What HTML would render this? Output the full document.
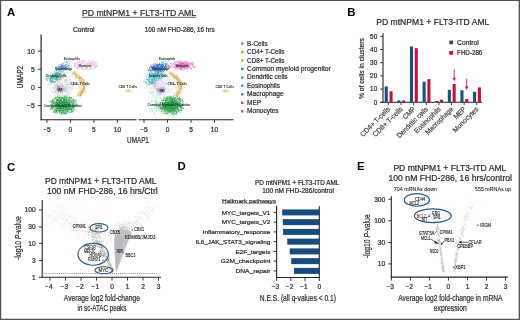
<!DOCTYPE html>
<html><head><meta charset="utf-8"><style>
html,body{margin:0;padding:0;background:#fff;}
svg{display:block;font-family:"Liberation Sans", sans-serif;will-change:transform;}
</style></head><body>
<svg width="520" height="320" viewBox="0 0 520 320" fill="#2b2b2b">
<rect width="520" height="320" fill="#fff"/>
<path d="M59.4 90.6h0M59.7 83.2h0M52.7 84.1h0M73.1 89.8h0M72.4 88.2h0M65.9 87.7h0M45.3 93.7h0M67.1 90.5h0M53.1 81.8h0M65.1 85.6h0M67.2 80.2h0M65.1 89.5h0M55.4 101.5h0M67.6 96.8h0M55.8 79.3h0M58.6 85.0h0M68.3 88.2h0M57.5 77.4h0M56.8 97.0h0M53.9 88.2h0M66.3 72.6h0M62.5 97.8h0M41.9 83.1h0M60.9 78.6h0M67.0 85.4h0M47.4 93.5h0M68.7 94.5h0M76.4 89.3h0M63.2 74.3h0M68.2 80.5h0M57.5 74.6h0M52.3 81.2h0M47.4 88.2h0M76.4 91.2h0M65.6 79.4h0M50.8 94.8h0M73.0 87.4h0M64.5 89.9h0M77.9 91.6h0M67.2 90.9h0M46.3 97.5h0M71.6 90.8h0M42.3 80.3h0M70.4 69.7h0M60.2 95.2h0M48.9 100.5h0M67.5 84.6h0M65.2 91.8h0M63.2 96.3h0M55.4 82.3h0M72.4 86.2h0M53.2 94.5h0M76.7 82.0h0M48.2 84.8h0M60.5 83.3h0M76.0 76.8h0M74.6 74.6h0M54.1 91.7h0M73.3 93.7h0M65.5 87.3h0M63.5 91.2h0M60.2 88.5h0M67.7 86.0h0M69.6 91.1h0M82.1 88.9h0M57.7 82.6h0M61.9 94.3h0M58.6 89.5h0M50.8 88.2h0M66.0 88.1h0M57.7 91.9h0M64.8 81.3h0M56.5 85.1h0M59.7 85.4h0M72.1 75.5h0M61.3 94.6h0M70.6 99.4h0M45.0 82.8h0M58.6 91.6h0M72.9 73.0h0M68.8 72.6h0M63.8 96.8h0M60.5 87.7h0M70.0 87.3h0M61.1 99.8h0M72.5 83.4h0M71.1 83.6h0M63.3 92.3h0M64.2 91.7h0M46.7 72.4h0M68.1 77.3h0M51.7 72.8h0M74.7 92.7h0M76.7 77.6h0M62.0 75.7h0M69.7 100.3h0M53.1 100.0h0M71.9 84.4h0M61.0 80.6h0M66.0 89.7h0M77.0 76.8h0M73.4 99.4h0M76.5 84.4h0M54.6 95.2h0M63.2 87.1h0M76.2 83.6h0M43.5 93.4h0M65.2 80.5h0M61.9 93.5h0M62.8 97.9h0M61.4 95.4h0M55.3 93.9h0M43.2 76.2h0M49.7 85.9h0M60.1 85.7h0M56.1 88.1h0M79.9 86.4h0M67.3 95.0h0M60.0 74.7h0M56.4 95.7h0M45.5 80.6h0M72.1 93.1h0M62.1 93.2h0M63.7 75.4h0M46.4 80.2h0M71.2 80.9h0M53.0 79.1h0M46.7 84.9h0M50.2 89.3h0M55.6 68.5h0M69.2 83.5h0M64.9 81.9h0M69.8 92.7h0M68.7 88.9h0M75.3 91.9h0M66.5 67.2h0M71.0 97.8h0M59.0 81.8h0M52.7 92.2h0M80.9 84.9h0M67.6 94.1h0M52.9 85.2h0M64.9 93.4h0M61.7 84.2h0M51.8 82.8h0M70.9 86.9h0M53.5 78.4h0M68.2 90.3h0M78.8 89.8h0M61.3 90.7h0M65.2 79.7h0M48.0 80.0h0M64.9 87.7h0M58.0 77.2h0M50.1 73.9h0M79.0 94.9h0M80.2 93.3h0M53.3 88.3h0M61.4 90.7h0M54.7 84.9h0M66.6 89.4h0M68.4 87.9h0M58.8 93.1h0M62.5 78.6h0M55.7 86.0h0M60.9 87.4h0M62.0 87.6h0M60.7 74.7h0M66.2 95.5h0M66.3 84.3h0M66.5 77.3h0M43.0 86.5h0M52.7 92.7h0M51.6 100.2h0M58.2 73.7h0M54.4 90.7h0M67.0 87.6h0M76.8 92.4h0M61.8 91.4h0M78.5 94.7h0M72.2 76.3h0M60.5 92.6h0M59.0 95.6h0M68.0 94.2h0M74.4 84.1h0M58.6 93.9h0M71.8 86.1h0M50.3 87.7h0M65.6 96.2h0M69.8 86.2h0M70.5 90.9h0M64.1 86.5h0M59.6 92.2h0M51.5 80.3h0M62.0 72.8h0M57.6 67.9h0M55.2 91.1h0M67.7 85.5h0M59.7 73.2h0M80.3 90.6h0M72.9 78.1h0M60.1 69.6h0M69.8 94.4h0M43.0 85.5h0M68.3 70.1h0M43.7 76.4h0M55.7 73.4h0M62.3 88.2h0M68.3 92.3h0M77.0 96.5h0M48.9 81.5h0M51.4 76.3h0M61.2 86.0h0M66.9 71.7h0M49.6 85.8h0M60.0 83.2h0M61.4 79.2h0M69.0 89.2h0M61.1 80.0h0M52.2 86.3h0M47.0 87.8h0M63.5 73.6h0M59.5 83.2h0M66.6 91.5h0M61.6 78.3h0M60.6 85.4h0M69.3 88.6h0M54.8 73.8h0M58.3 79.3h0M50.9 85.0h0M57.1 86.9h0M67.2 82.3h0M73.0 87.1h0M54.5 88.2h0M65.2 97.5h0M69.7 94.5h0M67.1 84.6h0M67.1 76.3h0M73.8 76.8h0M64.5 105.1h0M59.8 86.2h0M73.6 86.2h0M53.9 88.3h0M67.8 92.4h0M54.3 101.8h0M78.7 86.2h0M64.7 82.1h0M76.1 79.7h0M68.7 81.7h0M55.1 92.5h0M75.3 85.9h0M55.2 93.3h0M61.5 88.8h0M77.2 96.2h0M62.0 93.1h0M55.5 85.6h0M75.7 75.1h0M73.8 81.9h0M61.4 83.2h0M60.8 76.2h0M62.2 73.1h0M61.3 88.8h0M66.7 83.9h0M53.0 87.4h0M57.2 100.1h0M69.7 85.0h0M57.3 79.7h0M52.6 82.8h0M64.9 90.6h0M67.7 104.9h0M55.0 86.1h0M56.8 87.5h0M63.5 89.7h0M59.6 89.3h0M62.5 92.9h0M43.1 78.0h0M62.0 76.7h0M51.6 91.6h0M55.5 91.7h0M69.5 88.8h0M67.1 85.1h0M47.9 85.7h0M66.5 81.2h0M61.0 92.7h0M53.2 91.8h0M80.6 81.0h0M63.5 84.6h0M77.4 88.8h0M71.0 79.8h0M61.8 85.9h0M71.0 70.3h0M69.4 84.8h0M66.5 89.3h0M47.0 84.1h0M76.9 80.8h0M51.8 73.8h0M49.8 89.0h0M78.9 89.9h0M56.8 79.9h0M67.3 90.9h0M51.9 75.5h0M64.9 88.2h0M48.9 84.2h0M56.6 90.1h0M60.8 85.2h0M58.5 95.5h0M75.9 82.7h0M70.5 79.2h0M62.7 92.7h0M77.1 82.6h0M61.3 87.8h0M47.0 86.1h0M55.2 89.3h0M62.4 88.3h0M56.5 94.0h0M59.3 80.5h0M66.8 71.9h0M55.2 85.8h0M70.5 84.5h0M65.1 80.1h0M65.0 101.0h0M55.6 86.2h0M63.7 95.2h0M68.1 93.2h0M64.0 88.3h0M71.3 89.3h0M78.6 74.9h0M70.1 82.6h0M61.9 83.7h0M57.0 78.5h0M55.7 91.8h0M62.4 86.6h0M60.3 94.2h0M66.9 84.7h0M68.6 84.6h0M50.5 99.1h0M66.7 77.4h0M72.8 89.1h0M65.3 94.0h0M64.0 84.7h0M46.5 94.7h0M62.3 83.4h0M65.5 86.7h0M68.8 82.7h0M61.6 66.7h0M57.8 92.1h0M75.4 82.7h0M60.8 100.3h0M58.7 92.6h0M78.8 86.4h0M74.3 79.6h0M64.1 85.3h0M63.1 96.2h0M56.2 90.5h0M51.4 90.5h0M67.7 83.5h0M67.3 72.1h0M69.6 72.1h0M55.0 81.0h0M58.0 93.7h0M62.8 82.4h0M67.4 100.2h0M62.1 89.3h0M74.4 88.4h0M61.6 89.8h0M71.7 92.0h0M59.3 76.5h0M63.0 95.3h0M51.1 76.8h0M61.8 68.6h0M59.4 82.1h0M66.5 79.7h0M53.2 82.5h0M61.5 80.0h0M62.1 92.8h0M73.9 101.3h0M54.2 82.2h0M54.8 85.7h0M67.2 73.8h0M66.6 85.8h0M43.7 88.6h0M70.1 87.9h0M66.7 90.0h0M75.0 84.0h0M70.7 82.3h0M69.3 78.7h0M60.9 101.6h0M66.5 84.6h0M50.6 78.9h0M63.9 94.5h0M66.3 90.7h0M61.6 98.2h0M58.1 81.1h0M70.9 86.6h0M59.2 80.8h0M59.4 91.6h0M65.5 75.1h0M66.3 87.6h0M52.0 93.0h0M59.2 83.0h0M70.0 97.9h0M55.1 89.9h0" stroke="#a8d0d0" stroke-width="0.7" stroke-linecap="round" opacity="0.5" fill="none"/>
<path d="M60.5 91.2h0M59.5 88.9h0M61.0 87.0h0M63.3 80.0h0M79.1 84.5h0M52.5 89.1h0M51.9 90.9h0M60.0 84.9h0M72.8 84.7h0M72.3 88.4h0M58.3 89.2h0M67.5 87.9h0M70.3 88.4h0M65.2 87.0h0M61.7 84.2h0M70.2 81.3h0M72.0 79.3h0M65.9 80.8h0M65.1 79.9h0M52.8 90.6h0M66.1 80.6h0M65.4 89.9h0M57.2 83.3h0M67.8 87.2h0M61.7 71.4h0M72.7 86.0h0M64.1 82.3h0M65.8 81.4h0M56.8 79.6h0M59.8 80.3h0M55.9 87.8h0M54.8 88.0h0M56.9 86.1h0M73.6 85.2h0M58.9 84.3h0M65.0 73.6h0M59.7 85.0h0M60.7 84.5h0M69.1 88.6h0M70.3 87.5h0M62.0 83.9h0M62.1 82.1h0M62.7 73.7h0M61.7 83.9h0M57.2 83.9h0M67.6 83.0h0M62.6 73.0h0M67.6 82.2h0M70.0 86.2h0M64.2 80.5h0M68.5 81.1h0M65.6 80.9h0M65.4 88.5h0M57.9 83.8h0M68.3 84.9h0M57.6 72.5h0M70.0 93.2h0M70.5 88.9h0M59.7 79.7h0M70.2 78.5h0M51.3 78.0h0M59.2 79.6h0M65.6 79.5h0M73.2 83.5h0M56.4 91.9h0M59.9 85.3h0M63.9 82.1h0M66.3 79.8h0M55.1 79.4h0M63.8 84.3h0M67.9 84.7h0M58.4 79.7h0M49.2 83.0h0M67.4 87.2h0M63.2 83.0h0M70.6 84.1h0M69.2 87.5h0M65.5 91.8h0M60.0 81.8h0M58.3 79.2h0M64.2 87.4h0M72.2 88.8h0M72.4 76.4h0M59.5 86.7h0M74.0 84.6h0M58.0 81.9h0M59.4 78.9h0M74.5 80.2h0M64.1 97.0h0M72.3 86.0h0M59.7 86.5h0M75.4 87.7h0M72.8 84.6h0M67.6 82.8h0M67.0 91.8h0M54.0 83.6h0M65.7 80.6h0M61.8 88.7h0M78.0 87.8h0M66.3 74.7h0M77.5 84.5h0M63.8 77.3h0M63.6 77.4h0M64.5 86.8h0M64.2 85.7h0M58.0 92.6h0M59.4 73.1h0M62.7 79.4h0M56.9 81.9h0M66.0 76.9h0M63.0 92.6h0M68.8 83.1h0M64.9 83.3h0M63.7 88.4h0M63.8 78.7h0M68.6 80.3h0M65.0 97.1h0M56.7 77.3h0M50.9 86.2h0M59.5 72.8h0M53.6 87.7h0M58.6 81.8h0M66.3 92.1h0M65.0 85.1h0M61.8 86.7h0M66.0 84.3h0M60.5 76.0h0M60.3 74.7h0M72.6 87.2h0M55.6 92.4h0M70.2 72.5h0M76.9 88.9h0M67.7 86.5h0M65.4 85.0h0M71.4 75.0h0M55.3 75.6h0M60.1 80.4h0M66.6 85.6h0M64.2 79.9h0M60.9 89.7h0M69.3 84.6h0M61.7 93.3h0M59.8 87.9h0M72.1 82.4h0M69.8 77.3h0M71.1 85.2h0M52.9 88.0h0M57.8 91.7h0M59.2 83.0h0M66.0 82.0h0M65.8 80.7h0M68.7 84.0h0M72.1 84.2h0M51.5 84.6h0M67.3 90.4h0M56.4 93.3h0M63.0 88.1h0M61.4 77.3h0M71.7 89.4h0M74.8 89.1h0M60.0 74.0h0M59.4 79.9h0M58.3 87.5h0M66.3 82.4h0M65.2 83.1h0M65.5 88.5h0M70.7 79.9h0M53.5 92.6h0M64.8 90.6h0M52.5 82.0h0M64.2 75.4h0M60.4 88.3h0M71.5 93.6h0M58.0 75.6h0M67.6 89.6h0M65.4 76.2h0M69.5 88.8h0M67.9 81.1h0M66.1 88.7h0M60.1 72.9h0M66.3 86.9h0M64.1 89.3h0M59.9 83.5h0M61.9 87.4h0M75.2 82.5h0M69.5 87.5h0M76.4 82.9h0M63.2 77.6h0M67.3 92.1h0M67.7 86.5h0M62.6 85.0h0M54.0 90.3h0M61.1 77.4h0M58.7 79.1h0M70.0 90.3h0M54.5 89.6h0M70.2 80.5h0M53.6 79.5h0M59.6 86.1h0M61.5 71.8h0M65.6 74.8h0M70.3 76.8h0M59.1 78.9h0M60.2 91.8h0M70.0 87.6h0M66.2 74.7h0M60.4 80.7h0M57.2 87.1h0M58.8 79.7h0M68.2 92.0h0M65.2 78.1h0M72.5 85.8h0M70.5 92.9h0M71.9 81.4h0M71.4 88.7h0M53.2 81.6h0M54.0 83.3h0M68.0 77.6h0M66.6 92.8h0M54.7 90.4h0M62.5 85.6h0M62.9 90.0h0M71.3 84.5h0M54.5 88.4h0" stroke="#c8b8d8" stroke-width="0.7" stroke-linecap="round" opacity="0.5" fill="none"/>
<path d="M57.7 93.9h0M61.3 96.9h0M65.7 90.6h0M61.7 97.3h0M57.3 93.3h0M66.0 95.8h0M62.6 88.0h0M53.7 92.7h0M55.7 95.4h0M63.9 87.0h0M55.9 92.5h0M57.5 91.5h0M62.4 89.6h0M62.3 90.1h0M57.3 93.6h0M57.1 92.9h0M68.0 92.1h0M59.3 94.2h0M58.2 95.2h0M53.6 93.9h0M57.4 89.6h0M68.8 89.4h0M68.8 94.0h0M67.3 89.1h0M66.0 96.4h0M59.4 91.6h0M57.9 90.1h0M62.2 93.0h0M60.9 97.2h0M58.4 93.4h0M67.3 89.0h0M65.2 97.5h0M53.2 88.7h0M54.8 86.5h0M62.3 86.4h0M62.5 96.4h0M51.9 91.1h0M50.4 94.3h0M56.3 91.2h0M60.3 93.6h0M58.3 92.0h0M57.3 92.3h0M54.1 92.2h0M50.3 90.5h0M69.6 92.2h0M53.7 92.8h0M55.1 87.0h0M56.3 94.2h0M61.9 91.7h0M55.4 88.8h0M66.7 92.7h0M54.3 91.8h0M61.1 91.5h0M58.6 87.9h0M54.7 97.1h0M56.2 94.5h0M51.5 91.2h0M61.3 95.1h0M54.4 93.8h0M61.9 89.8h0M62.4 89.3h0M56.0 91.9h0M55.0 87.6h0M57.9 94.3h0M58.0 95.8h0M54.2 88.1h0M67.8 93.2h0M64.7 89.5h0M64.0 92.8h0M63.2 92.1h0M66.0 90.1h0M55.2 87.6h0M65.8 89.8h0M54.8 89.2h0M57.8 88.2h0M58.5 90.1h0M57.2 89.1h0M60.2 90.6h0M60.6 92.7h0M57.3 89.6h0M63.9 87.3h0M56.4 91.1h0M58.3 95.0h0M57.8 94.9h0M66.1 93.3h0M62.4 92.4h0M62.4 88.4h0M64.7 90.4h0M64.9 92.3h0M65.6 91.6h0M58.0 92.7h0M57.9 90.4h0M60.5 92.4h0M67.6 92.1h0M68.6 95.2h0M60.7 92.4h0M59.3 89.8h0M59.7 90.1h0M68.2 93.6h0M57.8 86.3h0M59.7 90.8h0M54.6 88.6h0M59.8 91.6h0M67.2 92.4h0M60.8 90.9h0M57.0 96.5h0M65.0 97.1h0M58.3 92.1h0M55.6 94.9h0" stroke="#b8d8c0" stroke-width="0.7" stroke-linecap="round" opacity="0.5" fill="none"/>
<path d="M50.2 81.8h0M62.2 77.6h0M52.9 81.9h0M51.4 77.0h0M51.4 83.1h0M61.8 71.5h0M51.7 78.1h0M50.7 74.1h0M54.2 81.5h0M63.2 71.7h0M51.8 77.5h0M48.6 83.9h0M52.3 82.2h0M46.4 78.2h0M55.7 74.5h0M58.9 75.1h0M51.3 81.4h0M56.5 70.3h0M64.1 73.6h0M56.2 70.7h0M51.9 78.0h0M58.2 70.8h0M54.9 78.4h0M47.4 79.8h0M59.9 79.5h0M58.0 74.6h0M49.1 77.7h0M52.8 79.0h0M57.6 81.1h0M55.3 73.7h0M63.5 75.4h0M54.9 75.0h0M46.0 79.2h0M58.3 72.8h0M50.1 80.8h0M57.4 77.8h0M60.3 78.7h0M53.2 81.4h0M52.2 81.1h0M56.6 77.1h0M59.7 74.5h0M61.5 76.3h0M55.3 75.3h0M51.5 77.6h0M54.6 77.4h0M57.6 73.0h0M52.0 78.0h0M54.9 74.1h0M61.7 71.6h0M55.9 77.7h0M57.2 78.0h0M56.9 76.7h0M46.3 80.0h0M56.6 75.8h0M51.1 77.7h0M57.0 80.2h0M52.2 76.1h0M53.3 78.8h0M56.1 77.5h0M56.6 79.3h0M61.5 69.6h0M55.8 76.0h0M54.9 72.5h0M58.0 76.1h0M52.8 76.1h0M48.1 78.4h0M59.3 76.6h0M56.1 78.3h0M53.0 78.7h0M56.4 78.2h0M55.0 76.8h0M54.0 75.8h0M59.4 69.8h0M59.7 77.3h0M57.2 72.3h0M52.1 79.8h0M56.3 73.3h0M53.3 77.0h0M56.2 77.6h0M52.6 74.8h0M63.1 77.7h0M56.5 79.7h0M58.3 77.5h0M56.5 74.0h0M59.4 78.0h0M54.3 83.9h0M65.1 73.8h0M53.2 76.4h0M52.1 79.3h0M56.3 78.7h0M59.1 76.4h0M56.4 75.8h0M53.8 75.3h0M56.2 76.5h0M55.7 74.2h0M55.7 77.0h0M56.7 73.0h0M58.7 78.3h0M57.6 74.6h0M53.0 77.7h0M60.8 78.9h0M53.9 75.9h0M57.4 76.5h0M50.6 77.5h0M56.0 78.9h0M48.9 77.6h0M56.0 72.8h0M56.5 77.6h0M53.6 74.9h0M54.8 76.4h0M55.8 74.2h0M57.9 70.3h0M54.7 77.5h0M58.8 73.1h0M57.1 74.3h0M61.1 79.3h0M54.4 79.1h0M52.8 81.6h0M60.8 74.1h0M51.1 80.8h0M62.0 76.7h0M56.5 70.6h0M54.5 82.1h0M51.7 82.8h0M64.7 74.1h0M59.9 73.4h0M50.1 79.8h0M54.6 77.4h0M58.3 74.9h0M56.9 77.5h0M58.0 81.4h0M57.5 76.1h0M53.7 76.0h0M61.5 74.0h0M50.1 78.4h0M54.3 76.3h0M58.6 71.5h0M57.8 76.1h0M50.5 80.1h0M55.8 78.4h0M54.0 78.8h0M46.8 78.6h0M60.3 77.5h0M54.6 75.6h0M53.0 80.6h0M56.9 72.9h0M54.9 74.5h0M57.0 79.0h0M56.4 70.8h0M61.0 75.1h0M57.0 79.5h0M51.8 76.9h0M53.8 77.8h0M51.5 80.9h0M58.0 75.8h0M62.4 72.0h0M60.4 72.4h0M56.1 70.5h0M56.1 76.1h0M52.5 76.8h0M53.0 76.2h0M52.4 77.1h0M50.7 79.3h0M58.6 74.4h0M55.2 81.5h0M61.0 76.8h0M60.1 73.3h0M56.5 80.0h0M52.9 78.1h0M57.6 76.9h0M55.7 80.0h0M55.7 79.2h0M61.0 75.9h0M57.1 72.4h0M49.0 78.8h0M59.6 79.4h0M50.6 80.8h0M50.8 77.4h0M55.3 79.3h0M58.0 79.3h0M52.5 81.6h0M59.6 74.8h0M56.8 74.5h0M50.2 78.8h0M55.7 82.1h0M56.8 77.2h0M57.6 73.3h0M60.0 75.6h0M49.8 82.2h0M58.5 76.7h0M61.8 72.1h0M58.7 77.5h0M53.3 82.1h0M47.4 77.5h0M56.3 73.1h0M52.7 73.4h0M54.2 74.1h0M54.9 72.5h0M57.1 75.2h0M55.7 76.7h0M54.2 73.5h0M50.8 78.3h0M54.6 71.2h0M51.4 77.5h0M51.4 80.4h0M53.8 75.4h0M52.3 81.4h0M53.4 80.0h0M54.8 71.4h0M50.8 79.7h0M58.1 78.0h0M60.4 77.5h0M53.6 77.4h0M58.3 74.0h0M57.9 70.6h0M58.1 75.0h0M56.9 76.3h0M50.2 78.6h0M60.9 71.3h0M50.1 79.7h0M52.5 75.8h0M53.3 81.6h0M51.6 75.8h0M59.7 76.4h0M52.0 81.4h0M46.3 79.4h0M60.0 73.6h0M50.6 81.5h0M59.4 74.7h0M47.2 80.7h0M58.4 77.8h0M63.2 71.8h0M53.4 78.1h0M59.4 71.7h0M58.0 73.4h0M58.4 77.5h0M50.3 79.8h0M57.3 77.8h0M50.1 77.0h0M54.4 77.0h0M50.3 83.0h0M55.2 81.8h0M59.2 74.9h0M57.1 72.5h0M53.3 76.4h0M50.0 80.2h0M56.8 80.8h0M50.9 78.2h0M57.9 76.9h0M55.0 75.8h0" stroke="#2aa08e" stroke-width="0.84" stroke-linecap="round" opacity="0.65" fill="none"/>
<path d="M64.9 67.8h0M56.1 66.7h0M57.8 65.1h0M63.5 67.3h0M63.4 65.6h0M62.2 65.6h0M64.4 68.4h0M69.6 69.5h0M60.0 66.4h0M59.5 67.8h0M70.4 68.5h0M58.2 68.1h0M63.0 67.7h0M69.7 65.7h0M59.8 70.7h0M64.3 65.8h0M63.2 69.0h0M62.5 66.0h0M60.2 70.6h0M56.4 67.5h0M63.1 68.3h0M61.5 68.1h0M66.1 66.9h0M61.3 66.9h0M59.4 66.8h0M61.9 67.6h0M68.0 69.6h0M61.3 68.3h0M64.1 68.6h0M63.1 67.7h0M61.2 65.8h0M66.3 69.5h0M65.5 68.0h0M64.0 66.4h0M56.3 68.4h0M63.7 66.2h0M59.4 69.5h0M60.3 67.2h0M61.1 67.5h0M62.2 65.9h0M67.0 65.8h0M61.1 68.2h0M61.0 66.4h0M64.3 66.5h0M58.3 67.0h0M62.2 70.3h0M58.9 68.9h0M60.1 66.6h0M61.8 67.7h0M66.2 70.3h0M60.6 69.6h0M66.7 68.7h0M60.2 68.8h0M62.6 67.8h0M62.0 68.4h0M67.2 69.2h0M62.2 69.0h0M68.4 65.5h0M68.5 64.8h0M65.0 68.3h0M68.6 67.7h0M61.2 65.8h0M58.3 68.6h0M62.1 65.9h0M65.0 65.8h0M61.4 66.4h0M62.4 64.4h0M64.0 67.3h0M64.3 68.2h0M61.8 68.9h0M66.1 67.6h0M61.5 66.3h0M65.6 65.2h0M62.4 65.9h0M57.8 68.3h0M62.9 67.3h0M66.3 64.5h0M62.7 67.7h0M66.1 65.2h0M65.7 67.6h0M68.1 69.2h0M63.0 66.4h0M61.7 65.5h0M62.9 63.8h0M62.7 68.0h0M66.7 66.6h0M68.2 66.0h0M62.5 63.8h0M60.1 65.8h0M68.5 68.1h0M59.0 68.1h0M64.8 66.8h0M63.1 66.7h0M61.0 64.1h0M62.7 69.5h0M68.2 66.7h0M60.3 66.8h0M66.3 67.8h0M60.9 67.8h0M62.2 68.1h0M61.5 64.6h0M63.2 68.5h0M58.9 67.0h0M66.2 66.5h0M60.6 70.8h0M66.0 69.0h0M59.5 70.1h0M56.9 66.3h0M65.7 69.5h0M59.6 66.0h0M63.7 63.8h0M65.3 68.2h0M61.4 68.1h0M65.8 67.7h0M64.9 69.8h0M61.3 67.5h0M61.1 69.0h0M61.5 68.0h0M63.5 67.3h0M69.2 67.1h0M68.1 68.6h0M67.8 66.9h0M66.4 68.5h0M60.8 67.7h0M62.5 67.1h0M67.7 65.9h0M61.4 66.1h0M63.1 68.2h0M69.4 67.7h0M64.7 65.9h0M65.1 69.6h0M66.2 69.9h0M66.0 64.6h0M61.9 68.2h0M64.5 65.8h0M59.8 68.9h0M58.2 69.7h0M63.1 67.7h0M58.2 66.2h0M65.5 64.7h0M58.6 67.3h0M64.7 68.5h0M61.7 66.8h0M62.1 66.2h0M63.9 67.5h0M60.7 67.6h0M63.0 67.1h0M67.0 64.2h0M63.9 65.4h0M61.9 69.8h0M59.1 67.0h0M60.9 68.8h0M59.5 64.3h0M64.9 66.6h0M61.8 69.1h0M59.8 66.6h0M63.5 67.9h0M61.1 69.0h0M71.1 66.5h0M68.1 66.6h0M63.5 66.6h0M60.7 65.0h0M61.6 69.4h0M67.1 66.6h0M61.1 66.0h0M58.7 70.3h0M65.4 67.4h0M61.2 65.4h0" stroke="#4a86c8" stroke-width="0.84" stroke-linecap="round" opacity="0.65" fill="none"/>
<path d="M69.2 62.8h0M65.4 63.0h0M65.1 62.7h0M65.4 61.6h0M67.8 62.5h0M68.7 61.1h0M69.7 63.4h0M67.0 62.5h0M65.7 61.8h0M64.8 62.1h0M67.3 63.4h0M68.6 62.9h0M66.4 61.8h0M66.4 62.2h0M63.8 62.8h0M64.4 61.5h0M67.0 61.5h0M69.8 61.9h0M69.6 63.2h0M66.2 62.4h0M69.2 61.6h0M67.1 61.4h0M67.1 61.6h0M67.1 63.1h0M69.3 62.1h0M67.3 62.9h0M66.5 60.9h0M68.9 61.0h0M68.6 61.0h0M70.1 60.9h0" stroke="#7cc4e0" stroke-width="0.7" stroke-linecap="round" opacity="0.5" fill="none"/>
<path d="M77.7 67.7h0M82.0 67.8h0M90.5 68.5h0M76.6 63.9h0M88.6 61.2h0M87.2 68.2h0M90.4 62.7h0M78.3 64.7h0M94.5 66.0h0M76.3 68.2h0M78.1 65.7h0M80.8 67.1h0M83.0 61.6h0M95.4 65.6h0M90.7 68.3h0M82.1 61.7h0M86.0 68.9h0M78.1 68.4h0M90.5 64.1h0M85.4 61.8h0M94.6 64.1h0M95.3 66.3h0M75.4 63.5h0M78.9 69.1h0M88.2 60.6h0M77.7 63.8h0M85.2 66.0h0M83.2 63.7h0M85.0 70.1h0M90.3 62.9h0M80.3 65.2h0M80.1 65.9h0M86.7 69.8h0M87.5 67.9h0M95.3 67.9h0M89.3 66.5h0M82.6 63.0h0M93.4 68.9h0M97.0 67.0h0M81.1 67.8h0M92.0 65.3h0M89.4 63.7h0M87.3 64.3h0M75.0 63.6h0M85.5 63.9h0M79.6 62.5h0M82.2 61.6h0M84.8 64.7h0M87.7 63.2h0M81.0 63.3h0M91.7 65.7h0M96.9 63.6h0M96.5 66.0h0M88.0 70.1h0M82.4 67.9h0M84.2 68.9h0M75.2 65.0h0M96.0 63.0h0M77.6 62.9h0M91.1 62.4h0M83.5 62.2h0M88.6 68.8h0M89.7 62.2h0M88.5 61.0h0M93.7 69.0h0M82.0 61.6h0M78.2 65.6h0M95.4 66.6h0M81.7 67.7h0M89.7 64.3h0M90.5 63.6h0M74.9 64.3h0M74.6 66.5h0M81.9 65.1h0M88.4 62.8h0M85.1 60.3h0M96.6 65.8h0M88.8 67.4h0M81.7 61.1h0M77.4 61.6h0M92.7 61.1h0M93.9 64.4h0M87.0 66.1h0M87.4 66.8h0M88.5 63.5h0M92.0 62.8h0M91.3 67.8h0M92.9 63.3h0M84.8 63.0h0M86.6 69.6h0M85.4 66.8h0M92.9 63.8h0M92.4 61.1h0M75.0 65.2h0M87.4 62.0h0M97.0 63.9h0M77.2 62.0h0M91.9 69.4h0M93.0 62.6h0M98.1 65.2h0M89.4 63.6h0M93.5 64.8h0M81.6 69.2h0M76.2 67.5h0M75.1 66.7h0M83.5 68.8h0M75.0 65.8h0M83.7 69.4h0M97.1 66.5h0M79.1 62.7h0M80.1 64.5h0M79.3 62.2h0M92.5 66.6h0M78.9 65.9h0M77.4 68.8h0M95.2 62.9h0M92.3 68.4h0M80.6 63.5h0M85.6 69.1h0M77.5 67.0h0M88.4 64.7h0M88.0 69.0h0M78.7 69.0h0M82.5 68.0h0M95.1 62.0h0M77.3 67.6h0M90.6 61.1h0M82.0 69.4h0M91.4 69.0h0M79.4 68.1h0M90.7 60.6h0M86.1 62.5h0M84.3 61.2h0M81.4 69.0h0M76.5 65.1h0M76.9 64.5h0M78.0 67.1h0M77.2 67.6h0M86.0 61.3h0M82.3 65.2h0M96.5 63.7h0M95.6 67.5h0M80.3 62.0h0M80.1 60.9h0M74.6 65.3h0M83.7 65.8h0M90.7 66.7h0M87.1 65.7h0M95.4 67.4h0M83.5 63.4h0M84.0 69.9h0M83.2 64.1h0M83.7 61.6h0M88.7 69.5h0M79.9 66.3h0M82.9 62.6h0M78.5 61.4h0M94.6 68.0h0M90.9 63.4h0M89.7 65.7h0M94.8 65.3h0M79.4 66.5h0M92.1 64.0h0M91.3 64.1h0M86.7 66.3h0M90.4 63.4h0M89.2 65.6h0M79.1 66.3h0M80.1 69.3h0M85.3 67.4h0M86.6 65.0h0M79.0 61.6h0M96.7 65.5h0M86.6 65.5h0M93.8 62.6h0M77.8 68.4h0M85.0 66.6h0M83.0 68.5h0M93.9 61.4h0M77.3 62.7h0M76.1 63.8h0M93.6 65.4h0M84.8 61.1h0M90.9 64.7h0M85.5 68.2h0M92.5 61.7h0M90.5 63.9h0M86.5 62.6h0M82.8 63.6h0M83.0 60.4h0M78.5 65.9h0M91.5 62.9h0M81.6 62.6h0M89.4 68.8h0M78.5 64.4h0M93.3 66.4h0M82.8 60.6h0M84.6 63.9h0M91.3 63.2h0M83.7 66.7h0M93.8 63.7h0M83.1 66.0h0M82.8 66.9h0M81.7 60.9h0M92.4 64.0h0M86.6 65.2h0M96.0 67.8h0M74.1 66.1h0M85.1 64.8h0M94.5 64.3h0M85.3 69.1h0M84.5 65.1h0M86.3 68.4h0M90.3 67.6h0M83.5 60.6h0M90.5 65.7h0M92.7 67.9h0M76.5 62.4h0M92.3 65.8h0M74.9 67.0h0M91.3 65.0h0M74.9 67.1h0M83.9 66.0h0M81.9 65.4h0M80.4 62.8h0M81.3 62.8h0M95.0 65.8h0M86.3 64.4h0M74.8 63.2h0M95.2 68.2h0M94.9 62.8h0M86.9 63.9h0M85.1 65.1h0M88.1 63.9h0M93.5 62.2h0M96.5 65.8h0M74.8 63.3h0M86.8 64.3h0M87.6 63.4h0M80.3 68.2h0" stroke="#d890c8" stroke-width="0.76" stroke-linecap="round" opacity="0.5" fill="none"/>
<path d="M80.7 78.4h0M86.0 85.9h0M81.0 83.2h0M81.6 93.6h0M75.2 72.0h0M73.2 74.3h0M79.6 91.9h0M77.1 77.1h0M82.3 96.0h0M83.9 83.4h0M83.7 88.1h0M79.3 76.2h0M79.7 91.2h0M76.4 79.1h0M74.1 76.5h0M78.4 94.2h0M82.7 81.4h0M81.3 94.6h0M82.7 88.3h0M82.5 88.5h0M73.1 74.0h0M79.8 76.7h0M84.1 85.7h0M75.8 77.3h0M81.5 94.9h0M75.2 77.9h0M80.6 90.5h0M73.3 73.0h0M82.3 80.5h0M84.0 84.7h0M76.6 72.4h0M81.7 82.3h0M80.8 87.7h0M74.9 76.7h0M77.1 92.2h0M83.1 84.4h0M81.4 77.9h0M80.8 84.3h0M78.8 93.7h0M80.3 92.4h0M83.9 86.1h0M76.7 75.4h0M78.0 80.0h0M80.2 76.0h0M78.4 93.2h0M78.9 95.3h0M79.3 81.3h0M74.2 72.9h0M81.9 79.2h0M82.3 89.6h0M77.4 76.6h0M75.1 72.9h0M81.5 85.4h0M81.2 90.5h0M83.6 86.1h0M82.9 84.1h0M75.6 74.1h0M83.9 85.6h0M82.6 79.4h0M76.2 77.3h0M76.5 77.2h0M82.0 92.6h0M81.8 93.6h0M75.1 74.6h0M79.8 92.5h0M81.8 84.8h0M76.5 74.3h0M82.9 84.6h0M83.6 83.7h0M81.3 81.8h0M77.7 77.5h0M80.4 92.6h0M82.7 83.8h0M79.9 95.1h0M82.3 83.6h0M85.0 88.8h0M78.9 77.5h0M80.3 77.6h0M73.9 71.9h0M79.3 79.7h0M79.2 92.6h0M78.2 78.3h0M82.7 86.1h0M75.5 71.7h0M81.9 75.2h0M74.9 71.1h0M84.3 86.7h0M83.3 78.5h0M85.1 93.0h0M72.0 73.5h0M80.9 95.7h0M74.5 75.1h0M79.4 77.6h0M78.4 73.9h0M80.6 80.5h0M78.1 77.9h0M76.5 83.0h0M82.9 91.3h0M85.4 82.4h0M80.4 94.0h0M83.2 90.2h0M84.0 86.8h0M81.3 92.3h0M83.5 89.3h0M79.4 81.4h0M79.6 87.4h0M80.7 89.2h0M78.1 93.5h0M80.6 94.0h0M84.8 92.5h0M86.0 85.8h0M81.2 90.4h0M82.1 93.7h0M79.2 85.2h0M77.2 93.1h0M79.7 89.8h0M78.9 78.4h0M78.8 76.0h0M82.4 82.8h0M78.9 93.0h0M83.4 88.4h0M83.7 91.4h0M83.6 91.7h0M84.8 93.5h0M80.2 82.4h0M80.5 91.6h0M83.1 78.5h0M83.7 91.7h0M72.3 72.3h0M75.7 74.9h0M83.6 92.4h0M81.5 83.1h0M80.7 80.1h0M80.2 91.7h0M83.4 86.7h0M79.3 78.9h0M85.1 89.2h0M81.2 91.0h0M76.1 74.9h0M82.2 92.0h0M78.1 76.1h0M78.0 82.7h0M77.6 78.6h0M81.9 94.4h0M85.3 79.3h0M82.9 83.9h0M77.9 95.5h0M75.4 78.2h0M82.1 84.6h0M79.7 95.0h0M82.1 82.8h0M82.2 79.6h0M77.2 72.2h0M84.0 83.8h0M79.0 82.4h0M84.6 88.0h0M75.3 73.1h0M80.4 96.1h0M82.4 79.8h0M83.2 79.8h0M84.5 84.0h0M85.9 82.9h0M81.0 80.8h0M81.7 92.2h0M84.6 88.6h0M83.2 90.2h0M81.0 93.8h0M74.6 71.0h0M78.7 81.2h0M78.2 92.0h0M77.8 74.2h0M74.2 72.6h0M81.9 81.2h0M81.7 77.1h0M83.0 90.4h0M80.4 82.7h0M80.3 97.0h0M85.4 88.5h0M79.6 82.2h0M83.6 88.6h0M79.1 79.3h0M80.2 91.1h0M82.6 91.3h0M82.3 84.3h0M79.8 92.5h0M76.0 77.9h0M79.6 80.1h0M81.3 81.2h0M78.5 95.0h0M80.7 79.1h0M79.4 94.7h0M81.1 82.8h0M75.7 74.7h0M80.3 81.8h0M79.4 95.6h0M79.6 93.4h0M81.4 83.0h0M84.1 91.4h0M79.4 80.4h0M80.6 83.8h0M84.4 85.0h0M81.6 76.9h0M80.0 81.4h0M80.9 78.2h0M83.4 86.9h0M72.0 75.7h0M83.0 92.5h0M80.3 95.3h0M79.7 78.3h0M82.5 85.0h0M83.2 90.3h0M83.3 92.1h0M76.2 74.2h0M77.6 94.3h0M84.2 87.1h0M84.1 80.0h0M79.9 94.9h0M83.1 80.5h0M82.6 91.6h0M80.4 92.6h0M85.4 84.1h0M80.8 94.0h0M76.6 75.1h0M81.6 81.9h0M81.5 84.2h0M85.1 85.5h0M83.0 80.9h0M82.0 92.7h0M81.8 90.7h0M83.9 88.1h0M85.8 91.2h0M80.6 93.8h0M81.7 89.4h0M82.7 94.4h0M76.8 74.7h0M85.6 86.5h0M78.4 79.8h0M81.0 91.4h0M79.6 78.6h0M74.6 75.4h0M80.3 87.6h0M81.7 80.2h0M80.3 88.1h0M79.7 80.4h0M72.4 72.0h0M80.3 78.1h0M75.1 72.1h0M81.4 91.1h0M73.2 73.6h0M79.2 76.9h0M84.0 87.0h0M82.0 85.5h0M78.4 77.4h0M82.5 92.7h0M82.3 91.6h0M82.4 90.7h0M73.9 71.7h0M74.2 73.8h0M83.5 86.9h0M83.8 80.4h0M83.9 83.8h0M81.7 93.3h0M77.6 95.5h0M84.0 77.5h0M77.6 95.1h0M75.9 76.0h0M83.5 82.3h0M84.7 81.8h0M80.6 80.4h0M78.9 79.7h0M78.1 76.6h0M84.1 81.5h0M78.3 76.5h0M80.4 77.6h0M84.4 85.1h0M86.5 91.2h0M77.9 93.7h0M84.0 89.5h0M74.2 73.9h0M81.0 92.7h0M83.6 89.5h0M82.1 79.8h0M79.3 73.4h0M83.3 76.9h0M73.2 74.0h0M79.5 93.1h0M82.7 91.6h0M75.5 74.9h0M76.8 76.0h0M80.1 97.4h0M80.0 93.8h0M83.4 92.6h0M75.3 76.5h0M81.7 84.3h0M78.4 77.0h0M80.2 93.9h0M78.8 87.9h0M83.7 81.6h0M84.8 90.1h0M79.8 91.4h0M75.7 76.2h0M83.1 85.8h0M79.1 82.4h0M82.1 90.8h0M79.6 84.0h0M82.2 84.7h0M75.0 73.2h0M79.2 92.4h0M83.4 83.2h0M79.8 77.2h0M80.9 94.3h0M82.7 86.0h0M75.9 75.6h0M81.5 85.9h0M83.7 87.1h0M75.3 72.5h0M81.2 88.8h0M81.4 81.7h0M83.4 88.0h0M84.3 87.5h0M83.9 88.6h0M80.3 94.0h0M82.1 86.2h0M78.5 95.8h0M80.4 75.9h0M80.2 91.0h0M83.2 87.0h0M75.5 74.1h0M78.9 95.8h0M74.0 73.2h0M78.4 78.4h0M83.6 88.0h0M81.9 96.0h0M81.6 76.4h0M75.3 77.9h0M75.3 75.0h0M79.3 95.9h0M82.9 91.8h0M77.7 75.4h0M82.3 90.9h0M80.7 93.5h0M81.4 92.6h0M82.3 85.2h0M84.9 86.7h0M83.0 86.1h0M74.2 73.1h0M83.5 84.8h0M71.5 74.0h0M79.8 88.9h0M81.5 91.3h0M81.0 83.3h0M77.3 78.2h0M79.2 83.5h0M80.3 85.3h0M79.5 81.5h0M80.2 91.8h0M80.4 91.9h0M79.7 79.7h0M81.3 89.8h0M77.7 94.8h0" stroke="#e6c47c" stroke-width="0.84" stroke-linecap="round" opacity="0.5" fill="none"/>
<path d="M83.2 90.0h0M76.8 75.3h0M84.7 88.4h0M84.0 82.6h0M83.7 81.3h0M81.8 94.2h0M83.3 89.1h0M83.9 92.6h0M82.9 88.6h0M82.2 92.1h0M83.0 82.3h0M81.0 94.7h0M83.5 82.4h0M81.8 78.9h0M82.3 80.3h0M83.1 82.6h0M80.6 96.1h0M84.7 90.5h0M81.6 91.3h0M80.9 78.7h0M80.4 78.1h0M79.9 77.8h0M81.4 92.8h0M83.7 90.3h0M82.5 89.9h0M84.8 84.3h0M76.4 75.4h0M84.7 86.7h0M83.9 79.8h0M78.4 76.0h0M84.5 84.4h0M81.4 94.8h0M82.2 82.1h0M80.7 95.5h0M76.0 74.9h0M81.0 93.3h0M73.5 73.2h0M78.9 95.0h0M79.2 75.8h0M83.6 88.2h0M83.6 89.6h0M80.9 78.0h0M74.1 73.4h0M80.9 78.1h0M80.8 95.5h0M84.9 87.5h0M84.4 86.0h0M75.5 73.8h0M75.0 74.9h0M77.6 76.0h0M77.8 73.8h0M83.9 88.2h0M80.8 78.7h0M76.6 74.7h0M82.1 78.8h0M82.9 82.7h0M82.5 88.8h0M81.4 80.7h0M81.5 91.1h0M79.6 77.9h0M82.0 92.1h0M81.6 78.1h0M73.1 73.7h0M77.2 77.4h0M85.0 87.6h0M79.0 76.3h0M76.7 77.2h0M81.7 81.7h0M84.6 87.4h0M75.4 74.1h0M73.4 73.5h0M80.6 95.2h0M82.5 80.6h0M83.6 90.8h0M80.8 77.8h0M76.4 75.8h0M80.2 78.3h0M83.1 80.8h0M83.4 90.0h0M79.3 77.9h0M83.3 80.8h0M83.0 83.4h0M81.3 92.1h0M82.3 91.7h0M79.5 78.4h0M76.8 75.5h0M83.6 82.8h0M77.1 75.1h0M83.5 83.4h0M83.0 82.6h0M76.6 75.9h0M83.4 83.1h0M81.1 94.5h0M79.8 77.5h0M84.9 90.0h0M80.8 95.4h0M81.2 91.7h0M83.0 84.5h0M79.7 78.5h0M78.7 78.3h0M75.9 74.6h0M82.1 83.4h0M83.1 89.0h0M81.4 79.9h0M79.5 77.0h0M77.3 75.0h0M80.2 95.9h0M73.4 73.3h0M84.3 87.4h0M83.7 83.1h0M84.1 89.6h0M84.0 83.7h0M84.4 86.2h0M83.3 91.1h0M80.8 94.6h0M83.6 80.0h0M81.4 93.4h0M83.8 86.0h0M81.2 93.2h0M74.2 73.9h0M83.1 82.5h0M83.3 89.5h0M83.5 85.7h0M84.3 88.0h0M73.2 73.7h0M83.9 83.2h0M83.2 84.2h0M79.9 96.0h0M83.9 86.6h0M78.4 78.1h0M79.9 96.3h0M80.3 94.9h0M82.2 79.4h0M83.8 87.7h0M74.0 73.2h0M82.5 91.5h0M73.2 72.6h0M83.8 82.6h0M84.3 85.2h0M80.4 77.7h0" stroke="#d4a040" stroke-width="0.8" stroke-linecap="round" opacity="0.5" fill="none"/>
<path d="M61.4 90.3h0M56.9 89.2h0M61.2 89.1h0M60.7 90.6h0M57.9 88.4h0M55.7 91.7h0M57.6 86.3h0M62.6 89.1h0M63.1 88.8h0M60.9 89.7h0M59.9 91.0h0M65.9 88.7h0M57.5 90.6h0M63.4 86.7h0M58.6 87.6h0M62.0 90.4h0M58.5 87.4h0M62.4 85.6h0M62.2 89.2h0M65.7 91.4h0M58.9 89.0h0M59.7 88.1h0M60.7 91.3h0M56.4 89.1h0M64.5 90.9h0M58.3 88.0h0M58.2 86.5h0M63.6 89.6h0M58.6 86.8h0M59.5 88.5h0M65.2 88.6h0M60.8 91.5h0M62.3 89.2h0M62.1 88.7h0M60.3 87.7h0M58.1 86.7h0M61.9 90.5h0M61.0 91.0h0M61.9 89.7h0M58.1 90.6h0M63.7 90.7h0M63.9 88.6h0M57.9 91.8h0M58.9 90.0h0M60.0 89.5h0M59.8 88.5h0M61.0 85.9h0M58.1 87.4h0M62.1 92.6h0M59.8 90.9h0M62.1 87.2h0M63.8 86.4h0M58.9 88.8h0M63.9 89.7h0M60.2 88.0h0M60.7 89.6h0M62.5 92.1h0M62.5 89.5h0M60.1 92.5h0M61.0 89.5h0M62.0 89.3h0M58.8 91.5h0M59.3 91.3h0M58.4 89.7h0M61.6 89.8h0M61.1 90.2h0M57.5 87.4h0M60.1 92.9h0M60.2 87.8h0M58.7 89.6h0M63.7 88.4h0M62.0 89.8h0M59.5 87.7h0M60.1 88.2h0M61.9 86.2h0M63.5 90.9h0M62.1 92.3h0M62.1 86.3h0M60.6 90.3h0M58.7 87.4h0M61.7 90.4h0M59.4 89.1h0M59.1 88.4h0M60.3 91.5h0M56.2 88.9h0M64.8 90.1h0M60.9 91.0h0M57.8 87.3h0M56.0 86.8h0M61.2 91.1h0M59.4 88.2h0M61.6 90.6h0M61.2 86.0h0M61.2 87.9h0M58.7 92.3h0M64.0 90.4h0M61.2 89.8h0M58.9 89.4h0M65.6 87.9h0M58.7 89.8h0M62.9 91.0h0M57.9 89.3h0M59.8 87.2h0M60.7 88.6h0M63.0 90.3h0M58.4 89.6h0M59.5 88.3h0M59.2 91.5h0M59.4 86.3h0M58.4 91.0h0M59.5 88.9h0M56.7 90.2h0" stroke="#a070b0" stroke-width="0.8" stroke-linecap="round" opacity="0.5" fill="none"/>
<path d="M56.9 85.4h0M58.2 86.2h0M56.1 84.1h0M59.3 86.0h0M57.2 83.4h0M58.3 85.8h0M58.2 85.4h0M57.1 84.2h0M57.5 85.4h0M58.0 86.6h0M57.5 84.2h0M58.2 87.3h0M55.8 85.6h0M57.8 85.8h0M57.7 84.9h0M56.9 87.5h0M59.5 83.0h0" stroke="#e07080" stroke-width="0.8" stroke-linecap="round" opacity="0.45" fill="none"/>
<path d="M61.4 102.5h0M55.2 106.7h0M65.6 102.4h0M76.0 110.7h0M63.2 108.2h0M65.7 110.6h0M70.0 104.8h0M69.8 101.5h0M71.4 112.3h0M63.5 107.7h0M54.7 109.6h0M72.0 100.0h0M77.9 105.6h0M54.2 98.4h0M71.9 103.7h0M73.5 97.5h0M65.3 109.7h0M61.4 108.3h0M63.6 106.7h0M57.6 108.8h0M74.9 99.5h0M64.4 96.7h0M68.1 101.5h0M62.2 100.9h0M68.0 102.7h0M59.9 103.9h0M68.8 100.8h0M73.6 96.9h0M68.8 103.1h0M76.7 101.9h0M61.5 98.5h0M79.5 108.0h0M58.6 103.4h0M59.5 112.4h0M68.8 95.1h0M67.4 109.4h0M66.0 107.3h0M65.3 106.0h0M67.4 101.6h0M68.4 105.8h0M65.7 101.7h0M59.1 106.2h0M62.4 111.6h0M72.2 101.5h0M75.2 100.2h0M60.6 114.4h0M63.0 103.9h0M54.8 100.1h0M58.0 104.3h0M53.5 110.2h0M63.6 102.1h0M61.7 108.6h0M76.4 103.0h0M75.1 106.5h0M55.9 108.3h0M63.2 105.9h0M53.2 103.6h0M67.6 100.4h0M68.0 113.1h0M67.6 101.7h0M59.7 107.0h0M67.8 109.0h0M60.6 112.1h0M69.4 110.8h0M55.6 105.0h0M75.0 105.0h0M67.2 101.9h0M73.5 101.6h0M66.8 94.9h0M66.4 106.0h0M51.0 104.8h0M62.4 104.0h0M57.4 98.4h0M57.6 108.1h0M65.7 109.0h0M58.6 107.9h0M63.0 105.4h0M72.4 105.2h0M63.6 96.9h0M66.4 108.8h0M61.7 104.7h0M53.9 98.5h0M68.8 111.3h0M63.9 96.8h0M63.4 97.3h0M64.1 114.4h0M68.1 104.3h0M73.1 103.1h0M68.3 106.0h0M69.1 97.8h0M70.9 109.3h0M59.9 112.3h0M66.1 108.3h0M69.8 109.4h0M61.6 102.1h0M68.6 108.0h0M69.9 106.7h0M62.7 110.4h0M69.2 110.2h0M61.4 105.6h0M62.7 103.5h0M67.3 106.7h0M60.6 107.7h0M60.2 107.1h0M63.5 100.4h0M74.1 113.2h0M65.3 104.8h0M72.6 98.5h0M60.0 110.6h0M72.2 102.6h0M60.6 106.7h0M56.3 102.5h0M70.1 108.8h0M73.4 97.9h0M57.1 101.0h0M59.2 103.5h0M67.4 107.3h0M76.1 99.6h0M72.1 105.7h0M57.9 105.7h0M56.3 113.0h0M60.9 110.0h0M75.0 101.9h0M59.8 105.6h0M58.7 109.5h0M67.2 101.2h0M61.2 108.6h0M60.5 104.0h0M59.6 113.1h0M71.7 111.5h0M70.5 105.4h0M77.8 108.3h0M69.0 107.9h0M71.1 106.4h0M64.8 97.1h0M61.8 106.3h0M65.8 95.1h0M63.7 106.5h0M74.2 99.0h0M68.3 105.4h0M67.0 105.7h0M63.4 98.2h0M69.2 106.9h0M70.0 111.2h0M59.6 107.0h0M65.9 108.6h0M64.8 102.0h0M67.7 107.6h0M59.2 111.6h0M74.0 107.2h0M65.2 103.8h0M54.5 108.3h0M59.2 102.5h0M73.0 100.4h0M62.3 109.3h0M79.0 101.5h0M73.7 101.7h0M68.7 107.4h0M58.0 110.1h0M78.6 105.3h0M67.9 99.1h0M78.5 105.3h0M57.1 108.8h0M55.8 101.6h0M61.4 102.1h0M62.0 107.8h0M76.2 100.0h0M69.1 96.0h0M76.7 104.6h0M61.1 112.7h0M65.3 111.8h0M73.5 113.3h0M60.4 105.3h0M68.6 104.0h0M76.7 101.4h0M73.0 111.8h0M52.3 100.2h0M59.7 102.3h0M68.7 104.1h0M66.6 102.7h0M65.4 107.4h0M71.2 101.1h0M65.2 101.2h0M64.8 97.8h0M72.7 108.4h0M65.1 101.6h0M62.8 101.7h0M57.8 107.9h0M70.2 97.1h0M52.6 107.7h0M62.5 105.4h0M66.0 102.2h0M65.0 103.5h0M74.7 104.5h0M65.8 102.4h0M61.6 101.3h0M66.1 114.2h0M73.8 106.2h0M77.7 110.1h0M67.5 104.2h0M58.3 106.2h0M63.8 97.1h0M67.5 107.5h0M67.4 102.7h0M69.2 110.4h0M63.8 107.6h0M73.2 102.6h0M67.2 101.3h0M70.2 103.2h0M74.0 101.2h0M77.8 103.4h0M60.1 100.5h0M70.6 100.7h0M69.6 97.9h0M65.8 101.4h0M53.3 107.1h0" stroke="#9ad4aa" stroke-width="0.8" stroke-linecap="round" opacity="0.5" fill="none"/>
<path d="M68.3 110.8h0M56.8 103.5h0M64.7 107.1h0M55.6 106.0h0M62.3 109.3h0M52.6 102.5h0M59.7 103.6h0M67.7 102.2h0M68.5 109.6h0M69.3 104.1h0M57.6 103.9h0M67.3 105.5h0M66.8 107.6h0M57.3 100.8h0M72.4 102.8h0M57.6 100.8h0M69.3 99.9h0M57.3 109.7h0M63.8 105.2h0M58.8 104.0h0M59.7 104.9h0M68.0 99.3h0M72.8 104.7h0M62.9 104.7h0M69.5 106.4h0M68.5 104.2h0M62.2 104.7h0M50.9 109.9h0M52.7 100.5h0M67.4 105.2h0M68.3 112.7h0M61.5 114.2h0M57.3 104.6h0M69.5 104.0h0M62.2 103.4h0M71.3 109.8h0M62.5 107.5h0M56.7 110.0h0M72.1 104.7h0M60.8 102.8h0M61.8 99.4h0M54.2 112.5h0M62.9 107.5h0M65.0 107.1h0M53.1 100.7h0M67.1 109.5h0M55.6 102.4h0M56.1 107.9h0M65.2 105.1h0M58.8 106.5h0M63.2 101.7h0M65.2 102.0h0M69.2 107.8h0M58.5 107.6h0M63.4 101.8h0M57.1 97.5h0M55.7 106.6h0M70.8 102.2h0M64.0 106.5h0M68.1 107.0h0M71.0 108.4h0M58.0 106.8h0M63.1 107.6h0M61.0 108.7h0M71.6 101.2h0M59.5 106.2h0M66.2 105.6h0M68.4 99.7h0M68.0 110.2h0M70.2 106.9h0M61.5 106.8h0M62.5 97.9h0M59.1 104.8h0M59.6 100.8h0M61.5 103.3h0M63.4 104.8h0M64.1 109.5h0M63.9 106.8h0M60.4 108.0h0M60.8 102.2h0M54.9 109.0h0M59.6 106.1h0M70.4 107.4h0M69.2 108.1h0M58.7 105.2h0M59.3 100.4h0M64.9 101.5h0M73.9 101.7h0M59.5 105.4h0M59.6 105.2h0M59.0 98.6h0M72.9 107.0h0M64.0 102.9h0M62.1 106.3h0M54.0 101.4h0M57.2 110.7h0M56.1 110.3h0M62.5 105.1h0M71.8 108.9h0M69.1 100.2h0M70.4 112.6h0M62.3 102.8h0M55.9 109.6h0M64.9 105.0h0M55.0 112.3h0M68.7 104.9h0M72.6 100.7h0M68.7 100.5h0M72.2 103.8h0M70.9 103.1h0M65.6 110.1h0M57.1 105.4h0M57.6 108.8h0M59.1 103.3h0M61.7 110.2h0M56.2 104.9h0M60.9 102.5h0M57.9 104.3h0M64.3 98.0h0M64.5 99.7h0M56.7 104.7h0M61.3 109.4h0M59.9 97.0h0M52.5 105.8h0M64.6 109.8h0M59.5 108.0h0M56.1 110.8h0M62.5 101.9h0M64.2 112.8h0M57.5 99.4h0M56.4 99.8h0M62.7 106.6h0M61.9 105.9h0M70.7 103.7h0M64.6 101.9h0M61.4 106.8h0M66.0 97.9h0M56.8 105.3h0M62.1 110.2h0M59.7 95.7h0M70.6 97.6h0M56.7 106.8h0M64.5 107.4h0M66.5 101.8h0M71.2 97.4h0M59.2 106.3h0M63.9 100.7h0M73.3 111.6h0M56.9 106.7h0M58.9 103.1h0M69.4 105.6h0M62.3 105.5h0M55.4 110.5h0M58.1 110.9h0M60.0 102.9h0M72.7 105.9h0M58.8 102.6h0M66.9 113.4h0M67.0 103.2h0M55.7 102.0h0M62.2 106.1h0M58.7 110.8h0M56.8 101.8h0M66.2 107.2h0M60.5 109.3h0M53.8 112.4h0M63.8 113.9h0M63.3 111.0h0M61.7 105.9h0M66.4 97.1h0M61.6 112.7h0M69.0 106.5h0M64.3 111.2h0M65.2 96.5h0M56.9 103.7h0M63.9 103.0h0M62.3 112.5h0M69.1 107.7h0M63.1 105.3h0M65.4 106.1h0M58.3 108.5h0M57.6 104.8h0M60.7 99.8h0M66.9 104.7h0M55.4 104.7h0M54.1 111.4h0M66.4 113.9h0M59.3 108.2h0M56.7 101.2h0M62.4 106.8h0M69.0 103.8h0M70.2 109.3h0M57.3 104.2h0M57.1 112.7h0M59.4 109.0h0M68.9 103.9h0M59.8 106.5h0M58.0 99.3h0M56.7 106.5h0M64.2 112.9h0M51.2 107.3h0M55.5 110.2h0M67.5 105.6h0M72.5 103.3h0M59.6 100.3h0M58.8 105.5h0M67.4 110.7h0M61.3 101.7h0M60.8 103.1h0M60.0 103.2h0M57.4 104.8h0M59.7 104.2h0M54.0 105.6h0M66.7 107.9h0M59.5 99.9h0M54.6 99.8h0M58.8 103.6h0M51.6 108.0h0M53.1 101.9h0M58.3 108.7h0M74.9 103.4h0M61.2 103.3h0M61.7 104.2h0M62.3 101.5h0M65.3 102.7h0M66.7 100.2h0M76.6 105.9h0M51.6 108.1h0M60.0 99.9h0M65.8 102.7h0M67.8 102.6h0M68.8 105.7h0M65.3 105.7h0M60.7 103.4h0M65.9 108.2h0M73.9 99.9h0M70.0 104.7h0M64.5 101.5h0M73.6 101.3h0M62.5 101.8h0M54.5 103.0h0M65.3 103.1h0M60.7 100.2h0M64.6 100.2h0M60.9 112.3h0M65.4 102.0h0M60.8 100.7h0M63.7 108.1h0M69.0 103.8h0M55.3 104.7h0M73.7 106.3h0M62.6 95.8h0M60.2 107.4h0M56.9 111.0h0M59.4 101.2h0M59.3 104.6h0M69.4 102.5h0M51.6 104.7h0M66.3 111.8h0M55.8 111.6h0M67.3 107.0h0M58.1 101.1h0M56.9 109.1h0M64.4 109.7h0M74.6 105.1h0M62.7 113.5h0M54.7 103.0h0M60.6 103.3h0M63.9 101.3h0M70.4 99.0h0M57.8 97.6h0M54.0 107.6h0M67.0 104.1h0M68.4 107.7h0M59.3 104.8h0M65.3 113.9h0M60.2 106.7h0M66.5 110.4h0M65.7 109.7h0M56.2 103.9h0M50.6 104.8h0M63.6 106.2h0M63.9 99.2h0M58.6 104.3h0M64.1 101.2h0M62.3 101.8h0M54.6 102.1h0M57.9 108.7h0M71.6 107.6h0M61.6 102.6h0M53.0 102.7h0M73.0 110.1h0M64.4 103.9h0M63.0 106.9h0M63.0 106.9h0M58.1 105.2h0M60.8 109.8h0M55.1 110.7h0M62.5 102.8h0M63.1 105.6h0M61.5 106.9h0M59.3 97.6h0M67.4 104.9h0M73.6 106.7h0M58.6 107.4h0M56.0 104.6h0M52.7 108.0h0M66.6 100.5h0M65.9 109.1h0M68.2 102.1h0M58.6 100.1h0M54.7 106.4h0M63.3 110.7h0M64.8 103.6h0M53.9 111.8h0M64.1 104.9h0M56.6 100.4h0M67.0 100.8h0M66.7 107.8h0M60.6 97.9h0M65.6 111.2h0M57.7 99.5h0M70.0 105.7h0M59.0 110.4h0M61.2 107.0h0M60.4 101.8h0M64.4 101.3h0M51.7 102.7h0M70.9 109.8h0M73.3 106.1h0M60.2 107.1h0M56.9 108.3h0M60.1 106.2h0M57.6 104.5h0M69.3 104.1h0M58.7 106.3h0M68.6 104.2h0M55.5 98.2h0M54.5 109.7h0M62.4 107.1h0M69.8 106.3h0M66.1 102.8h0M52.7 107.8h0M62.4 107.6h0M56.2 104.4h0M75.8 101.4h0M63.6 110.8h0M61.5 105.6h0M60.2 110.7h0M62.4 103.4h0M65.8 104.0h0M59.7 111.8h0M69.3 105.5h0M68.2 108.6h0M66.7 105.3h0M63.5 106.8h0M66.6 106.6h0M59.5 104.7h0M65.9 100.8h0M62.9 108.3h0M64.1 103.8h0M62.9 103.0h0M69.3 103.4h0M52.4 99.8h0M64.9 106.0h0M60.0 99.4h0M62.1 101.4h0M58.8 105.1h0M58.1 106.4h0M58.3 103.1h0M61.6 111.4h0M73.0 109.1h0M58.3 105.1h0M68.8 108.5h0M52.6 104.8h0M58.3 108.3h0M67.1 102.8h0M76.6 103.9h0M62.5 113.2h0M59.7 103.0h0M72.4 104.9h0M66.0 99.6h0M74.4 109.3h0M65.3 108.1h0M59.8 103.0h0M53.0 106.7h0M70.9 108.8h0M68.9 108.1h0M57.1 99.5h0M67.1 105.8h0M69.3 103.9h0M57.4 107.0h0M59.5 98.0h0M59.1 101.3h0M55.9 102.7h0M74.0 103.3h0M70.3 104.8h0M65.6 102.2h0M62.5 97.9h0M74.4 101.8h0M66.7 102.6h0M64.7 100.0h0M60.6 109.0h0M66.8 96.7h0M68.4 99.5h0M64.8 107.3h0M58.9 103.7h0M61.4 106.8h0M68.8 110.9h0M65.1 113.6h0M57.0 112.7h0M61.3 108.4h0M62.2 105.4h0M57.2 106.7h0M75.9 105.7h0M62.9 105.1h0M67.5 104.2h0M63.0 106.0h0M71.3 109.1h0M56.3 102.4h0M63.1 108.7h0M69.2 104.2h0M76.5 104.4h0M71.9 111.2h0M73.2 105.9h0M66.7 98.5h0M51.7 102.5h0M67.6 109.6h0M62.3 109.5h0M66.7 111.6h0M52.9 101.5h0M56.9 100.6h0M73.5 101.1h0M57.7 103.4h0M68.6 103.1h0M67.7 107.4h0M57.2 99.7h0M73.4 102.0h0M56.2 106.7h0M63.3 101.1h0M70.0 109.0h0M64.8 101.8h0M57.4 96.3h0M65.4 106.7h0M57.1 105.2h0M52.1 107.7h0M60.3 103.0h0M67.0 104.5h0M69.3 107.3h0M70.4 105.6h0M52.2 109.5h0M64.6 99.1h0M63.4 108.8h0M56.5 105.2h0M58.3 100.8h0M59.1 110.5h0M67.4 104.9h0M62.5 105.6h0M64.8 105.8h0M52.1 109.0h0M67.5 99.9h0M62.1 104.7h0M59.2 107.3h0M61.3 103.9h0M56.9 103.9h0M56.4 105.2h0M71.4 109.4h0M65.7 99.2h0M69.6 109.0h0M63.1 103.6h0M69.9 100.4h0M69.4 96.5h0M63.1 110.9h0M59.1 107.6h0M63.6 98.8h0M59.0 109.9h0M70.6 102.5h0M70.2 102.0h0M64.6 104.9h0M55.0 106.4h0M57.7 101.4h0M57.7 100.8h0M68.7 105.3h0M64.6 103.9h0M63.4 103.9h0M56.0 98.5h0M63.5 109.4h0M64.5 112.0h0M54.3 103.9h0M59.1 110.3h0M73.8 102.8h0M67.7 104.0h0M56.6 104.6h0M56.3 111.7h0M66.8 110.1h0M68.1 105.4h0M69.5 112.4h0M56.5 108.4h0M65.1 104.3h0M61.2 107.3h0M66.7 107.9h0M60.4 99.4h0M71.4 110.6h0M59.4 104.9h0M68.2 97.5h0M64.7 102.0h0M76.1 105.1h0M64.4 103.2h0M64.2 97.3h0M54.8 98.7h0M68.8 104.6h0M59.2 111.3h0M57.9 97.0h0M58.2 103.5h0M62.9 110.6h0M71.5 111.7h0M66.7 102.9h0M59.8 98.6h0M71.1 110.4h0M63.6 101.2h0M67.3 107.1h0M64.0 100.0h0M64.5 102.6h0M67.7 107.6h0M65.8 103.2h0M72.7 108.3h0M71.1 108.6h0M67.2 106.7h0M56.2 97.2h0M57.0 107.7h0M68.8 105.8h0M63.6 112.9h0M60.5 97.3h0M53.1 103.6h0M67.5 108.2h0M61.6 108.5h0M62.7 101.9h0M60.6 108.3h0M69.1 100.2h0M56.7 105.5h0M55.0 106.8h0M66.2 102.4h0M62.8 107.1h0M51.9 104.9h0M66.8 109.0h0M70.4 104.7h0M53.8 110.8h0M67.9 102.3h0M69.6 109.5h0M60.0 101.7h0M57.7 104.7h0M56.1 106.7h0M75.0 99.9h0M69.6 102.7h0M66.5 104.5h0M71.2 101.9h0M67.7 101.7h0M64.5 104.9h0M69.9 98.2h0M54.4 111.0h0M65.5 112.3h0M56.4 105.9h0M66.8 112.6h0M62.7 103.1h0M67.6 104.6h0M58.2 108.3h0M50.9 100.6h0M71.7 102.8h0M60.9 106.6h0M70.1 107.3h0M56.9 102.6h0M69.7 104.5h0M59.0 108.8h0M56.2 102.0h0M58.6 106.5h0M60.0 109.8h0M58.9 103.8h0M66.6 105.9h0M56.6 111.5h0M66.7 102.9h0M64.3 100.2h0M55.2 103.7h0M65.3 105.4h0M58.1 99.0h0M65.3 101.5h0M70.5 107.3h0M60.4 102.4h0M70.2 106.4h0M73.4 106.6h0M59.3 102.4h0M58.5 106.1h0M64.6 107.6h0M65.9 100.5h0M61.7 100.9h0M66.1 99.3h0M59.3 101.3h0M59.1 103.9h0M72.6 103.9h0M53.9 103.7h0M67.7 107.4h0M64.5 113.6h0M70.0 105.4h0M70.7 99.2h0M61.9 101.3h0M64.1 112.0h0M59.9 111.9h0M56.5 111.2h0M52.3 101.3h0M69.3 104.6h0M63.9 104.9h0M64.1 104.2h0M56.8 103.7h0M63.7 101.1h0M66.0 112.6h0M52.6 102.7h0M61.2 105.1h0M63.6 101.9h0M62.8 105.0h0M62.5 111.7h0M63.8 98.6h0M53.1 107.6h0M60.8 102.3h0M54.4 103.7h0M62.4 102.0h0M60.8 108.8h0M68.0 107.4h0M61.9 99.1h0M67.9 111.5h0M71.1 110.0h0M64.8 106.6h0M62.9 110.4h0M61.3 114.3h0M67.9 103.6h0M63.0 98.1h0M58.4 103.7h0M68.8 105.3h0M61.1 107.7h0M50.4 109.1h0M75.2 106.3h0M62.6 105.7h0M67.2 102.9h0M63.8 107.2h0M60.8 106.7h0M65.1 108.1h0M56.8 102.7h0M60.3 110.2h0M64.6 97.9h0M65.1 99.4h0M57.3 105.6h0M72.0 112.0h0M60.7 103.7h0M75.1 100.8h0M72.9 106.5h0M63.6 110.6h0M66.0 101.4h0M53.4 105.1h0M66.2 110.9h0M66.9 111.6h0M68.0 105.9h0M65.7 106.7h0M59.0 104.5h0M63.8 103.1h0M53.8 98.8h0M66.2 107.3h0M63.7 99.9h0M68.4 103.3h0M66.4 103.1h0M72.4 110.9h0M64.6 97.6h0M60.6 103.8h0M65.9 104.5h0M65.2 97.9h0M58.9 111.2h0M53.8 109.0h0M54.2 110.4h0M51.3 106.5h0M60.4 110.4h0M70.4 105.8h0M74.3 109.3h0M60.0 100.8h0M65.6 104.5h0M60.0 98.0h0M62.1 104.5h0M69.2 102.8h0M53.1 100.4h0M62.8 106.1h0M67.6 103.3h0M66.4 105.6h0M73.7 104.8h0M63.9 107.5h0M70.7 101.0h0M60.0 103.8h0M69.8 105.1h0M68.7 98.9h0M72.7 106.8h0M55.5 105.2h0M67.8 109.3h0M64.1 102.7h0M67.8 101.7h0M62.5 108.3h0M53.9 106.6h0M50.6 101.0h0M55.2 104.6h0M67.5 104.8h0M68.8 105.4h0M61.7 107.1h0M61.5 105.6h0M69.6 102.5h0M70.3 100.2h0M61.6 97.5h0M59.7 111.9h0M65.3 110.5h0M53.7 100.6h0M65.9 108.6h0M68.3 97.7h0M66.2 104.7h0M63.8 107.1h0M61.2 97.7h0M56.2 98.7h0M54.7 104.4h0M71.3 101.9h0M58.2 100.0h0M52.1 105.3h0M59.9 104.0h0M56.9 107.1h0M55.4 107.4h0M58.8 108.4h0M57.4 106.9h0M65.8 104.7h0M73.3 105.8h0M57.4 108.0h0M57.8 102.7h0M63.1 105.8h0M61.4 109.9h0M62.0 106.4h0M72.7 99.7h0M63.3 108.4h0M59.3 97.4h0M56.7 105.8h0M64.2 113.0h0M71.4 98.3h0M69.6 109.0h0M73.3 104.3h0M59.5 105.6h0M72.8 107.7h0M73.7 108.4h0M59.3 100.6h0M60.8 103.6h0M57.2 102.5h0M62.6 102.7h0M63.8 109.1h0M57.8 103.2h0M51.9 108.1h0M67.3 111.5h0M68.5 103.8h0M60.5 103.7h0M55.3 108.4h0M59.2 101.9h0M66.3 105.5h0M59.3 104.0h0M59.9 110.9h0M69.3 101.8h0M62.7 111.0h0M61.2 112.8h0M65.8 107.9h0M49.8 108.7h0M65.2 107.5h0M66.1 107.3h0M59.8 108.9h0M63.4 100.4h0M56.5 105.7h0M65.1 95.4h0M53.3 103.9h0M59.2 107.4h0M71.9 112.0h0M56.6 110.4h0M55.3 106.3h0M64.1 107.7h0M57.9 110.8h0M62.6 104.9h0M61.3 100.4h0M67.6 106.5h0M65.9 113.1h0M57.5 103.8h0M63.0 108.7h0M61.9 109.1h0M65.9 97.3h0M58.7 96.1h0M61.2 103.2h0M66.7 105.7h0M62.6 110.5h0M66.8 99.6h0M58.6 106.4h0M73.8 104.1h0M61.9 106.2h0M68.0 104.6h0M64.9 103.2h0M59.5 101.5h0M67.2 102.6h0M66.5 106.8h0M56.9 99.7h0M62.0 108.5h0M71.6 106.7h0M60.5 107.3h0M63.1 107.7h0M56.5 100.2h0M58.9 104.8h0M65.2 103.4h0M65.2 108.0h0M55.6 104.6h0M53.1 102.6h0M68.7 101.9h0M74.8 107.2h0M68.6 105.5h0M68.5 109.8h0M63.7 102.7h0M59.5 113.4h0M61.8 103.0h0M58.5 97.6h0M59.8 106.4h0M59.9 101.7h0M65.6 107.0h0M60.2 106.3h0M56.8 108.8h0M56.7 103.5h0M63.9 103.2h0M63.8 99.5h0M65.0 99.3h0M66.7 107.3h0M73.9 110.3h0M60.1 109.1h0M60.1 104.5h0M59.8 97.3h0M66.8 96.1h0M61.5 107.3h0M63.7 98.1h0M58.9 108.0h0M70.0 112.0h0M51.5 107.0h0M59.9 108.3h0M52.3 104.4h0M67.5 102.2h0M60.7 100.7h0M70.1 99.2h0M57.2 103.5h0M61.0 114.3h0M64.7 101.4h0M66.7 106.5h0M64.8 104.7h0M65.9 99.9h0M55.4 103.1h0M56.0 108.1h0M65.8 106.5h0M58.6 99.3h0M66.5 98.5h0M64.9 104.4h0M67.8 105.2h0M63.7 102.5h0M52.1 103.5h0M67.4 109.6h0M71.8 100.6h0M57.1 108.1h0M65.0 98.3h0M59.5 111.9h0M51.4 105.7h0M54.2 112.0h0M60.2 100.5h0M52.2 101.9h0M76.9 105.4h0M61.3 99.9h0M65.2 102.9h0M57.6 111.1h0M65.8 101.1h0M72.4 104.8h0M66.2 105.6h0M70.5 107.7h0M60.8 108.1h0M60.5 105.6h0M73.4 100.3h0M56.4 103.2h0M59.8 110.7h0M73.1 103.0h0M64.2 103.4h0M67.3 107.9h0M67.8 108.4h0M75.3 104.3h0M67.4 104.2h0M63.2 106.0h0M62.7 106.5h0M57.6 104.3h0M59.2 99.9h0M58.5 102.8h0M62.1 98.2h0M61.4 100.0h0M57.8 105.8h0M70.1 106.3h0M59.9 103.1h0M71.5 97.9h0M70.2 98.4h0M59.0 105.2h0M61.6 112.3h0M66.1 104.8h0M69.1 105.2h0M57.9 109.9h0M72.5 110.6h0M55.5 113.4h0M60.3 108.4h0M52.7 100.5h0M70.5 107.2h0M65.8 104.2h0M63.0 106.0h0M67.8 103.8h0M57.3 103.4h0M75.6 102.0h0M62.5 113.3h0M69.7 105.5h0M67.7 103.8h0M57.2 109.4h0M63.9 112.0h0M61.3 103.4h0M65.2 104.2h0M61.0 101.1h0M64.6 106.4h0M74.7 104.9h0M51.8 107.0h0M57.9 104.3h0M61.8 98.4h0M66.7 101.1h0M51.2 101.8h0M67.0 113.5h0M71.0 105.9h0M59.7 103.9h0M69.2 102.7h0M65.7 109.3h0M57.2 102.4h0M65.9 105.0h0M62.2 102.7h0M62.6 113.2h0M71.7 97.9h0M63.3 105.4h0M63.2 98.9h0M62.2 105.7h0M58.7 106.4h0M63.6 106.7h0M61.9 103.0h0M64.2 109.8h0M68.7 104.7h0M60.0 109.7h0M66.5 108.9h0M61.2 101.2h0M64.2 102.2h0M70.3 108.8h0M71.5 109.6h0M60.0 101.2h0M69.2 109.5h0M63.4 99.9h0M53.3 106.2h0M57.7 102.0h0M65.8 109.6h0M49.8 102.0h0M71.3 104.8h0M60.8 107.8h0M55.7 99.6h0M63.1 111.9h0M69.5 105.0h0M69.5 103.2h0M55.5 97.6h0M64.7 109.0h0M65.4 104.8h0M60.4 109.8h0M62.7 98.7h0M71.7 102.1h0M65.5 105.0h0M69.7 106.1h0M70.8 105.9h0M60.1 102.8h0M67.2 101.3h0M68.9 103.9h0M57.1 101.2h0M62.1 112.8h0M67.9 105.1h0M57.2 113.4h0M61.2 105.0h0M60.3 110.9h0M64.1 103.0h0M64.2 100.6h0M56.3 104.3h0M62.1 98.0h0M64.1 105.9h0M67.7 99.1h0M59.2 102.1h0M61.7 104.8h0M59.8 108.5h0M72.8 100.3h0M69.8 105.1h0M71.0 109.7h0M67.2 97.6h0M63.9 102.8h0M65.9 105.2h0M69.7 97.9h0M58.3 104.7h0M65.0 103.2h0M62.8 105.2h0M69.7 104.5h0M64.5 97.0h0M65.6 104.6h0M63.0 101.8h0M60.3 108.7h0M65.3 104.9h0M59.9 105.9h0M70.6 104.9h0" stroke="#30a050" stroke-width="0.9" stroke-linecap="round" opacity="0.8" fill="none"/>
<path d="M127.8 90.0h0M128.7 90.2h0M125.7 91.4h0M127.3 89.4h0M127.1 92.1h0M128.3 89.9h0M126.3 91.3h0M129.3 90.9h0M128.1 91.1h0M131.5 91.1h0M128.2 89.8h0M129.4 91.9h0M129.8 89.9h0M128.9 91.7h0M127.3 91.1h0M130.9 91.9h0M129.2 91.3h0M127.8 90.8h0M127.7 91.6h0M126.0 90.3h0M125.5 90.2h0M128.5 90.8h0M132.0 90.6h0" stroke="#c8c040" stroke-width="0.8" stroke-linecap="round" opacity="0.7" fill="none"/>
<path d="M162.4 89.1h0M161.5 99.0h0M160.4 87.3h0M157.9 86.0h0M158.5 94.8h0M159.2 86.6h0M158.5 92.7h0M154.3 94.3h0M153.4 92.1h0M177.9 88.1h0M158.1 75.5h0M166.3 86.1h0M168.0 80.2h0M164.1 102.0h0M163.0 83.1h0M146.2 85.9h0M165.5 91.3h0M148.0 76.9h0M149.4 77.0h0M156.3 88.4h0M178.0 87.7h0M173.3 71.3h0M174.2 93.1h0M163.3 93.3h0M165.1 103.0h0M166.9 70.6h0M158.2 97.7h0M155.6 80.2h0M155.6 88.8h0M160.8 80.5h0M164.3 91.5h0M149.9 76.1h0M139.6 83.3h0M159.1 79.8h0M153.1 84.8h0M159.3 91.1h0M167.2 89.9h0M170.0 77.4h0M165.0 89.3h0M148.7 80.0h0M163.4 86.7h0M146.6 81.1h0M174.1 93.5h0M159.8 98.0h0M150.0 84.5h0M168.5 83.0h0M148.0 91.2h0M160.5 74.9h0M156.1 73.4h0M159.4 79.7h0M149.2 82.0h0M161.1 101.6h0M161.8 99.9h0M148.5 86.6h0M154.7 72.1h0M161.4 79.3h0M153.3 76.8h0M169.1 82.4h0M157.6 87.6h0M146.9 88.1h0M157.3 90.0h0M155.2 86.3h0M164.1 94.6h0M152.2 94.6h0M149.3 84.3h0M160.3 87.3h0M157.2 94.2h0M152.0 99.4h0M141.2 86.7h0M164.3 86.2h0M161.6 94.3h0M151.0 91.2h0M169.5 83.9h0M150.6 76.6h0M163.3 78.8h0M146.1 83.5h0M174.1 92.0h0M148.9 95.2h0M153.5 91.3h0M164.6 82.0h0M157.5 96.3h0M163.9 85.5h0M163.4 101.5h0M168.2 90.2h0M162.3 72.1h0M160.3 81.7h0M166.2 80.6h0M163.4 76.6h0M167.8 79.5h0M158.7 91.1h0M155.8 86.1h0M169.5 101.7h0M141.2 78.0h0M165.7 94.4h0M154.3 86.8h0M157.0 75.4h0M143.7 74.6h0M171.9 82.5h0M178.3 91.7h0M162.8 91.7h0M166.8 94.2h0M149.4 81.0h0M153.6 86.9h0M156.5 75.0h0M152.1 101.9h0M162.8 85.7h0M150.6 92.3h0M158.3 100.8h0M163.5 83.2h0M167.4 79.7h0M167.7 92.1h0M141.6 84.3h0M162.2 92.7h0M160.5 85.9h0M155.6 83.4h0M159.0 76.6h0M165.3 83.1h0M164.2 81.5h0M163.1 87.1h0M167.8 90.1h0M168.2 84.5h0M158.5 83.7h0M146.6 84.9h0M169.8 92.8h0M150.6 88.7h0M166.4 73.9h0M162.4 88.9h0M166.4 88.3h0M178.6 82.5h0M171.6 97.2h0M159.9 75.8h0M172.5 85.7h0M164.1 90.2h0M168.4 95.0h0M145.0 73.5h0M160.4 86.1h0M166.7 84.8h0M157.2 104.0h0M172.6 96.3h0M169.2 79.0h0M158.2 85.4h0M148.2 78.3h0M160.6 75.2h0M164.4 90.2h0M156.7 83.0h0M165.0 90.3h0M162.6 75.2h0M152.6 82.8h0M141.0 78.9h0M151.8 93.1h0M154.9 81.6h0M151.3 82.1h0M143.4 88.4h0M170.8 87.4h0M153.7 97.2h0M163.8 76.9h0M153.3 80.6h0M158.6 96.7h0M152.0 84.7h0M160.1 75.5h0M154.3 91.4h0M170.2 69.4h0M166.0 83.4h0M171.7 91.5h0M178.5 88.7h0M155.1 78.6h0M144.9 90.9h0M164.1 93.2h0M162.5 72.8h0M155.0 83.9h0M160.6 92.8h0M173.0 88.5h0M147.2 88.1h0M156.8 95.9h0M169.7 82.0h0M168.3 86.1h0M163.5 97.9h0M147.7 85.4h0M174.2 79.3h0M161.1 87.2h0M154.9 74.4h0M152.2 77.3h0M169.7 88.2h0M165.9 75.5h0M164.0 87.3h0M169.4 79.6h0M167.0 98.1h0M176.8 77.8h0M147.9 73.1h0M168.5 91.3h0M162.4 78.4h0M171.4 100.2h0M158.7 84.9h0M170.8 90.5h0M172.3 82.4h0M162.4 83.0h0M153.4 83.4h0M156.2 90.5h0M156.0 86.6h0M151.0 75.2h0M173.1 77.3h0M176.9 94.3h0M154.9 86.2h0M157.2 80.7h0M171.4 84.9h0M168.5 80.0h0M152.2 97.8h0M156.2 76.3h0M157.3 95.3h0M157.4 79.7h0M165.3 94.7h0M157.0 83.2h0M157.2 101.4h0M157.5 89.6h0M138.9 87.6h0M159.5 83.2h0M155.0 74.0h0M144.3 87.5h0M152.7 85.2h0M157.2 81.5h0M151.8 102.4h0M148.1 81.5h0M156.1 75.8h0M149.5 93.6h0M168.2 87.2h0M171.2 78.8h0M169.7 100.8h0M155.3 101.9h0M151.1 76.0h0M158.6 78.9h0M165.3 76.3h0M159.8 68.8h0M158.7 95.3h0M156.4 88.8h0M169.8 76.4h0M146.5 86.7h0M161.8 83.7h0M149.5 96.7h0M147.5 83.7h0M158.6 92.4h0M154.6 78.8h0M178.9 78.6h0M166.9 84.7h0M154.3 85.6h0M156.5 88.7h0M159.7 77.5h0M177.3 91.6h0M161.3 83.3h0M172.7 82.1h0M150.9 92.1h0M149.5 79.1h0M173.3 71.9h0M158.4 87.1h0M161.6 73.2h0M156.8 83.1h0M178.0 94.8h0M151.6 93.7h0M165.5 85.0h0M156.6 83.6h0M143.8 80.5h0M168.3 98.7h0M177.3 82.7h0M156.4 74.9h0M167.2 71.4h0M148.8 76.3h0M163.0 93.4h0M150.0 101.8h0M160.6 78.7h0M162.5 85.9h0M167.3 89.0h0M152.7 92.9h0M166.6 77.2h0M151.7 78.9h0M156.9 96.8h0M153.5 86.7h0M166.2 94.5h0M162.2 76.9h0M172.5 100.2h0M172.9 89.7h0M163.7 91.6h0M144.2 93.1h0M149.4 89.7h0M149.1 92.3h0M161.0 90.5h0M150.1 83.5h0M158.5 83.5h0M154.8 78.3h0M166.6 82.6h0M151.0 89.2h0M151.1 84.5h0M154.0 77.9h0M156.8 78.8h0M146.7 89.1h0M156.1 73.2h0M155.2 87.6h0M163.3 89.3h0M161.6 91.2h0M154.2 79.0h0M165.1 82.4h0M159.2 91.7h0M168.3 96.7h0M152.3 82.8h0M164.6 73.5h0M146.7 91.3h0M153.0 77.9h0M167.0 90.7h0M168.1 83.1h0M156.2 83.0h0M162.0 68.2h0M152.3 92.2h0M151.4 85.4h0M160.3 90.6h0M154.4 76.1h0M160.2 84.3h0M168.7 77.1h0M151.2 79.4h0M154.0 88.3h0M151.3 83.9h0M173.6 98.6h0M140.8 77.7h0M155.4 97.4h0M155.8 102.7h0M162.7 98.6h0M150.6 83.3h0M169.1 91.0h0M140.7 83.6h0M160.9 91.5h0M152.8 101.2h0M160.6 98.7h0M163.1 86.7h0M156.0 75.8h0M167.6 92.6h0M168.3 82.7h0M149.2 82.7h0M156.0 85.9h0M168.8 78.0h0M154.3 92.0h0M164.3 78.6h0M148.9 79.1h0M159.8 88.2h0M158.5 80.7h0M157.3 85.3h0M164.9 86.7h0M151.2 75.8h0M173.7 85.3h0M157.4 85.8h0M170.2 83.3h0M160.8 83.9h0M164.8 77.2h0M161.1 95.0h0M170.7 91.4h0M162.0 99.7h0M166.1 98.2h0M147.3 76.4h0M167.0 83.7h0M154.9 77.7h0M173.7 75.6h0M160.2 73.9h0M157.4 105.6h0M149.2 100.2h0M150.7 70.5h0M162.5 76.6h0M144.9 95.8h0M152.0 76.7h0M160.8 84.4h0M170.1 86.8h0M174.7 95.9h0M176.6 95.8h0M159.8 90.8h0M159.4 72.5h0M147.6 92.5h0M146.6 85.5h0M149.0 88.2h0M157.2 81.9h0M159.9 74.8h0M156.3 89.2h0M169.4 92.1h0M173.6 73.7h0M165.8 99.7h0M163.0 76.4h0M163.0 81.5h0M152.8 95.3h0M157.4 76.3h0M152.5 103.1h0M150.9 91.9h0M160.9 96.2h0M156.4 77.8h0M152.9 77.1h0M156.0 97.0h0M165.6 84.4h0M165.2 88.4h0M170.2 100.4h0M156.1 85.7h0M157.4 96.7h0M162.9 92.8h0M168.0 80.5h0M160.4 98.1h0M168.2 93.1h0M156.4 82.9h0M150.8 83.7h0M158.5 73.6h0M170.5 79.4h0M161.6 91.3h0M153.8 70.3h0M168.6 89.6h0M156.7 95.9h0M167.9 77.7h0M158.4 70.7h0M156.6 98.3h0M151.0 93.2h0M144.4 83.5h0M168.4 101.0h0M163.6 92.6h0" stroke="#a8d0d0" stroke-width="0.7" stroke-linecap="round" opacity="0.5" fill="none"/>
<path d="M161.6 85.5h0M161.3 80.5h0M161.0 83.3h0M165.7 88.0h0M167.8 87.4h0M154.5 92.1h0M163.4 80.9h0M173.9 77.7h0M153.1 81.1h0M164.0 88.6h0M161.9 87.9h0M156.3 80.5h0M162.0 76.2h0M162.4 81.7h0M165.8 78.1h0M157.5 80.7h0M158.6 78.2h0M159.3 76.2h0M164.8 87.9h0M161.0 82.9h0M155.1 78.4h0M159.6 78.8h0M153.1 85.0h0M161.0 81.7h0M155.6 83.7h0M156.4 81.5h0M162.4 88.2h0M166.3 80.5h0M169.3 77.3h0M159.9 91.6h0M158.7 81.9h0M152.9 83.2h0M158.2 79.6h0M169.2 79.5h0M172.6 88.9h0M165.5 80.6h0M157.7 72.4h0M163.0 82.5h0M163.7 80.1h0M164.4 75.3h0M146.3 86.8h0M169.8 82.0h0M160.0 75.1h0M154.3 88.1h0M156.1 83.8h0M160.1 95.5h0M167.1 76.4h0M157.9 77.4h0M151.7 80.1h0M168.6 84.3h0M165.7 83.2h0M158.2 84.5h0M160.6 95.2h0M173.3 86.2h0M165.2 72.5h0M155.7 88.7h0M169.4 81.7h0M159.6 81.4h0M166.5 84.1h0M171.3 90.9h0M159.0 80.5h0M159.5 78.9h0M158.3 83.6h0M167.1 74.8h0M151.6 79.5h0M159.0 86.6h0M155.8 92.8h0M157.5 82.8h0M161.5 90.8h0M163.1 84.2h0M157.4 85.0h0M163.8 82.0h0M160.9 73.3h0M157.5 90.9h0M170.7 83.6h0M158.3 89.8h0M156.9 92.0h0M168.9 77.8h0M159.6 77.0h0M163.0 81.7h0M151.0 77.9h0M162.7 75.2h0M168.4 86.6h0M159.9 92.2h0M154.8 88.0h0M151.9 82.1h0M165.4 80.9h0M160.3 87.8h0M171.4 91.6h0M164.2 82.5h0M151.3 94.0h0M166.9 83.8h0M165.8 85.8h0M159.8 84.0h0M160.8 90.8h0M159.3 80.8h0M165.5 87.8h0M164.0 85.7h0M171.0 90.5h0M162.5 82.8h0M165.5 73.1h0M157.6 79.9h0M162.2 81.8h0M161.1 82.1h0M169.4 88.8h0M167.3 91.1h0M158.6 80.2h0M156.2 84.6h0M167.8 77.9h0M157.5 76.2h0M174.5 88.7h0M162.5 76.9h0M154.1 80.2h0M161.3 76.6h0M159.5 91.1h0M161.2 84.6h0M147.0 82.4h0M160.1 80.0h0M151.7 83.6h0M154.2 80.8h0M150.3 83.5h0M167.2 79.1h0M163.2 75.1h0M165.0 87.2h0M158.5 89.2h0M155.2 84.3h0M172.4 83.9h0M153.5 90.7h0M164.7 82.4h0M150.8 92.7h0M163.0 79.0h0M168.8 92.6h0M155.4 86.8h0M150.0 86.2h0M161.4 80.3h0M160.4 84.5h0M162.9 89.2h0M164.5 90.1h0M167.9 90.4h0M156.5 86.4h0M158.6 79.1h0M174.2 85.7h0M161.4 71.7h0M159.5 88.5h0M159.7 80.8h0M171.0 82.2h0M158.8 83.4h0M159.5 90.2h0M164.9 83.6h0M158.6 82.7h0M172.4 82.2h0M165.5 74.8h0M163.2 88.0h0M169.6 85.9h0M164.9 85.9h0M162.4 79.2h0M165.1 83.4h0M165.4 88.5h0M162.1 81.4h0M163.1 76.7h0M162.9 78.8h0M164.1 84.7h0M159.6 77.0h0M161.4 80.0h0M160.1 88.1h0M167.5 76.5h0M167.3 92.0h0M168.6 85.6h0M160.5 94.2h0M158.9 75.1h0M161.7 85.7h0M154.1 76.9h0M174.3 84.7h0M166.3 80.6h0M150.9 83.0h0M170.1 80.1h0M149.1 83.0h0M159.2 84.1h0M154.1 82.2h0M157.4 89.2h0M162.1 89.1h0M160.7 71.5h0M148.0 87.1h0M166.9 89.1h0M160.6 73.5h0M157.8 86.4h0M170.3 82.0h0M157.3 79.5h0M167.9 89.1h0M148.9 91.1h0M154.9 75.4h0M150.4 79.7h0M152.7 80.1h0M162.1 86.4h0M157.9 74.7h0M158.3 80.0h0M149.1 84.8h0M171.2 89.5h0M170.8 84.7h0M158.3 83.5h0M151.9 88.3h0M162.9 82.2h0M148.6 83.4h0M172.0 92.5h0M166.9 81.9h0M162.0 87.3h0M162.4 90.1h0M151.8 87.9h0M168.3 84.0h0M164.7 84.5h0M162.2 81.2h0M158.4 91.0h0M159.3 83.8h0M169.1 89.8h0M158.5 85.5h0M154.3 84.8h0M163.2 84.0h0M162.2 86.1h0M161.6 81.1h0M154.6 82.6h0M171.9 82.7h0M156.7 81.2h0M153.1 86.8h0M154.5 89.3h0M167.2 87.4h0M168.0 83.5h0M149.3 83.6h0M165.4 74.9h0M152.9 90.4h0M164.0 91.9h0M165.6 84.4h0" stroke="#c8b8d8" stroke-width="0.7" stroke-linecap="round" opacity="0.5" fill="none"/>
<path d="M159.1 94.5h0M156.9 91.4h0M158.6 91.1h0M149.8 88.2h0M162.1 90.8h0M157.8 91.4h0M158.4 87.7h0M157.5 90.3h0M162.3 93.8h0M151.0 89.2h0M159.8 95.5h0M160.7 91.6h0M154.5 89.1h0M152.1 93.7h0M158.4 92.8h0M156.4 93.8h0M160.8 90.3h0M161.6 89.3h0M165.5 88.2h0M155.7 88.8h0M157.3 95.9h0M153.5 97.2h0M163.9 93.1h0M154.2 94.7h0M161.7 91.9h0M150.6 91.4h0M159.9 97.0h0M148.6 92.5h0M163.2 90.0h0M154.9 88.4h0M160.8 94.4h0M159.9 92.7h0M161.9 91.6h0M160.5 94.4h0M163.4 93.5h0M157.5 94.1h0M164.9 92.4h0M152.0 90.3h0M156.3 92.2h0M153.4 94.9h0M151.8 96.9h0M160.3 87.0h0M151.1 92.2h0M158.4 90.8h0M157.1 92.5h0M151.5 92.2h0M152.1 94.0h0M163.6 95.1h0M154.0 91.8h0M158.1 91.4h0M159.0 95.2h0M159.7 92.0h0M156.1 97.3h0M160.7 92.3h0M153.4 97.4h0M163.0 94.7h0M157.6 91.1h0M153.5 92.2h0M159.7 93.6h0M156.4 88.1h0M159.8 93.8h0M157.1 88.6h0M158.0 94.2h0M159.5 95.9h0M152.0 90.0h0M157.9 88.4h0M154.1 96.1h0M158.5 91.7h0M154.3 92.1h0M156.9 88.8h0M160.9 88.2h0M163.4 91.0h0M158.5 89.4h0M163.7 90.2h0M163.5 90.7h0M156.8 88.0h0M157.3 93.2h0M156.8 88.7h0M161.5 94.7h0M156.6 94.3h0M161.9 89.1h0M156.9 86.5h0M151.9 93.3h0M152.7 93.2h0M158.9 85.9h0M154.7 96.5h0M157.1 92.4h0M153.6 87.2h0M156.1 89.4h0M157.6 86.2h0M153.3 93.0h0M152.6 94.6h0M152.9 91.6h0M163.6 93.6h0M155.4 87.5h0M149.1 95.6h0M159.6 92.2h0M163.3 92.4h0M153.4 91.7h0M156.6 92.0h0M158.4 91.3h0M153.7 89.0h0M147.7 90.6h0" stroke="#b8d8c0" stroke-width="0.7" stroke-linecap="round" opacity="0.5" fill="none"/>
<path d="M164.1 76.1h0M153.7 74.3h0M145.6 81.5h0M161.7 74.7h0M146.5 79.6h0M152.8 82.2h0M153.1 74.7h0M147.4 74.6h0M152.0 81.8h0M145.4 83.2h0M155.7 79.4h0M150.5 82.8h0M146.5 81.8h0M154.1 77.9h0M151.2 82.2h0M149.2 78.3h0M159.0 75.1h0M152.9 82.5h0M159.3 78.1h0M156.0 80.8h0M150.9 75.5h0M152.9 73.4h0M162.7 75.1h0M146.5 82.5h0M158.9 73.5h0M156.3 74.2h0M154.6 77.0h0M156.1 73.0h0M149.6 81.2h0M153.2 79.9h0M150.4 75.1h0M159.3 75.4h0M158.3 73.9h0M155.1 81.3h0M157.6 75.3h0M156.4 78.3h0M151.4 80.0h0M147.3 75.0h0M156.2 76.6h0M159.2 76.5h0M159.9 76.9h0M151.3 83.3h0M149.5 82.6h0M161.3 76.9h0M161.0 68.7h0M157.7 77.1h0M160.2 70.9h0M154.6 75.9h0M154.0 77.1h0M151.6 72.8h0M154.9 77.3h0M150.4 77.4h0M152.9 83.8h0M159.6 73.7h0M150.7 81.1h0M154.1 82.7h0M160.6 73.3h0M157.0 73.1h0M148.0 84.0h0M163.1 71.3h0M149.6 73.9h0M149.7 79.4h0M161.4 73.5h0M154.9 77.1h0M159.4 74.3h0M155.7 76.3h0M151.2 83.8h0M149.4 75.6h0M152.8 78.4h0M157.1 70.7h0M148.7 81.3h0M155.4 73.0h0M149.4 80.9h0M151.8 73.2h0M152.7 83.5h0M151.1 82.9h0M149.2 85.5h0M162.4 70.5h0M152.4 80.7h0M149.4 82.2h0M161.8 74.0h0M156.5 75.6h0M159.0 71.8h0M163.3 72.1h0M150.8 73.7h0M153.1 78.9h0M159.1 69.0h0M153.3 75.6h0M148.8 80.6h0M152.4 81.6h0M157.2 74.5h0M154.2 74.1h0M148.4 78.2h0M153.5 75.0h0M151.5 76.0h0M154.5 73.3h0M155.0 77.3h0M158.9 72.2h0M146.8 76.5h0M158.0 73.1h0M160.0 73.8h0M150.8 73.0h0M152.7 81.1h0M152.8 80.6h0M147.9 84.6h0M154.8 72.8h0M151.3 76.9h0M152.9 71.2h0M151.7 81.7h0M156.9 78.5h0M157.7 71.4h0M148.7 82.3h0M155.3 77.1h0M152.3 82.1h0M159.3 78.5h0M154.2 79.9h0M153.3 74.7h0M152.1 72.9h0M154.3 78.0h0M157.0 72.2h0M147.0 79.1h0M143.2 81.5h0M150.0 77.5h0M162.5 68.6h0M154.3 77.1h0M150.1 77.3h0M145.0 79.9h0M163.9 76.8h0M154.6 79.7h0M157.6 75.9h0M156.1 80.6h0M157.6 74.7h0M155.2 80.1h0M150.8 76.9h0M152.8 76.5h0M162.1 74.1h0M153.7 75.9h0M163.0 73.9h0M153.1 76.2h0M153.8 78.3h0M159.9 75.9h0M153.0 73.2h0M148.7 78.5h0M150.1 76.4h0M148.8 84.5h0M154.8 80.5h0M153.2 81.1h0M152.7 79.7h0M151.5 83.9h0M158.8 78.4h0M155.5 81.2h0M154.6 75.5h0M151.7 79.1h0M148.5 76.6h0M156.7 78.5h0M154.7 80.1h0M161.4 68.9h0M154.9 73.7h0M151.9 79.4h0M160.2 75.9h0M161.1 79.8h0M154.7 80.9h0M163.3 73.9h0M145.5 82.0h0M151.0 73.7h0M155.8 79.2h0M153.4 77.3h0M161.7 71.0h0M150.1 79.9h0M161.7 75.2h0M154.6 75.5h0M162.8 75.6h0M146.5 83.1h0M157.2 73.5h0M147.8 80.1h0M146.7 83.7h0M149.7 73.9h0M156.7 80.1h0M147.8 79.9h0M164.7 72.0h0M152.4 79.2h0M157.5 72.0h0M152.0 73.0h0M159.9 75.3h0M160.6 78.0h0M155.6 77.5h0M157.8 77.0h0M149.0 79.5h0M154.3 77.5h0M150.9 78.9h0M156.8 76.6h0M159.3 77.4h0M159.3 77.8h0M161.5 78.1h0M157.3 73.5h0M162.6 75.1h0M153.5 73.9h0M156.7 74.8h0M149.7 72.6h0M161.3 69.3h0M150.0 81.5h0M156.8 73.2h0M155.3 77.7h0M156.6 77.9h0M158.5 73.7h0M151.5 75.6h0M159.8 76.3h0M155.3 77.9h0M156.3 75.4h0M154.7 72.6h0M155.7 83.0h0M159.0 73.3h0M149.7 74.8h0M154.1 76.9h0M149.3 74.9h0M156.4 77.6h0M161.7 74.9h0M164.7 75.5h0M152.9 74.6h0M158.7 78.2h0M145.1 78.4h0M157.7 73.5h0M162.9 73.2h0M150.1 75.2h0M155.5 70.7h0M146.2 77.5h0M153.3 76.7h0M160.5 78.1h0M155.6 80.6h0M154.3 84.3h0M152.0 74.3h0M164.1 69.3h0M153.1 73.8h0M158.8 75.5h0M152.9 76.8h0M150.9 76.8h0M149.5 84.4h0M157.6 70.7h0M149.5 81.6h0M153.0 77.3h0M156.0 75.8h0M162.1 76.3h0M160.2 79.4h0M153.0 76.3h0M155.2 73.1h0M153.7 76.4h0M151.0 83.2h0M153.6 79.4h0M152.5 79.0h0M152.8 78.5h0M153.4 75.5h0M157.0 75.2h0M148.4 77.2h0M159.3 79.1h0M147.5 79.9h0M158.9 78.4h0M156.9 71.8h0M156.5 79.2h0M155.9 75.7h0M149.1 81.0h0M154.7 77.3h0M164.6 75.6h0M151.2 80.0h0M153.5 78.2h0M164.9 74.5h0M154.2 75.2h0M154.7 78.4h0M154.0 81.4h0M153.3 73.9h0M153.4 77.5h0M161.8 76.9h0M165.0 76.7h0M156.8 76.3h0M160.3 73.9h0M147.7 79.6h0M159.4 76.6h0M151.0 83.5h0M154.3 72.1h0M158.9 78.2h0M157.3 74.6h0M152.5 82.3h0M156.2 76.3h0M151.4 75.5h0M144.7 81.8h0M161.9 75.6h0M153.7 83.0h0M152.3 75.1h0M162.2 77.7h0M151.1 75.0h0M157.6 80.8h0M155.3 74.3h0M158.0 73.6h0M161.1 72.2h0M165.1 69.9h0M154.6 74.0h0M148.8 81.8h0M155.4 73.4h0M157.3 74.2h0M152.0 78.5h0M158.1 77.7h0M162.0 74.3h0M150.2 77.4h0M155.1 72.8h0M153.5 76.5h0M154.8 77.8h0M162.9 78.1h0M161.1 77.0h0M151.0 82.9h0M159.7 69.6h0M154.1 74.7h0M153.6 81.5h0M155.8 75.2h0M159.6 71.1h0M149.7 78.1h0M152.1 81.0h0M152.2 74.9h0M149.6 73.2h0M156.0 76.8h0M157.8 74.6h0M155.7 73.4h0M155.4 77.3h0M149.5 82.2h0M155.8 76.7h0M155.5 83.7h0M153.8 75.0h0M151.5 81.1h0M152.7 75.6h0M152.6 81.6h0M157.0 79.5h0M153.1 74.0h0M160.0 75.2h0M151.1 78.2h0M151.2 82.1h0M153.5 79.5h0M156.0 75.5h0M156.6 75.2h0M148.2 79.5h0M150.0 82.5h0M157.5 73.5h0M158.6 75.8h0" stroke="#2fb0c0" stroke-width="0.84" stroke-linecap="round" opacity="0.7" fill="none"/>
<path d="M164.0 64.5h0M158.8 65.1h0M155.7 71.3h0M161.9 69.0h0M154.0 63.3h0M149.7 69.7h0M165.3 68.8h0M155.5 71.3h0M158.2 69.1h0M158.5 71.4h0M157.3 68.2h0M160.3 65.6h0M157.4 65.0h0M157.8 67.9h0M160.9 71.2h0M148.3 70.3h0M161.0 64.4h0M159.4 67.4h0M153.8 70.0h0M169.6 67.6h0M163.6 69.4h0M158.6 69.9h0M154.7 68.5h0M163.3 70.1h0M157.3 67.0h0M161.5 67.0h0M160.0 69.3h0M155.1 70.2h0M161.0 66.6h0M152.0 67.0h0M159.1 69.8h0M148.5 70.7h0M159.7 64.7h0M163.8 67.8h0M161.0 64.9h0M153.3 70.5h0M166.7 67.3h0M157.8 66.6h0M150.0 71.1h0M158.9 70.5h0M155.4 70.5h0M155.3 69.4h0M166.2 64.8h0M163.9 66.8h0M154.0 68.7h0M162.3 65.3h0M157.4 66.4h0M154.8 67.6h0M163.3 65.7h0M165.6 65.7h0M155.6 70.6h0M166.4 64.9h0M161.8 64.3h0M156.7 66.9h0M162.4 64.0h0M156.0 66.3h0M159.1 64.5h0M159.7 63.8h0M163.1 63.8h0M165.5 64.6h0M153.3 69.4h0M170.2 67.4h0M162.2 64.2h0M149.5 69.8h0M164.5 67.1h0M159.4 70.8h0M154.8 70.7h0M163.3 65.4h0M159.7 67.7h0M161.8 64.8h0M157.8 67.9h0M159.2 67.5h0M160.3 66.9h0M156.7 70.3h0M155.4 67.2h0M153.9 65.5h0M161.4 67.1h0M158.4 68.7h0M158.3 69.2h0M168.8 67.0h0M158.1 71.6h0M162.2 63.1h0M166.2 67.0h0M163.2 64.2h0M154.2 66.6h0M161.6 64.4h0M155.5 70.3h0M155.6 68.3h0M153.6 64.2h0M158.5 67.3h0M151.6 70.9h0M163.7 69.0h0M155.9 65.2h0M158.6 68.0h0M157.9 66.3h0M153.4 66.5h0M158.4 66.4h0M167.8 65.6h0M161.3 66.1h0M157.7 65.4h0M155.9 64.4h0M153.5 69.3h0M158.1 66.3h0M162.7 65.7h0M161.2 66.3h0M164.5 69.0h0M159.7 70.0h0M162.2 70.8h0M157.8 64.0h0M160.2 67.9h0M157.0 67.3h0M157.1 64.8h0M167.9 64.4h0M152.8 64.6h0M154.5 68.0h0M167.1 67.8h0M154.7 65.1h0M153.0 68.1h0M163.5 65.7h0M159.1 62.3h0M164.8 66.5h0M162.9 69.3h0M153.6 68.4h0M159.7 65.6h0M162.7 66.7h0M157.4 72.2h0M160.4 71.2h0M158.5 70.0h0M155.0 68.4h0M161.8 66.5h0M164.8 67.1h0M158.2 64.6h0M157.0 66.1h0M157.4 68.2h0M152.2 71.0h0M157.8 69.1h0M147.6 67.9h0M157.3 66.8h0M155.5 68.7h0M160.8 64.9h0M148.8 70.7h0M157.6 70.2h0M163.6 66.6h0M151.2 67.7h0M155.5 70.9h0M150.3 70.9h0M150.6 67.3h0M151.2 66.9h0M156.7 68.7h0M156.1 69.5h0M168.3 66.6h0M152.8 67.9h0M158.3 66.7h0M165.5 69.3h0M169.8 67.2h0M162.3 65.1h0M156.1 70.1h0M159.4 64.8h0M158.6 64.7h0M158.3 64.8h0M153.9 67.0h0M152.5 67.1h0M164.9 68.6h0M162.6 66.2h0M159.4 65.6h0M157.7 65.8h0M150.9 66.3h0M169.3 67.0h0M154.9 67.8h0M157.0 70.7h0M158.6 66.0h0M162.7 67.7h0M155.1 66.2h0M159.2 63.6h0M154.4 70.5h0M163.9 69.4h0M156.4 66.4h0M157.4 66.6h0M165.7 66.0h0M165.9 64.8h0M161.5 71.0h0M154.8 66.5h0M155.2 64.2h0M157.2 66.2h0M164.0 66.7h0M160.7 69.0h0M156.0 68.0h0M160.2 71.2h0M166.5 66.8h0M152.1 70.6h0M159.0 70.3h0M159.3 67.9h0M162.2 65.3h0M154.6 70.3h0M162.8 68.9h0M165.8 63.4h0M159.3 68.2h0M164.8 69.3h0M153.9 67.6h0M157.9 66.0h0M154.4 66.6h0M165.5 69.8h0M163.5 70.9h0M159.1 64.9h0M155.5 68.5h0M164.8 69.6h0M154.5 70.4h0M156.3 69.3h0M164.3 70.3h0M156.2 68.5h0M161.1 66.2h0M159.6 68.8h0M150.0 67.2h0M155.4 63.6h0M154.0 69.4h0M162.7 68.0h0M161.9 65.7h0M167.0 63.7h0M161.5 66.5h0M150.2 70.9h0M157.7 69.4h0M165.7 66.9h0M155.4 67.5h0M159.0 70.9h0M164.0 70.6h0M162.7 65.2h0M164.2 69.1h0M158.4 68.7h0M156.8 64.8h0M158.7 69.4h0M155.0 70.6h0M160.5 70.0h0M154.8 67.1h0M153.4 66.4h0M161.7 67.5h0M156.5 68.6h0M151.9 67.6h0M150.5 65.1h0M151.4 66.0h0M167.7 69.5h0M165.4 65.2h0M161.9 64.4h0M156.1 68.5h0M150.5 69.2h0M161.5 62.2h0M158.3 67.9h0M153.1 69.7h0M159.3 65.7h0M167.7 66.9h0M163.5 71.3h0M156.2 67.4h0M149.6 68.3h0M162.0 67.6h0M151.9 66.5h0M159.6 68.1h0M154.0 67.7h0M154.9 69.6h0M162.1 65.7h0M156.1 65.0h0M159.1 69.5h0M162.5 70.5h0M156.9 65.6h0M164.7 68.9h0M155.8 70.6h0M158.8 67.4h0M168.8 67.4h0M160.5 66.5h0M160.3 69.8h0M161.1 65.4h0M161.2 66.9h0M160.5 66.8h0M162.4 65.9h0M160.6 69.6h0M159.5 64.3h0M163.9 65.5h0M155.9 68.4h0M158.0 72.5h0M158.9 72.7h0M160.9 64.3h0M158.9 67.6h0M167.0 69.5h0M154.3 69.0h0M167.1 63.9h0M156.8 66.0h0M161.8 68.1h0M158.9 69.1h0M154.6 67.2h0M162.1 71.9h0M158.7 67.7h0M165.9 66.7h0M165.9 67.1h0M165.1 67.1h0M153.7 66.2h0M161.8 71.6h0M168.7 65.4h0M154.7 70.3h0M151.1 70.8h0M161.1 68.7h0M152.6 69.3h0M163.9 66.7h0M164.4 66.8h0M160.6 66.5h0M151.6 68.2h0M161.3 65.3h0M165.8 66.0h0M155.2 71.0h0M157.5 64.1h0M156.3 65.8h0M157.6 65.5h0M159.4 68.5h0M155.8 67.5h0M158.4 69.6h0M155.3 69.8h0M165.5 66.1h0M153.6 67.5h0M149.3 67.6h0M152.5 68.0h0M157.1 69.0h0M159.7 68.4h0M158.8 68.2h0M153.1 69.9h0M166.2 69.2h0M151.9 69.5h0M150.5 70.5h0M157.7 66.6h0M154.8 67.5h0M158.6 65.2h0M159.3 68.1h0M161.7 67.0h0M164.4 67.5h0M151.7 70.0h0M158.2 68.5h0M159.1 67.7h0M158.6 70.9h0M160.9 66.6h0M158.4 72.6h0M154.1 66.9h0M160.7 67.6h0M161.0 70.5h0M165.2 67.7h0M159.1 67.3h0M158.0 70.1h0M151.8 66.0h0M156.2 65.6h0M155.4 70.9h0M151.8 67.9h0M155.5 65.6h0M151.0 68.8h0M157.2 70.4h0M168.8 65.4h0M154.5 67.4h0M161.8 69.4h0M154.0 69.4h0M159.1 70.3h0M156.7 67.3h0M153.9 65.0h0M160.6 69.0h0M165.1 67.3h0M156.1 65.7h0M152.5 66.7h0M160.8 67.5h0M157.0 65.2h0M159.0 68.8h0M152.9 65.1h0M157.3 68.4h0M158.1 71.4h0M159.4 65.0h0M162.9 65.4h0M162.7 67.2h0M165.2 64.2h0M163.0 68.0h0M154.3 69.9h0M154.8 67.7h0M166.0 67.1h0M166.7 64.8h0M165.5 62.8h0M158.0 66.9h0M156.7 70.8h0M155.8 68.8h0M169.2 68.1h0M156.5 66.1h0M148.3 69.9h0M164.1 69.5h0M161.0 72.4h0" stroke="#3a70c0" stroke-width="0.84" stroke-linecap="round" opacity="0.75" fill="none"/>
<path d="M162.5 62.9h0M163.3 62.9h0M167.8 61.9h0M161.4 62.1h0M165.6 61.4h0M166.7 61.0h0M163.6 63.0h0M163.6 61.4h0M164.0 62.7h0M167.0 63.5h0M167.2 62.0h0M161.1 62.0h0M163.3 60.9h0M163.1 61.9h0M164.1 63.0h0M162.4 63.3h0M164.1 62.8h0M166.2 60.6h0M166.8 61.2h0M164.7 63.2h0M165.6 60.3h0M164.3 63.3h0M163.8 61.9h0M164.1 63.8h0M163.0 61.0h0M162.1 61.4h0M163.6 62.4h0M163.8 60.1h0M161.2 62.7h0" stroke="#7cc4e0" stroke-width="0.7" stroke-linecap="round" opacity="0.5" fill="none"/>
<path d="M187.2 62.4h0M171.7 66.7h0M182.3 64.5h0M180.1 65.0h0M181.8 63.4h0M178.8 66.8h0M185.9 62.4h0M179.3 69.1h0M187.1 69.3h0M173.7 63.1h0M180.0 63.1h0M175.4 63.9h0M181.3 67.4h0M186.1 61.5h0M192.2 64.7h0M176.0 65.4h0M179.9 62.3h0M192.6 64.2h0M178.6 66.7h0M193.4 66.6h0M176.6 66.5h0M189.7 66.4h0M186.7 64.4h0M182.0 61.6h0M177.8 62.9h0M182.5 68.9h0M176.4 65.3h0M190.1 63.7h0M177.4 68.3h0M184.9 66.7h0M187.9 63.8h0M183.9 64.0h0M177.8 65.8h0M185.3 62.6h0M177.5 66.9h0M183.6 67.0h0M180.4 63.6h0M187.6 66.9h0M177.5 67.0h0M192.7 64.9h0M176.2 66.1h0M183.1 66.8h0M173.3 66.1h0M188.3 67.1h0M186.6 68.3h0M177.1 68.3h0M183.9 63.2h0M180.6 66.1h0M184.7 68.6h0M183.7 64.3h0M177.1 67.6h0M179.8 63.7h0M175.6 68.2h0M175.6 65.7h0M179.5 65.1h0M177.2 65.9h0M186.4 67.9h0M180.2 62.8h0M172.8 65.5h0M182.7 65.8h0M173.4 64.0h0M177.6 67.1h0M179.8 66.9h0M185.9 61.1h0M181.0 68.4h0M179.2 65.8h0M181.7 62.7h0M186.7 64.5h0M191.6 68.2h0M190.2 67.7h0M187.1 68.7h0M185.1 65.8h0M187.8 63.5h0M183.5 63.9h0M180.7 63.3h0M177.0 65.9h0M183.3 67.4h0M181.9 67.0h0M187.0 63.9h0M171.5 63.9h0M180.8 64.3h0M185.6 63.8h0M187.0 62.6h0M188.7 65.9h0M179.9 62.8h0M193.4 64.2h0M174.7 69.7h0M194.1 65.6h0M189.0 66.9h0M180.2 65.8h0M175.0 62.4h0M183.3 67.2h0M183.5 62.7h0M188.0 65.7h0M187.4 64.9h0M180.8 67.9h0M191.4 62.8h0M175.3 67.8h0M184.8 65.6h0M176.1 67.8h0M183.7 66.0h0M185.0 64.3h0M185.1 65.8h0M187.2 66.4h0M174.1 63.9h0M180.8 68.2h0M178.3 68.1h0M189.5 67.5h0M184.6 68.3h0M185.2 67.8h0M181.7 68.8h0M184.8 61.1h0M189.6 65.1h0M176.7 64.8h0M180.7 68.2h0M184.7 65.4h0M182.4 63.5h0M178.3 64.5h0M181.0 62.9h0M179.9 67.8h0M185.5 65.5h0M184.8 65.0h0M174.8 67.6h0M174.6 66.7h0M180.3 64.9h0M171.7 65.4h0M185.1 61.9h0M181.1 64.4h0M176.0 67.0h0M193.2 66.5h0M189.2 67.3h0M182.1 66.9h0M191.1 64.6h0M181.5 62.4h0M170.4 63.7h0M188.3 66.4h0M184.2 68.5h0M183.0 67.3h0M191.5 63.7h0M176.8 66.5h0M182.1 64.2h0M181.7 63.9h0M183.4 64.7h0M193.6 63.2h0M186.3 65.7h0M192.8 63.3h0M179.5 69.5h0M178.2 64.7h0M179.9 63.3h0M190.5 69.0h0M181.5 63.8h0M173.7 67.0h0M179.0 66.8h0M186.6 66.5h0M183.3 65.5h0M180.3 64.5h0M183.4 66.7h0M188.6 65.0h0M190.5 63.4h0M195.0 67.7h0M191.9 69.1h0M174.7 65.3h0M185.6 67.9h0M183.0 62.6h0M190.5 65.1h0M185.4 64.8h0M181.8 62.4h0M186.9 64.1h0M170.9 66.5h0M182.3 67.7h0M187.9 62.8h0M181.3 65.5h0M183.1 63.1h0M183.0 67.8h0M190.6 68.9h0M180.7 64.3h0M188.4 65.5h0M184.9 66.6h0M181.1 68.7h0M194.4 67.4h0M178.9 66.1h0M188.9 67.2h0M178.0 67.7h0M187.2 66.9h0M179.8 65.5h0M170.0 65.5h0M179.6 64.9h0M180.7 64.8h0M183.1 65.7h0M178.5 65.2h0M181.9 66.6h0M185.4 64.7h0M177.1 61.8h0M174.3 66.5h0M176.5 69.2h0M181.5 64.6h0M181.5 64.3h0M178.4 65.7h0M173.1 65.8h0M181.9 63.5h0M189.2 66.3h0M189.6 64.0h0M174.4 62.8h0M192.7 64.4h0M183.8 64.3h0M181.6 69.1h0M171.2 63.3h0M183.4 63.5h0M187.0 68.5h0M188.3 67.2h0M181.4 67.8h0M177.3 62.8h0M180.8 65.0h0M190.5 63.3h0M190.0 63.8h0M174.3 61.7h0M182.3 62.2h0M183.9 65.6h0M179.9 61.1h0M179.1 66.5h0M170.9 67.1h0M182.6 64.3h0M183.8 67.0h0M182.4 63.8h0M187.6 64.0h0M184.9 67.7h0M191.0 69.1h0M189.2 65.8h0M181.2 65.9h0M186.8 63.6h0M192.4 61.9h0M189.0 62.6h0M175.4 64.4h0M180.6 62.4h0M186.5 65.3h0M191.3 63.2h0M170.7 67.1h0M181.0 67.7h0M183.1 70.0h0M179.5 68.7h0M192.8 62.4h0M178.5 61.3h0M177.0 63.3h0M185.3 68.1h0M187.8 66.0h0M183.3 69.9h0M187.1 69.1h0M184.5 67.5h0M185.8 65.3h0M178.0 64.6h0M182.6 64.6h0M180.3 63.9h0M188.1 65.0h0M181.7 65.0h0M191.1 64.3h0M191.7 63.6h0M192.5 66.9h0M179.3 66.5h0M189.9 63.3h0M181.0 66.2h0M181.2 64.9h0M182.6 66.2h0M187.6 68.9h0M180.4 69.6h0M181.7 62.2h0M179.7 64.7h0M178.4 65.2h0M186.8 66.4h0M188.1 65.1h0M181.0 68.3h0M193.7 66.4h0M183.5 63.6h0M196.2 66.4h0M186.5 61.9h0M181.5 65.0h0M192.5 65.1h0M188.0 69.9h0M174.9 63.6h0M186.9 65.8h0M182.8 65.1h0M183.4 66.3h0M179.4 64.9h0M184.0 63.0h0M186.7 65.2h0M174.9 68.6h0M177.8 68.3h0M182.1 69.2h0M181.1 67.9h0M180.4 61.2h0M185.1 66.6h0M185.1 69.3h0M177.8 62.3h0M184.2 63.9h0M181.9 65.5h0M177.2 68.0h0M181.7 69.6h0M184.1 67.9h0M180.6 64.0h0M179.1 63.5h0M185.4 65.8h0M175.5 62.0h0M177.0 61.4h0M176.8 62.1h0M187.1 62.9h0M178.7 65.2h0M182.7 66.5h0M187.5 67.0h0M180.3 68.4h0M184.9 63.9h0M192.2 62.8h0M185.6 68.4h0M183.3 66.3h0M183.3 67.0h0M184.0 65.5h0M187.1 61.2h0M184.2 64.8h0M195.2 66.2h0M178.3 67.0h0M180.1 62.8h0M180.7 66.7h0M190.2 67.9h0M184.0 65.1h0M183.8 68.3h0M181.7 68.2h0M177.4 65.5h0M187.5 67.1h0M183.8 64.3h0M171.0 64.5h0M177.1 64.6h0M192.7 63.8h0M188.0 65.5h0M175.4 65.8h0M187.4 62.8h0M175.1 64.6h0M187.2 64.1h0M185.2 66.6h0M182.6 66.5h0M190.7 65.1h0M184.6 63.1h0M177.9 65.3h0M187.8 64.0h0M173.6 67.6h0M175.7 65.8h0M185.6 63.4h0M184.7 68.0h0M180.8 67.2h0M183.4 63.4h0M178.6 64.1h0M191.0 68.1h0M184.1 62.0h0M179.4 64.6h0M170.2 65.5h0M184.4 62.5h0M179.8 64.5h0M194.3 67.0h0M187.4 65.7h0M174.3 67.6h0M178.2 61.1h0M187.2 64.7h0M182.5 66.7h0M181.0 66.4h0M190.7 64.8h0M180.3 65.5h0M186.6 64.6h0M183.0 64.0h0M182.0 66.7h0M177.3 65.1h0M173.2 63.9h0M183.0 66.7h0M176.0 65.3h0M176.6 66.2h0M184.2 66.5h0M181.2 62.3h0M179.0 62.5h0M178.2 65.4h0M189.4 64.0h0M177.6 66.0h0M172.7 67.8h0M188.7 67.7h0M181.9 67.2h0M180.3 67.7h0M178.4 63.7h0M184.9 64.5h0M186.8 63.6h0M184.2 63.3h0M181.9 70.4h0M175.7 62.7h0M172.4 65.0h0M192.8 64.5h0M188.4 65.1h0M178.5 70.1h0M189.4 61.3h0M176.3 66.4h0M186.6 65.0h0M184.5 66.7h0M180.3 67.8h0M177.1 67.2h0M188.3 66.0h0M180.3 65.5h0M168.5 66.1h0M187.3 63.4h0M184.8 65.6h0M171.4 63.5h0M180.8 66.6h0M183.0 62.6h0M179.2 65.7h0M174.5 64.5h0M179.1 60.7h0M193.4 67.5h0M179.6 67.6h0M175.9 69.0h0M180.2 65.8h0M178.9 65.7h0M184.6 65.6h0M177.3 67.2h0M186.0 65.5h0" stroke="#d860b8" stroke-width="0.8" stroke-linecap="round" opacity="0.6" fill="none"/>
<path d="M181.1 96.3h0M181.3 84.6h0M177.0 95.6h0M171.6 72.3h0M173.4 76.2h0M179.1 77.6h0M175.7 74.2h0M178.3 75.9h0M176.4 97.1h0M174.9 76.3h0M178.9 88.7h0M176.4 77.3h0M173.5 75.8h0M178.1 82.3h0M176.5 77.2h0M177.4 77.6h0M178.9 81.9h0M171.8 74.8h0M169.3 72.4h0M180.2 83.1h0M178.6 94.1h0M179.7 81.0h0M179.4 81.9h0M173.7 76.2h0M173.4 75.9h0M171.7 75.8h0M179.6 86.6h0M178.2 88.1h0M180.0 83.6h0M182.0 81.4h0M173.9 78.8h0M177.9 81.0h0M176.5 79.4h0M177.3 93.3h0M178.0 83.7h0M178.1 76.1h0M175.2 78.0h0M181.0 86.1h0M178.2 95.8h0M176.2 95.1h0M176.3 91.7h0M176.5 76.6h0M168.8 76.6h0M179.6 84.9h0M176.9 92.8h0M176.4 95.9h0M176.4 78.8h0M174.7 95.6h0M177.7 95.5h0M177.5 91.2h0M177.9 90.8h0M176.6 76.9h0M178.0 84.5h0M178.8 93.6h0M177.5 74.1h0M180.3 85.4h0M178.6 90.8h0M181.6 88.7h0M181.8 88.8h0M178.3 91.2h0M176.6 92.5h0M180.2 88.1h0M179.4 85.1h0M180.5 82.6h0M175.9 78.6h0M170.4 70.6h0M171.9 75.9h0M177.8 90.0h0M176.6 81.1h0M179.2 86.5h0M179.4 82.0h0M174.9 78.6h0M180.6 92.4h0M178.4 85.2h0M176.2 77.2h0M176.2 91.7h0M176.7 93.9h0M171.8 75.4h0M176.2 75.1h0M175.9 93.3h0M179.3 86.0h0M172.9 76.6h0M178.2 77.5h0M175.0 75.5h0M175.6 79.7h0M181.6 86.2h0M178.4 79.1h0M168.2 75.0h0M178.0 87.3h0M171.0 73.0h0M170.1 73.4h0M180.1 81.5h0M180.8 87.5h0M181.2 88.4h0M178.6 95.1h0M179.7 88.2h0M179.3 93.9h0M182.4 92.0h0M176.5 95.3h0M173.8 78.8h0M174.2 73.3h0M174.8 81.0h0M174.3 81.8h0M181.4 90.8h0M178.0 80.4h0M169.6 72.3h0M171.5 73.3h0M177.4 92.2h0M178.4 82.9h0M179.8 80.0h0M176.7 80.9h0M176.2 94.9h0M175.6 95.3h0M179.7 82.3h0M178.4 91.9h0M175.0 77.3h0M172.0 74.2h0M177.7 97.8h0M171.2 72.9h0M176.4 74.3h0M170.2 76.5h0M171.6 73.7h0M175.2 76.1h0M180.1 81.9h0M172.9 76.9h0M179.1 84.9h0M177.2 91.7h0M171.5 74.1h0M179.4 85.1h0M175.3 94.9h0M181.2 87.5h0M176.5 75.4h0M179.4 88.2h0M178.7 92.3h0M177.5 80.5h0M176.5 91.4h0M173.9 76.6h0M174.1 78.2h0M179.6 84.0h0M179.3 82.0h0M174.5 77.7h0M175.2 94.0h0M181.8 82.3h0M179.0 93.2h0M176.6 95.9h0M176.6 93.8h0M179.6 86.3h0M179.8 91.2h0M172.6 75.5h0M177.9 80.8h0M181.0 80.8h0M182.1 80.8h0M181.5 85.6h0M176.0 78.8h0M169.2 72.5h0M176.8 90.1h0M181.5 88.6h0M174.5 77.0h0M174.7 79.3h0M179.0 81.5h0M181.4 84.4h0M179.1 81.8h0M176.8 83.2h0M178.7 77.5h0M178.9 82.9h0M171.1 78.5h0M178.1 83.8h0M179.4 82.8h0M169.0 73.7h0M178.2 83.6h0M176.4 80.0h0M177.8 80.4h0M173.0 74.0h0M180.7 84.4h0M178.1 88.5h0M180.0 87.1h0M178.6 94.3h0M182.9 88.1h0M175.0 78.1h0M182.2 82.7h0M174.4 92.5h0M177.4 81.0h0M179.8 84.8h0M180.7 83.4h0M167.6 76.2h0M175.0 77.9h0M176.8 83.1h0M177.4 84.5h0M178.5 92.8h0M175.0 79.1h0M180.8 85.9h0M182.2 85.7h0M177.3 79.5h0M174.4 76.0h0M177.1 87.4h0M176.6 77.5h0M178.4 96.2h0M179.6 87.3h0M177.7 86.5h0M179.5 78.0h0M178.5 94.2h0M172.7 77.6h0M181.8 87.2h0M175.3 87.1h0M178.1 81.5h0M179.8 89.9h0M178.4 87.2h0M172.8 75.1h0M174.1 95.3h0M178.8 85.0h0M172.0 76.7h0M181.1 86.7h0M176.0 78.8h0M169.6 74.2h0M176.3 75.7h0M179.5 90.2h0M173.3 76.0h0M178.2 88.0h0M177.4 79.5h0M177.7 81.0h0M178.3 81.1h0M179.0 79.3h0M179.5 89.8h0M175.8 95.5h0M177.8 94.5h0M178.4 83.2h0M174.9 77.6h0M183.0 89.8h0M177.1 82.3h0M176.8 74.1h0M177.9 87.6h0M175.4 89.4h0M179.1 81.6h0M172.0 72.7h0M178.4 84.4h0M177.7 92.2h0M180.3 85.6h0M179.1 85.3h0M179.1 84.2h0M180.1 82.7h0M180.1 82.2h0M178.1 81.4h0M179.6 84.9h0M178.7 84.7h0M178.0 95.8h0M170.2 73.4h0M180.4 84.1h0M179.1 83.3h0M181.8 86.6h0M178.1 86.8h0M170.2 75.4h0M179.6 86.3h0M180.0 85.2h0M178.4 88.7h0M179.9 80.8h0M180.4 86.9h0M177.2 84.1h0M179.0 91.3h0M174.0 94.6h0M180.5 82.7h0M177.0 78.0h0M179.0 78.6h0M174.1 73.4h0M180.9 91.0h0M173.5 76.3h0M172.0 77.0h0M176.1 92.4h0M177.3 77.5h0M180.0 85.3h0M181.6 87.6h0M177.9 86.2h0M181.6 88.1h0M178.5 85.1h0M181.4 88.7h0M176.3 80.3h0M174.8 78.2h0M175.7 95.3h0M175.2 81.8h0M175.8 75.7h0M176.1 96.8h0M179.1 86.6h0M172.3 75.5h0M181.2 83.2h0M180.3 88.0h0M178.5 82.8h0M178.1 76.6h0M177.7 91.5h0M169.9 73.3h0M178.9 97.1h0M176.2 96.7h0M172.0 74.7h0M180.1 88.7h0M181.5 92.1h0M177.4 89.6h0M180.0 83.6h0M171.1 74.9h0M181.1 84.6h0M180.2 84.5h0M172.2 73.6h0M172.5 77.5h0M177.8 84.8h0M173.8 78.9h0M174.1 92.5h0M178.5 77.3h0M176.2 87.5h0M178.2 88.1h0M170.1 73.7h0M177.7 80.5h0M176.6 94.6h0M180.2 92.1h0M170.2 71.4h0M171.9 73.7h0M179.6 96.0h0M184.6 87.5h0M178.9 86.7h0M176.6 93.0h0M181.3 85.0h0M179.5 79.7h0M169.3 72.9h0M171.6 75.3h0M170.8 73.8h0M185.1 89.7h0M178.0 91.7h0M176.1 82.5h0M178.3 92.6h0M178.7 84.7h0M175.8 77.2h0M176.8 89.9h0M176.5 96.6h0M180.8 82.6h0M183.2 85.7h0M182.1 85.2h0M177.7 96.5h0M169.9 73.3h0M178.0 79.5h0M179.3 82.3h0M173.1 74.7h0M174.6 92.3h0M173.8 73.7h0M171.4 72.8h0M178.6 78.0h0M180.5 85.4h0M172.2 72.5h0M175.9 75.5h0M177.1 85.7h0M181.6 86.6h0M180.0 84.2h0M181.6 89.3h0M180.6 79.5h0M181.1 85.8h0M181.3 86.2h0M179.2 87.4h0M180.8 81.9h0M176.7 79.2h0M179.5 86.8h0M180.9 87.5h0M181.6 84.2h0M180.5 80.5h0M170.0 71.6h0M178.7 86.8h0" stroke="#e6c47c" stroke-width="0.84" stroke-linecap="round" opacity="0.5" fill="none"/>
<path d="M178.5 94.5h0M179.9 79.9h0M179.2 90.4h0M179.8 83.8h0M180.8 82.6h0M177.2 96.4h0M173.5 76.2h0M176.6 77.9h0M176.3 78.3h0M178.2 79.1h0M179.4 80.7h0M174.1 76.2h0M177.1 95.4h0M174.0 74.7h0M176.9 95.2h0M179.3 92.8h0M180.4 85.0h0M180.4 82.2h0M170.5 72.8h0M179.1 93.1h0M176.4 78.0h0M180.4 91.3h0M180.1 88.6h0M179.7 80.4h0M177.6 78.5h0M178.1 79.5h0M178.6 79.7h0M181.0 83.8h0M180.4 84.1h0M175.8 78.0h0M180.0 89.3h0M177.6 80.3h0M173.1 75.1h0M174.1 76.0h0M178.1 80.0h0M179.9 81.3h0M180.3 89.7h0M179.0 92.6h0M178.7 80.0h0M180.3 89.4h0M177.7 96.0h0M180.0 83.1h0M176.4 77.0h0M176.9 78.6h0M179.6 90.5h0M180.4 89.2h0M170.7 74.5h0M181.4 87.3h0M175.7 77.3h0M176.1 94.5h0M170.5 73.5h0M172.9 74.2h0M180.1 86.0h0M178.8 91.6h0M177.7 79.3h0M180.0 89.4h0M171.4 73.7h0M179.9 80.8h0M174.8 77.0h0M178.0 79.5h0M177.6 93.2h0M181.6 83.9h0M181.6 87.2h0M180.4 85.0h0M181.3 81.4h0M176.4 95.4h0M180.4 89.2h0M172.8 74.1h0M177.5 76.7h0M180.7 89.3h0M178.2 93.7h0M172.3 73.6h0M181.4 83.1h0M177.5 92.9h0M180.9 84.7h0M182.1 84.0h0M179.3 82.9h0M181.5 85.4h0M176.3 95.2h0M180.2 85.1h0M178.2 80.1h0M178.6 92.3h0M174.5 77.9h0M176.8 76.1h0M181.8 84.9h0M174.0 75.5h0M176.8 79.4h0M178.0 95.0h0M181.1 83.6h0M180.2 82.1h0M180.9 85.7h0M181.2 87.4h0M171.4 74.3h0M181.1 88.3h0M181.0 86.9h0M179.5 82.3h0M175.8 76.5h0M180.8 88.6h0M177.7 95.7h0M181.1 84.0h0M174.7 75.9h0M174.1 74.2h0M179.0 81.4h0M170.2 74.0h0M178.1 92.0h0M175.6 77.4h0M181.4 84.3h0M180.4 93.7h0M175.0 76.0h0M175.8 75.9h0M180.5 82.9h0M181.0 88.5h0M180.5 84.8h0M177.7 77.8h0M178.7 91.8h0M177.7 79.6h0M171.6 74.7h0M174.3 77.2h0M177.5 93.3h0M171.2 75.2h0M182.1 87.6h0M178.3 94.2h0M176.2 78.4h0M180.0 91.2h0M176.6 79.0h0M180.7 83.1h0M176.2 78.0h0M177.2 96.1h0M178.9 93.0h0M176.0 75.6h0M179.8 91.7h0M172.6 74.1h0M173.3 75.3h0M179.3 89.7h0M182.1 88.6h0M174.2 77.1h0M177.2 77.3h0M180.5 89.3h0M179.7 91.8h0M181.8 85.6h0" stroke="#d4a040" stroke-width="0.8" stroke-linecap="round" opacity="0.5" fill="none"/>
<path d="M159.6 92.7h0M159.4 90.3h0M163.8 87.6h0M161.2 89.7h0M161.5 93.6h0M162.3 88.0h0M163.6 89.7h0M161.5 92.6h0M160.1 92.3h0M161.5 88.9h0M160.1 88.0h0M164.3 90.8h0M163.7 88.5h0M163.3 88.3h0M161.8 90.5h0M159.4 91.1h0M161.1 88.9h0M159.0 88.1h0M164.8 90.8h0M160.0 91.8h0M158.6 88.4h0M162.0 93.4h0M161.8 90.8h0M160.8 88.0h0M157.7 90.1h0M159.3 91.0h0M158.2 90.0h0M160.2 90.0h0M159.6 90.3h0M156.1 89.7h0M159.6 88.6h0M163.2 88.9h0M164.9 91.4h0M158.8 91.6h0M159.4 91.6h0M163.5 92.6h0M158.1 90.3h0M161.0 88.3h0M162.1 91.8h0M157.2 89.5h0M158.0 88.2h0M158.1 93.0h0M159.2 89.8h0M163.7 92.4h0M163.1 87.3h0M159.3 89.7h0M159.4 94.1h0M160.5 92.7h0M160.5 90.4h0M162.4 91.3h0M162.4 87.3h0M162.4 91.1h0M162.6 90.4h0M162.1 88.1h0M164.1 88.3h0M164.9 92.4h0M160.8 90.0h0M163.1 89.9h0M157.7 91.0h0M157.6 89.7h0M165.9 92.0h0M159.8 90.4h0M159.2 90.5h0M157.0 91.8h0M161.0 89.4h0M159.8 89.6h0M159.4 89.6h0M164.6 91.8h0M162.2 91.2h0M165.2 91.8h0M161.6 91.0h0M161.6 90.5h0M160.3 86.4h0M162.6 90.6h0M163.7 91.1h0M160.2 91.6h0M161.5 89.7h0M160.0 89.7h0M160.2 89.7h0M160.7 92.6h0M159.7 90.2h0M159.0 88.0h0M158.7 89.6h0M161.4 89.9h0M157.7 89.8h0M165.2 88.9h0M161.2 92.4h0M158.8 89.4h0M159.6 90.8h0M161.3 90.8h0M162.3 89.9h0M161.4 88.0h0M160.1 93.3h0M161.7 89.3h0M161.4 92.4h0M156.3 88.2h0M159.2 89.7h0M160.8 89.4h0M161.3 90.7h0M157.8 89.3h0M157.6 91.0h0M161.7 91.7h0M158.6 89.5h0M156.6 91.1h0M164.0 91.3h0M162.7 90.9h0M162.0 92.2h0" stroke="#a070b0" stroke-width="0.8" stroke-linecap="round" opacity="0.5" fill="none"/>
<path d="M153.6 86.2h0M155.3 85.6h0M154.4 83.2h0M155.6 83.7h0M153.0 83.8h0M154.8 83.6h0M154.7 85.8h0M154.2 84.5h0M154.9 86.9h0M153.3 83.5h0M153.1 83.7h0M153.6 84.8h0M152.8 84.4h0M152.5 85.3h0M155.3 82.4h0M154.3 87.2h0M153.6 86.3h0" stroke="#e07080" stroke-width="0.8" stroke-linecap="round" opacity="0.45" fill="none"/>
<path d="M159.9 102.0h0M163.9 103.3h0M160.1 104.2h0M156.7 106.7h0M165.9 98.6h0M151.3 106.4h0M163.8 105.2h0M156.9 108.3h0M167.4 102.0h0M148.4 104.8h0M162.6 100.3h0M164.7 110.1h0M162.7 102.3h0M150.3 108.9h0M159.6 109.0h0M164.7 110.4h0M156.3 106.0h0M160.7 109.3h0M156.9 103.8h0M152.2 110.5h0M160.1 103.5h0M150.4 103.8h0M150.3 104.0h0M154.7 108.2h0M151.9 98.1h0M154.4 100.0h0M162.4 105.1h0M148.0 102.2h0M157.8 105.8h0M147.0 105.4h0M159.8 110.3h0M164.6 105.5h0M150.2 104.4h0M161.9 102.0h0M165.5 101.8h0M151.3 109.6h0M157.4 107.4h0M156.2 106.1h0M154.5 114.3h0M161.9 105.4h0M160.8 109.6h0M154.8 106.8h0M159.2 103.5h0M153.4 105.1h0M156.2 104.2h0M146.4 106.3h0M161.9 106.3h0M168.3 109.8h0M155.9 103.1h0M161.0 104.4h0M148.3 106.5h0M156.2 105.0h0M161.7 106.8h0M170.1 102.8h0M157.4 107.3h0M155.4 103.8h0M160.1 98.4h0M160.0 97.6h0M151.0 110.9h0M167.2 106.6h0M159.5 101.2h0M155.9 100.2h0M157.4 105.6h0M158.7 109.4h0M151.0 100.5h0M155.8 104.1h0M157.7 111.9h0M158.2 101.3h0M156.2 102.2h0M156.6 108.5h0M151.2 109.1h0M167.7 106.4h0M157.7 107.0h0M155.9 101.9h0M161.7 99.9h0M149.8 108.4h0M155.8 102.4h0M161.0 112.2h0M156.3 105.4h0M161.3 110.1h0M164.2 108.9h0M154.0 108.3h0M158.0 98.6h0M165.4 108.5h0M166.2 105.7h0M162.3 105.7h0M159.0 109.9h0M158.3 108.6h0M157.8 111.3h0M161.9 98.8h0M167.9 107.9h0M154.9 103.3h0M169.9 106.4h0M161.0 108.6h0M154.4 113.6h0M164.8 98.9h0M156.0 106.3h0M158.3 108.5h0M160.4 107.6h0M157.2 107.3h0M154.7 114.5h0M158.4 111.4h0M158.6 105.4h0M156.9 100.4h0M170.4 107.8h0M158.8 104.0h0M165.6 104.6h0M155.3 103.7h0M167.2 107.3h0M157.1 103.2h0M165.7 107.2h0M156.0 109.9h0M163.2 101.7h0M164.9 110.7h0M156.6 100.3h0M164.5 104.5h0M156.8 104.8h0M156.4 109.6h0M151.5 108.3h0M164.9 110.6h0M162.3 107.2h0M156.9 105.5h0M152.8 113.2h0M157.3 101.7h0M163.0 112.5h0M159.7 104.6h0M151.4 108.8h0M156.6 103.2h0M161.6 100.5h0M154.4 99.9h0M156.6 109.4h0M150.3 111.9h0M154.0 103.9h0M163.9 102.9h0M166.7 105.1h0M157.5 101.9h0M164.8 105.7h0M155.2 101.9h0M154.3 105.6h0M153.8 109.4h0M157.8 103.4h0M160.8 112.1h0M145.8 107.5h0M164.4 106.6h0M162.9 99.4h0M153.6 110.3h0M157.5 106.3h0M161.8 107.6h0M160.7 103.9h0M156.3 111.6h0M155.2 99.9h0M156.0 109.8h0M168.6 106.6h0M154.4 108.6h0M159.9 111.1h0M161.1 109.2h0M161.1 107.8h0M152.7 105.3h0M167.5 111.7h0M163.8 107.7h0M157.4 107.5h0M156.2 110.7h0M156.3 102.8h0M148.6 112.6h0M153.7 102.3h0M160.5 113.7h0M162.0 104.6h0M161.4 102.5h0M156.6 106.1h0M158.2 109.3h0M161.3 114.0h0M163.0 104.8h0M159.6 102.4h0M154.6 104.6h0M164.1 103.1h0M149.0 101.7h0M151.1 105.2h0M156.4 101.0h0M153.5 104.2h0M160.5 108.6h0M165.9 104.9h0M161.8 106.3h0M151.8 103.3h0M170.9 105.3h0M167.8 109.5h0M167.9 105.2h0M163.6 104.7h0M151.7 101.0h0M160.8 99.2h0M160.3 102.3h0M160.3 100.2h0M163.2 105.0h0M149.3 99.9h0M158.6 99.1h0M160.1 108.1h0M154.4 111.9h0M166.6 107.3h0M160.9 108.0h0M156.7 111.6h0M158.3 107.9h0M163.0 101.3h0M166.3 102.5h0M161.9 109.1h0M159.3 110.8h0M155.4 114.7h0M161.1 104.2h0M148.8 112.0h0M167.2 103.6h0M152.5 110.8h0M158.6 101.9h0M155.4 106.3h0M163.9 112.7h0M154.6 112.5h0M149.5 109.0h0M157.4 107.9h0M155.7 103.0h0M159.9 110.8h0M145.4 106.2h0M155.9 101.5h0M150.4 108.2h0M161.5 108.8h0M154.7 104.2h0M168.5 104.4h0M159.0 110.3h0M167.9 107.6h0M160.2 114.3h0M155.9 98.4h0M153.9 104.7h0M165.9 107.4h0M165.2 106.4h0M158.5 103.6h0M151.1 108.2h0M160.4 108.5h0M155.2 104.2h0M160.4 108.6h0M169.8 102.3h0M164.0 109.8h0M156.7 106.6h0M157.9 112.5h0M156.8 110.1h0M161.1 105.2h0M162.6 109.7h0M156.0 109.6h0M156.5 106.7h0M149.8 112.3h0M156.1 106.7h0M158.0 109.2h0M154.9 109.2h0M153.4 99.7h0M161.2 106.7h0M163.4 97.7h0M158.9 103.3h0M157.2 104.3h0M156.1 103.2h0M164.2 98.7h0M148.6 107.5h0M169.9 102.8h0M153.0 101.0h0M152.3 111.3h0M162.2 109.9h0M160.3 107.0h0M154.9 101.9h0M156.1 111.4h0M154.2 106.2h0M168.1 105.7h0M161.9 103.6h0M161.5 105.0h0M159.4 107.6h0M165.9 109.7h0M164.4 107.6h0M152.1 111.7h0M167.2 108.1h0M162.9 105.0h0M149.9 110.2h0M154.0 114.2h0M162.3 105.9h0M154.7 106.5h0M152.4 104.4h0M167.5 104.7h0M168.9 105.6h0M160.7 102.1h0M156.5 104.1h0M161.7 105.7h0" stroke="#9ad4aa" stroke-width="0.8" stroke-linecap="round" opacity="0.55" fill="none"/>
<path d="M165.5 106.5h0M165.1 102.2h0M171.9 114.8h0M162.1 109.3h0M163.5 106.0h0M171.6 102.2h0M182.3 106.3h0M167.1 99.0h0M172.3 102.5h0M177.0 100.2h0M178.3 102.6h0M172.7 104.2h0M176.0 109.8h0M168.1 102.1h0M183.2 108.0h0M183.3 108.0h0M173.5 112.3h0M167.6 104.2h0M169.8 108.7h0M166.7 105.4h0M166.7 105.2h0M178.8 109.3h0M167.9 108.0h0M167.6 96.5h0M165.6 111.7h0M171.2 106.7h0M178.9 104.6h0M167.7 103.4h0M166.6 108.6h0M169.3 108.0h0M162.8 104.9h0M183.8 105.4h0M171.8 110.6h0M174.2 111.8h0M165.4 109.7h0M166.0 109.2h0M167.0 108.0h0M173.9 102.0h0M172.5 100.7h0M177.8 108.6h0M171.2 108.5h0M161.1 108.4h0M168.6 102.5h0M177.5 109.0h0M176.1 112.0h0M167.8 104.2h0M170.5 105.9h0M166.3 107.2h0M177.4 101.9h0M174.8 104.4h0M170.8 106.1h0M180.7 106.5h0M175.7 105.6h0M171.6 105.9h0M167.8 99.3h0M174.1 100.0h0M170.3 103.4h0M167.6 102.7h0M169.3 109.2h0M181.5 108.1h0M171.5 104.9h0M170.2 105.6h0M167.9 105.2h0M176.4 103.8h0M166.8 105.6h0M172.1 105.1h0M170.5 108.7h0M170.8 101.2h0M174.5 102.0h0M176.6 108.3h0M174.6 106.4h0M163.7 105.7h0M172.7 108.1h0M165.0 105.7h0M162.8 107.5h0M172.2 105.9h0M181.7 107.3h0M170.1 103.2h0M169.5 109.2h0M176.6 102.6h0M170.7 103.7h0M175.7 105.7h0M166.9 102.3h0M178.3 98.5h0M183.1 101.5h0M176.9 107.2h0M177.2 109.7h0M168.9 105.8h0M177.7 107.1h0M166.8 102.9h0M163.4 107.8h0M167.6 99.3h0M168.6 107.3h0M172.5 104.4h0M173.0 108.1h0M164.1 103.0h0M177.7 107.8h0M163.0 103.6h0M180.5 107.5h0M171.4 110.0h0M180.5 110.4h0M162.7 101.1h0M168.6 105.7h0M169.7 106.8h0M180.9 109.0h0M177.4 104.7h0M181.5 106.1h0M173.0 105.2h0M172.0 109.3h0M165.4 110.8h0M172.5 101.3h0M177.3 104.8h0M166.0 107.9h0M166.1 110.5h0M172.9 105.0h0M176.7 104.9h0M178.5 110.7h0M176.0 100.7h0M175.4 103.8h0M174.0 109.4h0M167.9 106.9h0M179.7 100.7h0M170.9 108.7h0M170.9 110.0h0M164.8 100.0h0M173.7 104.6h0M174.0 109.3h0M177.6 103.2h0M168.2 97.6h0M166.0 107.3h0M172.0 99.0h0M176.2 104.7h0M177.9 103.1h0M176.6 100.0h0M160.3 103.6h0M176.0 106.7h0M160.6 107.7h0M176.5 112.1h0M176.5 107.0h0M162.6 108.4h0M159.9 105.9h0M168.9 101.7h0M165.6 105.7h0M174.6 102.3h0M173.8 108.3h0M172.6 113.6h0M169.3 102.7h0M161.1 111.6h0M175.5 104.2h0M173.4 104.7h0M176.7 104.7h0M172.9 105.0h0M174.1 99.8h0M174.3 107.9h0M182.2 100.8h0M173.0 109.4h0M167.3 103.6h0M175.5 113.9h0M178.5 108.7h0M166.3 109.1h0M177.6 99.2h0M171.6 104.7h0M174.4 97.6h0M175.8 104.9h0M168.8 96.8h0M159.1 104.9h0M175.7 106.8h0M175.0 97.7h0M173.6 111.0h0M162.9 109.5h0M167.6 108.4h0M171.2 98.5h0M166.2 111.7h0M171.7 110.8h0M174.1 109.0h0M169.4 106.8h0M169.9 109.6h0M168.9 110.7h0M180.1 99.1h0M170.9 107.9h0M182.7 108.9h0M171.1 98.1h0M176.2 102.3h0M173.0 107.0h0M163.9 111.2h0M177.3 107.2h0M175.3 106.5h0M163.1 104.5h0M176.2 103.4h0M172.0 107.0h0M172.3 106.5h0M174.4 105.1h0M165.0 105.3h0M176.8 101.9h0M174.5 106.4h0M171.0 102.2h0M168.5 110.0h0M167.3 107.6h0M172.4 106.2h0M177.2 104.1h0M169.6 102.9h0M171.8 105.7h0M167.2 113.2h0M167.2 105.5h0M164.2 107.2h0M174.3 109.8h0M177.0 102.6h0M180.9 103.7h0M168.6 101.3h0M175.6 111.1h0M174.6 109.8h0M175.6 108.7h0M179.2 103.2h0M163.2 106.2h0M166.2 101.1h0M171.0 108.6h0M175.7 101.1h0M170.1 111.5h0M178.4 106.1h0M175.1 106.6h0M163.5 107.4h0M174.2 104.6h0M176.7 108.5h0M171.7 104.4h0M165.3 111.3h0M168.4 107.3h0M181.0 107.5h0M164.1 106.2h0M166.4 99.2h0M167.2 108.6h0M173.4 104.3h0M171.9 100.5h0M167.0 105.4h0M176.0 103.5h0M170.8 107.0h0M179.4 99.0h0M174.8 105.8h0M171.3 106.6h0M160.0 107.3h0M169.5 100.5h0M176.4 104.3h0M170.0 109.0h0M165.8 103.2h0M176.9 108.5h0M183.1 101.9h0M162.2 100.5h0M164.6 106.9h0M169.8 102.9h0M165.3 103.4h0M170.1 110.8h0M176.0 110.7h0M176.8 108.0h0M178.7 106.4h0M181.2 109.0h0M182.3 104.9h0M170.2 107.9h0M168.9 102.9h0M173.5 100.4h0M171.5 111.5h0M172.8 108.8h0M175.5 106.6h0M172.5 108.0h0M166.2 108.7h0M164.8 103.2h0M167.3 100.4h0M160.3 108.7h0M174.9 107.9h0M175.5 101.8h0M175.0 100.1h0M182.5 99.8h0M169.6 109.0h0M166.1 107.1h0M177.4 105.3h0M176.7 102.6h0M173.7 95.9h0M180.0 101.5h0M166.5 106.3h0M181.1 101.1h0M171.2 104.0h0M165.3 100.8h0M175.4 108.0h0M167.3 107.1h0M174.4 106.7h0M170.6 105.8h0M172.5 100.8h0M171.2 108.9h0M169.0 111.5h0M169.5 101.1h0M169.0 100.1h0M174.2 98.3h0M171.5 104.5h0M170.0 107.5h0M172.9 102.9h0M176.1 102.9h0M177.6 110.4h0M174.3 109.1h0M164.0 109.0h0M162.7 106.0h0M166.5 102.9h0M166.0 106.4h0M174.6 100.1h0M166.8 98.2h0M166.2 97.3h0M163.0 108.7h0M176.2 101.4h0M173.1 102.0h0M178.8 112.0h0M167.5 104.0h0M181.6 110.8h0M171.8 108.2h0M162.0 105.6h0M169.8 105.1h0M172.3 98.7h0M161.4 107.2h0M176.1 107.0h0M170.9 98.7h0M167.9 99.3h0M183.2 105.4h0M175.9 105.8h0M169.9 110.8h0M177.1 107.4h0M175.4 108.1h0M170.1 107.5h0M171.8 104.4h0M176.6 113.9h0M169.7 110.9h0M165.4 105.6h0M177.5 104.4h0M172.8 100.1h0M165.8 113.4h0M172.4 105.0h0M162.8 102.3h0M165.4 106.1h0M170.5 103.0h0M167.6 106.5h0M177.5 98.6h0M163.9 111.4h0M162.9 105.0h0M173.3 113.0h0M171.7 110.1h0M171.9 102.0h0M171.4 96.7h0M177.2 111.0h0M170.8 109.1h0M166.2 112.6h0M167.3 102.7h0M166.0 98.7h0M176.6 113.4h0M163.0 105.8h0M173.8 102.8h0M162.5 108.2h0M177.5 105.1h0M165.1 105.1h0M160.2 106.8h0M179.3 109.2h0M171.3 107.4h0M168.5 106.5h0M168.1 106.7h0M168.6 106.8h0M175.6 104.9h0M164.2 108.7h0M169.8 103.6h0M174.3 101.5h0M177.3 107.1h0M167.0 103.1h0M170.3 101.8h0M172.2 103.9h0M165.5 109.1h0M168.9 107.8h0M168.8 104.7h0M175.1 109.1h0M177.3 104.6h0M180.0 102.9h0M162.5 103.1h0M161.3 108.3h0M171.7 105.3h0M172.8 104.8h0M169.8 104.4h0M171.1 100.7h0M179.9 110.9h0M173.1 115.1h0M166.4 110.1h0M162.4 109.4h0M167.7 110.3h0M172.7 109.4h0M175.4 107.2h0M170.9 112.4h0M173.9 107.2h0M179.7 103.2h0M182.3 108.6h0M171.1 99.3h0M178.4 103.2h0M172.2 105.9h0M177.5 107.4h0M160.5 104.2h0M173.7 105.9h0M176.5 107.2h0M180.6 101.1h0M179.4 106.0h0M173.7 108.1h0M170.0 108.8h0M170.7 108.7h0M167.8 111.1h0M162.2 104.0h0M171.4 106.6h0M166.6 104.5h0M173.6 109.7h0M178.8 102.4h0M171.0 104.2h0M162.4 104.9h0M177.3 98.9h0M181.7 104.9h0M180.5 101.8h0M179.4 107.7h0M176.6 108.0h0M175.3 107.8h0M178.8 106.3h0M175.5 106.8h0M171.8 101.7h0M160.5 102.7h0M163.4 100.3h0M175.4 103.6h0M175.8 102.9h0M173.6 104.3h0M174.4 114.1h0M181.6 109.6h0M174.3 112.8h0M176.9 108.6h0M164.4 103.9h0M172.4 104.5h0M167.3 97.5h0M167.1 105.7h0M172.7 100.7h0M171.8 113.3h0M171.3 97.1h0M170.5 105.7h0M179.1 105.3h0M179.8 105.8h0M179.2 110.3h0M180.6 105.1h0M164.5 107.4h0M173.9 102.1h0M176.3 104.1h0M176.3 105.7h0M166.7 110.7h0M183.8 107.8h0M172.2 98.0h0M173.4 105.1h0M165.8 98.1h0M174.7 109.3h0M160.7 108.6h0M172.2 111.6h0M170.8 101.4h0M171.5 107.4h0M166.8 102.8h0M173.6 109.0h0M170.5 107.8h0M168.4 104.5h0M173.3 109.5h0M180.7 103.7h0M175.4 113.5h0M176.2 103.3h0M173.1 99.2h0M158.9 104.0h0M166.6 100.4h0M177.3 102.8h0M172.1 105.8h0M169.7 100.7h0M171.8 108.5h0M170.3 105.2h0M173.5 106.3h0M170.3 110.4h0M175.4 111.5h0M170.9 97.0h0M161.7 104.7h0M173.3 98.2h0M169.1 111.3h0M173.1 102.2h0M171.0 106.1h0M169.0 104.5h0M168.0 107.0h0M181.7 110.4h0M170.1 99.7h0M163.0 107.3h0M172.6 102.6h0M166.8 105.3h0M173.5 108.2h0M168.3 107.1h0M174.2 108.6h0M163.9 113.4h0M164.6 105.6h0M168.6 103.9h0M167.6 109.6h0M176.4 106.4h0M163.9 103.9h0M171.5 107.3h0M168.2 104.8h0M168.2 113.0h0M175.8 99.8h0M176.3 105.6h0M167.5 109.5h0M167.9 104.7h0M171.9 106.4h0M169.3 107.1h0M171.7 106.3h0M173.5 102.5h0M163.7 106.3h0M178.9 105.9h0M172.5 102.2h0M164.3 101.2h0M166.1 104.7h0M162.6 106.3h0M162.9 109.6h0M170.4 98.1h0M168.6 106.9h0M174.3 108.5h0M169.5 105.2h0M170.6 108.0h0M167.5 105.4h0M172.2 103.9h0M166.2 112.1h0M173.9 101.2h0M182.5 100.7h0M166.4 104.7h0M175.6 111.4h0M179.8 106.7h0M172.4 108.3h0M166.7 103.2h0M174.8 105.9h0M172.4 101.0h0M172.2 99.2h0M176.9 104.8h0M167.6 104.0h0M168.4 111.9h0M171.9 106.6h0M165.3 100.7h0M172.7 103.4h0M175.1 109.6h0M171.3 107.9h0M172.8 106.4h0M168.8 107.0h0M174.2 105.5h0M168.1 99.7h0M166.4 113.0h0M177.6 106.0h0M173.2 104.6h0M176.1 109.0h0M170.4 107.0h0M176.2 98.0h0M165.9 103.9h0M164.7 104.6h0M166.5 104.5h0M173.7 100.1h0M173.0 111.3h0M172.0 100.2h0M168.8 111.0h0M169.7 103.1h0M175.7 101.9h0M165.6 109.0h0M171.3 102.7h0M174.9 109.8h0M177.9 105.1h0M174.5 107.3h0M164.1 113.8h0M167.5 103.7h0M166.3 102.1h0M177.9 104.7h0M167.2 98.2h0M172.5 105.2h0M165.7 105.9h0M161.5 109.7h0M164.9 108.6h0M170.9 96.4h0M164.8 103.6h0M176.5 107.4h0M176.2 112.1h0M169.7 103.6h0M160.3 102.7h0M174.3 101.5h0M167.2 110.3h0M177.9 96.9h0M174.3 105.1h0M176.6 103.4h0M171.8 111.6h0M168.5 107.8h0M175.2 104.5h0M176.9 107.0h0M175.4 97.6h0M165.9 107.6h0M179.2 110.7h0M171.3 102.4h0M164.2 98.1h0M169.1 108.4h0M170.3 99.3h0M171.1 105.8h0M168.2 112.3h0M174.8 109.8h0M171.6 101.3h0M178.5 109.4h0M167.5 100.3h0M176.0 102.5h0M165.0 106.1h0M174.3 101.9h0M172.4 109.7h0M175.0 98.3h0M176.8 112.5h0M176.8 104.4h0M172.8 98.5h0M168.0 103.8h0M183.5 103.9h0M167.1 113.5h0M177.7 97.5h0M169.5 98.5h0M181.6 99.6h0M174.9 106.6h0M175.9 100.6h0M176.4 103.6h0M174.7 106.1h0M178.8 98.9h0M164.1 109.4h0M171.1 108.5h0M164.8 106.9h0M162.1 107.4h0M176.8 112.2h0M169.3 109.9h0M178.7 100.0h0M169.0 97.9h0M166.9 108.1h0M159.9 105.9h0M176.6 111.1h0M166.2 108.9h0M171.9 108.5h0M170.3 108.6h0M165.5 102.2h0M169.7 98.2h0M178.5 103.5h0M165.5 102.6h0M166.2 106.8h0M170.1 109.5h0M165.0 106.1h0M162.8 104.8h0M179.3 103.9h0M176.6 104.6h0M164.9 102.6h0M165.4 107.9h0M181.6 107.8h0M166.1 106.8h0M168.2 111.1h0M164.4 109.9h0M164.4 104.5h0M172.7 106.0h0M171.2 105.3h0M166.7 105.7h0M170.7 101.6h0M174.9 105.8h0M168.1 111.7h0M167.2 97.9h0M178.6 102.9h0M180.2 106.2h0M167.2 111.0h0M174.8 109.1h0M172.8 112.2h0M176.7 103.4h0M163.0 106.5h0M171.4 101.3h0M171.4 112.1h0M169.6 110.7h0M165.7 102.1h0M176.8 104.0h0M173.5 109.8h0M180.1 98.9h0M175.1 106.0h0M173.5 113.1h0M169.9 103.2h0M173.3 96.4h0M173.2 101.4h0M173.0 102.1h0M174.3 104.1h0M167.9 108.4h0M174.9 98.0h0M164.1 105.4h0M170.2 111.5h0M180.9 106.3h0M177.6 103.3h0M164.0 107.9h0M173.7 110.3h0M167.0 99.1h0M170.7 107.8h0M170.1 103.5h0M171.9 104.6h0M178.7 98.8h0M159.0 106.9h0M172.2 98.7h0M171.6 107.5h0M173.7 106.6h0M166.4 99.9h0M176.8 103.3h0M164.7 113.3h0M163.0 110.9h0M174.2 110.6h0M170.6 98.4h0M170.4 103.8h0M173.1 104.5h0M174.0 99.8h0M168.2 103.7h0M172.9 97.9h0M162.0 111.4h0M172.7 109.7h0M172.0 106.6h0M173.9 107.2h0M164.6 105.9h0M166.2 102.1h0M171.2 110.2h0M176.4 102.3h0M162.8 112.0h0M180.4 107.2h0M175.3 107.5h0M182.7 108.7h0M179.1 99.4h0M168.6 105.9h0M158.7 106.1h0M171.4 105.2h0M170.4 105.2h0M168.8 99.7h0M178.0 104.7h0M173.6 105.4h0M166.2 99.3h0M170.2 108.0h0M171.3 108.8h0M166.9 104.9h0M172.3 105.0h0M173.4 111.5h0M169.2 106.4h0M168.2 108.4h0M172.4 102.2h0M165.1 101.2h0M170.0 106.4h0M168.7 105.4h0M172.4 106.3h0M182.9 105.6h0M175.0 102.8h0M168.9 109.3h0M167.7 103.2h0M163.2 108.0h0M171.3 107.9h0M165.8 100.9h0M177.8 104.7h0M175.3 99.9h0M173.8 109.5h0M180.2 112.1h0M160.5 102.3h0M168.0 102.5h0M169.8 102.2h0M163.1 106.5h0M171.8 102.1h0M170.9 99.9h0M169.4 104.3h0M168.9 105.5h0M163.5 100.8h0M167.2 109.3h0M165.5 102.2h0M182.7 102.8h0M168.8 102.0h0M180.2 106.6h0M174.0 112.1h0M163.7 99.2h0M178.1 106.5h0M169.1 109.3h0M172.2 114.0h0M164.5 108.1h0M177.6 108.5h0M169.2 104.1h0M169.4 108.8h0M169.1 105.2h0M177.3 104.2h0M172.8 104.8h0M170.2 95.9h0M166.4 107.8h0M167.5 103.4h0M166.6 102.0h0M161.5 108.9h0M170.7 101.9h0M169.8 110.1h0M177.5 106.3h0M178.7 108.9h0M169.4 109.3h0M172.9 108.7h0M174.4 114.5h0M164.5 108.1h0M168.3 104.3h0M171.4 105.3h0M181.2 103.9h0M173.6 109.9h0M179.5 100.1h0M172.4 99.5h0M175.2 111.2h0M168.3 104.7h0M178.6 106.4h0M175.8 102.9h0M169.5 104.2h0M179.6 97.8h0M169.5 112.7h0M170.4 100.8h0M172.7 104.4h0M171.1 107.8h0M175.1 98.4h0M173.6 111.8h0M163.8 106.2h0M165.3 109.3h0M166.5 104.7h0M169.4 107.8h0M163.2 100.5h0M173.4 111.2h0M168.9 107.7h0M173.1 105.8h0M171.0 103.1h0M170.8 110.9h0M174.8 110.7h0M167.4 106.6h0M167.0 100.3h0M176.4 103.6h0M172.0 99.2h0M170.0 105.2h0M169.9 110.2h0M174.2 105.7h0M172.5 103.4h0M167.3 104.9h0M165.6 105.6h0M171.5 110.5h0M168.6 106.5h0M170.9 102.9h0M170.0 97.9h0M177.5 102.1h0M170.2 97.6h0M173.9 99.5h0M178.6 99.9h0M167.7 109.0h0M173.1 98.5h0M169.4 108.9h0M170.2 112.4h0M167.5 106.8h0M179.0 111.0h0M173.2 107.9h0M169.5 105.5h0M168.4 107.7h0M175.7 100.4h0M164.9 106.6h0M183.0 104.9h0M172.2 105.2h0M161.5 103.7h0M181.0 98.8h0M179.9 103.7h0M174.5 102.6h0M169.0 106.8h0M169.0 101.0h0M170.3 108.6h0M167.3 107.7h0M163.8 107.0h0M165.4 109.8h0M165.9 109.0h0M160.2 107.9h0M177.2 101.0h0M171.2 101.7h0M174.7 108.4h0M178.8 110.4h0M178.4 101.3h0M172.4 107.7h0M171.7 99.6h0M181.7 103.2h0M174.9 108.6h0M163.1 105.2h0M174.7 108.0h0M179.6 97.5h0M174.3 109.3h0M164.9 99.3h0M172.7 103.3h0M170.8 104.7h0M171.0 107.0h0M168.4 105.8h0M167.7 102.1h0M172.9 101.6h0M174.5 104.9h0M178.0 107.2h0M160.0 107.0h0M175.3 105.4h0M172.3 110.2h0M174.5 99.0h0M172.6 109.8h0M171.5 99.7h0M176.2 107.5h0M178.1 105.3h0M172.6 109.2h0M166.2 113.9h0M173.9 106.2h0M176.2 108.4h0M170.3 102.1h0M177.2 108.9h0M173.2 102.4h0M171.4 101.2h0M177.4 112.0h0M166.2 103.8h0M158.5 106.2h0M164.0 107.2h0M170.2 105.7h0M171.4 103.4h0M172.0 105.1h0M167.1 104.7h0M167.4 100.2h0M170.1 97.3h0M174.4 104.9h0M173.1 110.5h0M176.6 102.8h0M174.1 110.5h0M170.8 107.3h0M173.2 100.6h0M172.8 103.5h0M170.2 107.6h0M174.6 101.0h0M169.9 104.8h0M166.2 107.9h0M169.8 102.5h0M176.7 104.4h0M164.8 106.0h0M170.6 106.9h0M179.5 103.6h0M174.4 107.3h0M171.0 106.7h0M169.3 108.9h0M167.3 113.8h0M170.9 107.2h0M171.2 98.2h0M173.3 101.2h0M172.3 103.5h0M168.9 99.0h0M163.6 104.1h0M165.5 107.4h0M163.6 107.6h0M174.1 101.8h0M165.8 104.7h0M176.8 111.0h0M183.7 104.2h0M175.1 105.8h0M170.6 100.8h0M170.1 110.7h0M178.9 101.7h0M171.9 107.5h0M169.3 97.7h0M172.6 101.0h0M169.4 103.0h0M162.3 104.5h0M168.1 109.5h0M179.9 101.0h0M174.5 104.1h0M180.8 100.5h0M174.7 102.7h0M170.6 103.5h0M170.6 105.8h0M168.1 107.2h0M164.5 110.1h0M164.8 98.0h0M175.9 103.3h0M169.0 110.0h0M172.4 114.1h0M173.0 98.8h0M168.1 102.9h0M170.8 113.2h0M174.3 107.6h0M168.4 105.8h0M167.2 105.2h0M165.8 101.2h0M176.6 99.6h0M168.7 96.8h0M174.5 100.5h0M173.2 108.2h0M165.4 102.6h0M165.7 108.8h0M173.7 109.7h0M162.7 102.5h0M170.5 103.6h0M173.9 110.2h0M171.7 101.9h0M170.7 102.3h0M168.9 114.2h0M176.4 113.0h0M170.2 105.4h0M164.4 107.6h0M176.0 108.0h0M164.9 106.9h0M176.4 102.7h0M175.1 102.7h0M171.0 102.9h0M162.5 103.0h0M172.2 104.1h0M171.0 102.9h0M176.3 104.0h0M173.4 103.1h0M178.8 104.0h0M172.9 98.2h0M167.8 107.5h0M163.0 100.0h0M169.8 98.6h0M177.9 106.5h0M170.4 111.1h0M166.8 100.8h0M176.6 104.9h0M170.8 110.2h0M171.1 108.5h0M173.4 110.4h0M174.3 103.0h0M179.8 102.7h0M180.5 98.5h0" stroke="#2ea04c" stroke-width="0.9" stroke-linecap="round" opacity="0.8" fill="none"/>
<path d="M226.5 91.7h0M224.7 91.1h0M225.1 91.8h0M226.1 91.0h0M227.6 89.7h0M226.8 90.9h0M228.0 90.8h0M226.6 90.8h0M223.6 90.4h0M225.1 89.9h0M225.4 90.5h0M229.0 90.6h0M225.7 90.9h0M226.8 89.7h0M223.9 90.2h0M227.7 91.0h0M223.9 91.3h0M223.3 91.9h0M224.9 91.0h0M225.5 92.1h0M223.7 90.7h0M224.6 91.0h0M225.1 91.1h0" stroke="#c8c040" stroke-width="0.8" stroke-linecap="round" opacity="0.7" fill="none"/>
<text x="63.8" y="59.6" font-size="3.3" textLength="16.2" lengthAdjust="spacingAndGlyphs" font-weight="bold" fill="#1a1a1a">Eosinophils</text>
<text x="78.8" y="67.2" font-size="3.3" textLength="12.5" lengthAdjust="spacingAndGlyphs" font-weight="bold" fill="#1a1a1a">Monocytes</text>
<text x="55" y="69.9" font-size="3.3" textLength="17" lengthAdjust="spacingAndGlyphs" font-weight="bold" fill="#1a1a1a">Macrophage</text>
<text x="46" y="76.8" font-size="3.3" textLength="20.5" lengthAdjust="spacingAndGlyphs" font-weight="bold" fill="#1a1a1a">Dendritic Cells</text>
<text x="70.6" y="84.7" font-size="3.3" textLength="19.4" lengthAdjust="spacingAndGlyphs" font-weight="bold" fill="#1a1a1a">CD4+ T Cells</text>
<text x="57.5" y="91.2" font-size="3.3" textLength="4.8" lengthAdjust="spacingAndGlyphs" font-weight="bold" fill="#1a1a1a">MEP</text>
<text x="43.8" y="106.5" font-size="3.3" textLength="38" lengthAdjust="spacingAndGlyphs" font-weight="bold" fill="#1a1a1a">Common Myeloid Progenitor</text>
<text x="118.6" y="87.8" font-size="3.3" textLength="18.4" lengthAdjust="spacingAndGlyphs" font-weight="bold" fill="#1a1a1a">CD8 T Cells</text>
<text x="159.0" y="59.6" font-size="3.3" textLength="16.2" lengthAdjust="spacingAndGlyphs" font-weight="bold" fill="#1a1a1a">Eosinophils</text>
<text x="175.8" y="67.2" font-size="3.3" textLength="12.5" lengthAdjust="spacingAndGlyphs" font-weight="bold" fill="#1a1a1a">Monocytes</text>
<text x="152" y="69.9" font-size="3.3" textLength="17" lengthAdjust="spacingAndGlyphs" font-weight="bold" fill="#1a1a1a">Macrophage</text>
<text x="149" y="76.8" font-size="3.3" textLength="18.5" lengthAdjust="spacingAndGlyphs" font-weight="bold" fill="#1a1a1a">Dendritic Cells</text>
<text x="167.6" y="84.7" font-size="3.3" textLength="19.4" lengthAdjust="spacingAndGlyphs" font-weight="bold" fill="#1a1a1a">CD4+ T Cells</text>
<text x="160.0" y="92.2" font-size="3.3" textLength="4.8" lengthAdjust="spacingAndGlyphs" font-weight="bold" fill="#1a1a1a">MEP</text>
<text x="147.5" y="105.9" font-size="3.3" textLength="43" lengthAdjust="spacingAndGlyphs" font-weight="bold" fill="#1a1a1a">Common Myeloid Progenitor</text>
<text x="215.6" y="87.8" font-size="3.3" textLength="18.4" lengthAdjust="spacingAndGlyphs" font-weight="bold" fill="#1a1a1a">CD8 T Cells</text>
<line x1="41.1" y1="34.5" x2="41.1" y2="120.3" stroke="#222" stroke-width="1.2"/>
<line x1="40.5" y1="119.75" x2="136.6" y2="119.75" stroke="#222" stroke-width="1.2"/>
<line x1="138.5" y1="119.75" x2="233.5" y2="119.75" stroke="#222" stroke-width="1.2"/>
<line x1="37.8" y1="51.1" x2="41.1" y2="51.1" stroke="#222" stroke-width="0.9"/>
<text x="34.8" y="53.6" font-size="6.8" text-anchor="end" stroke="#2b2b2b" stroke-width="0.22">10</text>
<line x1="37.8" y1="69.25" x2="41.1" y2="69.25" stroke="#222" stroke-width="0.9"/>
<text x="34.8" y="71.75" font-size="6.8" text-anchor="end" stroke="#2b2b2b" stroke-width="0.22">5</text>
<line x1="37.8" y1="87.4" x2="41.1" y2="87.4" stroke="#222" stroke-width="0.9"/>
<text x="34.8" y="89.9" font-size="6.8" text-anchor="end" stroke="#2b2b2b" stroke-width="0.22">0</text>
<line x1="37.8" y1="105.55" x2="41.1" y2="105.55" stroke="#222" stroke-width="0.9"/>
<text x="34.8" y="108.05" font-size="6.8" text-anchor="end" stroke="#2b2b2b" stroke-width="0.22">−5</text>
<line x1="46.9" y1="119.75" x2="46.9" y2="122.8" stroke="#222" stroke-width="0.9"/>
<text x="46.9" y="131.6" font-size="6.6" text-anchor="middle" stroke="#2b2b2b" stroke-width="0.22">−5</text>
<line x1="70.4" y1="119.75" x2="70.4" y2="122.8" stroke="#222" stroke-width="0.9"/>
<text x="70.4" y="131.6" font-size="6.6" text-anchor="middle" stroke="#2b2b2b" stroke-width="0.22">0</text>
<line x1="93.9" y1="119.75" x2="93.9" y2="122.8" stroke="#222" stroke-width="0.9"/>
<text x="93.9" y="131.6" font-size="6.6" text-anchor="middle" stroke="#2b2b2b" stroke-width="0.22">5</text>
<line x1="117.4" y1="119.75" x2="117.4" y2="122.8" stroke="#222" stroke-width="0.9"/>
<text x="117.4" y="131.6" font-size="6.6" text-anchor="middle" stroke="#2b2b2b" stroke-width="0.22">10</text>
<line x1="144.0" y1="119.75" x2="144.0" y2="122.8" stroke="#222" stroke-width="0.9"/>
<text x="144.0" y="131.6" font-size="6.6" text-anchor="middle" stroke="#2b2b2b" stroke-width="0.22">−5</text>
<line x1="167.5" y1="119.75" x2="167.5" y2="122.8" stroke="#222" stroke-width="0.9"/>
<text x="167.5" y="131.6" font-size="6.6" text-anchor="middle" stroke="#2b2b2b" stroke-width="0.22">0</text>
<line x1="191.0" y1="119.75" x2="191.0" y2="122.8" stroke="#222" stroke-width="0.9"/>
<text x="191.0" y="131.6" font-size="6.6" text-anchor="middle" stroke="#2b2b2b" stroke-width="0.22">5</text>
<line x1="214.5" y1="119.75" x2="214.5" y2="122.8" stroke="#222" stroke-width="0.9"/>
<text x="214.5" y="131.6" font-size="6.6" text-anchor="middle" stroke="#2b2b2b" stroke-width="0.22">10</text>
<text x="127.1" y="143.3" font-size="8.8" textLength="21.8" lengthAdjust="spacingAndGlyphs" stroke="#2b2b2b" stroke-width="0.22">UMAP1</text>
<text transform="translate(23.0 77.0) rotate(-90)" font-size="9.2" text-anchor="middle" textLength="22.4" lengthAdjust="spacingAndGlyphs" fill="#2b2b2b" stroke="#2b2b2b" stroke-width="0.22">UMAP2</text>
<text x="7.0" y="16.3" font-size="11.4" font-weight="bold" fill="#000">A</text>
<text x="82" y="15.9" font-size="8.8" textLength="114" lengthAdjust="spacingAndGlyphs" stroke="#2b2b2b" stroke-width="0.22">PD mtNPM1 + FLT3-ITD AML</text>
<line x1="82" y1="17.3" x2="196" y2="17.3" stroke="#333" stroke-width="0.8"/>
<text x="73" y="31.7" font-size="6.6" textLength="21.6" lengthAdjust="spacingAndGlyphs" stroke="#2b2b2b" stroke-width="0.22">Control</text>
<text x="144.8" y="31.7" font-size="6.6" textLength="69.8" lengthAdjust="spacingAndGlyphs" stroke="#2b2b2b" stroke-width="0.22">100 nM FHD-286, 16 hrs</text>
<rect x="241.0" y="42.30" width="2.5" height="2.5" rx="0.6" fill="#d8607a"/>
<text x="247.1" y="45.6" font-size="6.9" textLength="20.5" lengthAdjust="spacingAndGlyphs" stroke="#2b2b2b" stroke-width="0.22">B-Cells</text>
<rect x="241.0" y="50.76" width="2.5" height="2.5" rx="0.6" fill="#cc9a28"/>
<text x="247.1" y="54.06" font-size="6.9" textLength="37.4" lengthAdjust="spacingAndGlyphs" stroke="#2b2b2b" stroke-width="0.22">CD4+ T-Cells</text>
<rect x="241.0" y="59.22" width="2.5" height="2.5" rx="0.6" fill="#b4b434"/>
<text x="247.1" y="62.52" font-size="6.9" textLength="37.4" lengthAdjust="spacingAndGlyphs" stroke="#2b2b2b" stroke-width="0.22">CD8+ T-Cells</text>
<rect x="241.0" y="67.68" width="2.5" height="2.5" rx="0.6" fill="#2a9a55"/>
<text x="247.1" y="70.98" font-size="6.9" textLength="83.6" lengthAdjust="spacingAndGlyphs" stroke="#2b2b2b" stroke-width="0.22">Common myeloid progenitor</text>
<rect x="241.0" y="76.14" width="2.5" height="2.5" rx="0.6" fill="#30a09c"/>
<text x="247.1" y="79.44" font-size="6.9" textLength="40.5" lengthAdjust="spacingAndGlyphs" stroke="#2b2b2b" stroke-width="0.22">Dendritic cells</text>
<rect x="241.0" y="84.60" width="2.5" height="2.5" rx="0.6" fill="#40a4d8"/>
<text x="247.1" y="87.9" font-size="6.9" textLength="32.8" lengthAdjust="spacingAndGlyphs" stroke="#2b2b2b" stroke-width="0.22">Eosinophils</text>
<rect x="241.0" y="93.06" width="2.5" height="2.5" rx="0.6" fill="#4a7cc0"/>
<text x="247.1" y="96.36000000000001" font-size="6.9" textLength="36.5" lengthAdjust="spacingAndGlyphs" stroke="#2b2b2b" stroke-width="0.22">Macrophage</text>
<rect x="241.0" y="101.52" width="2.5" height="2.5" rx="0.6" fill="#b04a88"/>
<text x="247.1" y="104.82000000000001" font-size="6.9" textLength="14" lengthAdjust="spacingAndGlyphs" stroke="#2b2b2b" stroke-width="0.22">MEP</text>
<rect x="241.0" y="109.98" width="2.5" height="2.5" rx="0.6" fill="#c8509c"/>
<text x="247.1" y="113.28" font-size="6.9" textLength="31.5" lengthAdjust="spacingAndGlyphs" stroke="#2b2b2b" stroke-width="0.22">Monocytes</text>
<text x="347.2" y="16.3" font-size="11.4" font-weight="bold" fill="#000">B</text>
<text x="376.3" y="24.8" font-size="8.3" textLength="113" lengthAdjust="spacingAndGlyphs" stroke="#2b2b2b" stroke-width="0.22">PD mtNPM1 + FLT3-ITD AML</text>
<line x1="383" y1="33.2" x2="383" y2="102.7" stroke="#222" stroke-width="1.1"/>
<line x1="380.2" y1="102.3" x2="383" y2="102.3" stroke="#222" stroke-width="0.9"/>
<text x="377.2" y="104.6" font-size="6.4" text-anchor="end" stroke="#2b2b2b" stroke-width="0.22">0</text>
<line x1="380.2" y1="89.1" x2="383" y2="89.1" stroke="#222" stroke-width="0.9"/>
<text x="377.2" y="91.39999999999999" font-size="6.4" text-anchor="end" stroke="#2b2b2b" stroke-width="0.22">10</text>
<line x1="380.2" y1="75.89999999999999" x2="383" y2="75.89999999999999" stroke="#222" stroke-width="0.9"/>
<text x="377.2" y="78.19999999999999" font-size="6.4" text-anchor="end" stroke="#2b2b2b" stroke-width="0.22">20</text>
<line x1="380.2" y1="62.699999999999996" x2="383" y2="62.699999999999996" stroke="#222" stroke-width="0.9"/>
<text x="377.2" y="65.0" font-size="6.4" text-anchor="end" stroke="#2b2b2b" stroke-width="0.22">30</text>
<line x1="380.2" y1="49.49999999999999" x2="383" y2="49.49999999999999" stroke="#222" stroke-width="0.9"/>
<text x="377.2" y="51.79999999999999" font-size="6.4" text-anchor="end" stroke="#2b2b2b" stroke-width="0.22">40</text>
<line x1="380.2" y1="36.3" x2="383" y2="36.3" stroke="#222" stroke-width="0.9"/>
<text x="377.2" y="38.599999999999994" font-size="6.4" text-anchor="end" stroke="#2b2b2b" stroke-width="0.22">50</text>
<line x1="380.2" y1="102.3" x2="482" y2="102.3" stroke="#222" stroke-width="1.1"/>
<rect x="384.70" y="86.46" width="3.10" height="15.84" fill="#1c4e80"/>
<rect x="389.50" y="91.34" width="3.10" height="10.96" fill="#c0143c"/>
<line x1="388.4" y1="102.3" x2="388.4" y2="105.2" stroke="#222" stroke-width="0.9"/>
<text transform="translate(390.6 109.6) rotate(-45)" font-size="7.1" text-anchor="end" textLength="39" lengthAdjust="spacingAndGlyphs" fill="#444" stroke="#444" stroke-width="0.2">CD4+ T-cells</text>
<rect x="397.32" y="100.45" width="3.10" height="1.85" fill="#1c4e80"/>
<rect x="402.12" y="100.45" width="3.10" height="1.85" fill="#c0143c"/>
<line x1="401.02" y1="102.3" x2="401.02" y2="105.2" stroke="#222" stroke-width="0.9"/>
<text transform="translate(403.2 109.6) rotate(-45)" font-size="7.1" text-anchor="end" textLength="39" lengthAdjust="spacingAndGlyphs" fill="#444" stroke="#444" stroke-width="0.2">CD8+ T-cells</text>
<rect x="409.94" y="46.46" width="3.10" height="55.84" fill="#1c4e80"/>
<rect x="414.74" y="48.18" width="3.10" height="54.12" fill="#c0143c"/>
<line x1="413.64" y1="102.3" x2="413.64" y2="105.2" stroke="#222" stroke-width="0.9"/>
<text transform="translate(415.8 109.6) rotate(-45)" font-size="7.1" text-anchor="end" textLength="14.5" lengthAdjust="spacingAndGlyphs" fill="#444" stroke="#444" stroke-width="0.2">CMP</text>
<rect x="422.56" y="81.71" width="3.10" height="20.59" fill="#1c4e80"/>
<rect x="427.36" y="79.07" width="3.10" height="23.23" fill="#c0143c"/>
<line x1="426.26" y1="102.3" x2="426.26" y2="105.2" stroke="#222" stroke-width="0.9"/>
<text transform="translate(428.5 109.6) rotate(-45)" font-size="7.1" text-anchor="end" textLength="41" lengthAdjust="spacingAndGlyphs" fill="#444" stroke="#444" stroke-width="0.2">Dendritic cells</text>
<rect x="435.18" y="100.98" width="3.10" height="1.32" fill="#1c4e80"/>
<rect x="439.98" y="99.66" width="3.10" height="2.64" fill="#c0143c"/>
<line x1="438.88" y1="102.3" x2="438.88" y2="105.2" stroke="#222" stroke-width="0.9"/>
<text transform="translate(441.1 109.6) rotate(-45)" font-size="7.1" text-anchor="end" textLength="34" lengthAdjust="spacingAndGlyphs" fill="#444" stroke="#444" stroke-width="0.2">Eosinophils</text>
<rect x="447.80" y="89.76" width="3.10" height="12.54" fill="#1c4e80"/>
<rect x="452.60" y="83.95" width="3.10" height="18.35" fill="#c0143c"/>
<line x1="451.5" y1="102.3" x2="451.5" y2="105.2" stroke="#222" stroke-width="0.9"/>
<text transform="translate(453.7 109.6) rotate(-45)" font-size="7.1" text-anchor="end" textLength="36" lengthAdjust="spacingAndGlyphs" fill="#444" stroke="#444" stroke-width="0.2">Macrophage</text>
<rect x="460.42" y="90.29" width="3.10" height="12.01" fill="#1c4e80"/>
<rect x="465.22" y="98.87" width="3.10" height="3.43" fill="#c0143c"/>
<line x1="464.12" y1="102.3" x2="464.12" y2="105.2" stroke="#222" stroke-width="0.9"/>
<text transform="translate(466.3 109.6) rotate(-45)" font-size="7.1" text-anchor="end" textLength="14" lengthAdjust="spacingAndGlyphs" fill="#444" stroke="#444" stroke-width="0.2">MEP</text>
<rect x="473.04" y="91.74" width="3.10" height="10.56" fill="#1c4e80"/>
<rect x="477.84" y="87.38" width="3.10" height="14.92" fill="#c0143c"/>
<line x1="476.73999999999995" y1="102.3" x2="476.73999999999995" y2="105.2" stroke="#222" stroke-width="0.9"/>
<text transform="translate(478.9 109.6) rotate(-45)" font-size="7.1" text-anchor="end" textLength="33" lengthAdjust="spacingAndGlyphs" fill="#444" stroke="#444" stroke-width="0.2">Monocytes</text>
<text transform="translate(364.2 68.6) rotate(-90)" font-size="7.2" text-anchor="middle" textLength="61" lengthAdjust="spacingAndGlyphs" fill="#2b2b2b" stroke="#2b2b2b" stroke-width="0.22">% of cells in clusters</text>
<rect x="449.30" y="40.60" width="3.70" height="3.70" fill="#1c4e80"/>
<rect x="449.30" y="51.00" width="3.70" height="3.70" fill="#c0143c"/>
<text x="457.1" y="44.6" font-size="6.8" textLength="21.7" lengthAdjust="spacingAndGlyphs" stroke="#2b2b2b" stroke-width="0.22">Control</text>
<text x="457.1" y="55.0" font-size="6.8" textLength="25.2" lengthAdjust="spacingAndGlyphs" stroke="#2b2b2b" stroke-width="0.22">FHD-286</text>
<line x1="454.2" y1="69.3" x2="454.2" y2="78.8" stroke="#c0143c" stroke-width="0.9"/>
<path d="M452.3 77.6 L454.2 81.2 L456.09999999999997 77.6 L454.2 78.6 Z" fill="#c0143c"/>
<line x1="466.7" y1="78.6" x2="466.7" y2="87.3" stroke="#c0143c" stroke-width="0.9"/>
<path d="M464.8 86.1 L466.7 89.7 L468.59999999999997 86.1 L466.7 87.1 Z" fill="#c0143c"/>
<text x="7.0" y="170.6" font-size="11.4" font-weight="bold" fill="#000">C</text>
<text x="45" y="183.9" font-size="8.6" textLength="111.5" lengthAdjust="spacingAndGlyphs" stroke="#2b2b2b" stroke-width="0.22">PD mtNPM1 + FLT3-ITD AML</text>
<text x="47" y="193.7" font-size="8.6" textLength="110.7" lengthAdjust="spacingAndGlyphs" stroke="#2b2b2b" stroke-width="0.22">100 nM FHD-286, 16 hrs/Ctrl</text>
<path d="M99.7 232.9h0M96.0 218.9h0M53.8 220.2h0M70.8 224.6h0M69.7 222.6h0M60.4 225.6h0M55.7 218.6h0M108.0 238.3h0M105.1 235.9h0M90.6 233.1h0M59.6 217.7h0M83.1 222.9h0M78.8 222.9h0M92.7 239.9h0M63.1 223.2h0M71.7 230.3h0M49.9 220.7h0M97.2 230.0h0M96.3 231.9h0M89.2 229.3h0M71.4 233.0h0M100.6 243.7h0M65.8 223.6h0M76.7 225.0h0M101.7 233.8h0M58.5 216.8h0M70.6 223.7h0M110.8 235.1h0M82.1 225.0h0M108.7 233.2h0M73.1 221.8h0M55.8 215.8h0M108.8 235.7h0M63.5 220.4h0M77.2 222.9h0M56.6 221.4h0M68.6 224.2h0M81.1 231.0h0M75.2 218.0h0M75.7 234.3h0M70.2 228.2h0M51.4 215.5h0M103.9 235.7h0M59.4 214.6h0M70.8 226.3h0M75.4 225.2h0M66.9 220.7h0M57.8 223.9h0M105.1 231.8h0M82.9 222.2h0M48.9 216.0h0M86.6 235.5h0M62.6 217.3h0M55.4 220.5h0M59.4 214.4h0M52.8 213.6h0M106.0 236.1h0M97.5 234.0h0M95.2 232.5h0M72.6 224.6h0M83.8 235.4h0M78.6 232.6h0M48.2 203.1h0M54.0 220.6h0M90.3 227.8h0M88.7 239.6h0M70.9 223.0h0M56.1 218.6h0M54.1 212.7h0M64.7 224.2h0M88.4 236.9h0M69.4 223.3h0M70.5 220.4h0M87.0 228.8h0M84.0 224.6h0M94.6 237.5h0M77.9 220.8h0M56.4 216.7h0M81.8 224.1h0M47.8 222.6h0M50.5 217.7h0M78.7 220.7h0M85.0 234.8h0M93.0 234.2h0M94.6 238.8h0M83.9 232.2h0M104.6 232.4h0M49.6 218.9h0M50.3 217.3h0M50.9 217.5h0M102.3 233.3h0M53.1 221.5h0M70.1 223.5h0M87.1 229.1h0M92.7 231.8h0M74.1 226.3h0M55.9 221.6h0M100.9 247.2h0M48.7 215.1h0M51.7 222.3h0M83.5 236.8h0M95.4 227.1h0M57.5 205.4h0M99.6 234.9h0M93.0 236.8h0M103.9 239.0h0M105.8 237.2h0M80.4 221.1h0M81.4 227.5h0M77.9 233.3h0M83.2 238.2h0M92.0 239.0h0M57.3 206.3h0M60.9 211.9h0M99.7 240.9h0M47.6 216.6h0M69.8 219.3h0M72.9 219.2h0M101.8 242.0h0M96.3 226.1h0M70.5 215.2h0M80.7 235.6h0M53.7 211.1h0M90.6 231.6h0M66.0 222.2h0M63.1 218.5h0M99.4 237.2h0M59.5 223.0h0M53.7 228.3h0M113.7 232.6h0M97.0 230.9h0M77.0 230.4h0M117.2 234.5h0M67.5 206.8h0M97.5 225.6h0M85.2 225.5h0M95.0 236.7h0M99.7 229.3h0M76.6 234.9h0M84.6 224.0h0M54.0 206.2h0M66.7 220.3h0M55.0 218.6h0M59.6 219.1h0M103.7 233.0h0M100.8 241.2h0M96.7 233.9h0M62.8 214.5h0M76.6 222.2h0M83.1 232.1h0M96.8 235.3h0M64.3 226.3h0M55.2 219.4h0M71.5 225.1h0M98.9 244.1h0M101.8 241.4h0M94.4 229.6h0M90.5 233.3h0M73.8 222.2h0M94.6 230.3h0M83.7 230.0h0M84.9 226.4h0M92.0 227.7h0M51.3 215.5h0M93.5 231.2h0M111.0 237.0h0M63.2 215.6h0M98.4 245.1h0M67.2 221.1h0M90.0 231.7h0M63.7 218.8h0M81.1 226.1h0M90.0 234.9h0M65.7 226.4h0M80.5 219.0h0M73.9 218.4h0M56.4 206.6h0M77.3 230.2h0M105.5 238.7h0M81.4 232.2h0M85.2 231.3h0M76.4 221.9h0M109.4 235.1h0M63.9 224.6h0M69.8 216.8h0M101.9 242.6h0M83.0 229.6h0M89.5 230.3h0M64.8 222.4h0M67.1 224.3h0M53.0 217.1h0M97.8 232.7h0M66.9 218.7h0M100.5 233.1h0M71.6 237.2h0M66.8 220.9h0M99.3 233.5h0M77.1 222.2h0M75.8 221.2h0M99.2 232.1h0M62.2 227.7h0M50.5 216.5h0M78.4 237.4h0M61.1 206.7h0M75.6 218.7h0M60.8 219.6h0M70.5 223.3h0M92.3 236.5h0M74.8 230.8h0M72.1 223.2h0M62.5 224.4h0M77.0 228.4h0M97.2 235.8h0M79.0 228.3h0M61.9 227.1h0M75.3 223.0h0M71.7 229.2h0M54.7 216.3h0M88.9 232.5h0M102.3 238.9h0M79.6 228.0h0M45.2 215.2h0M68.7 220.6h0M93.7 227.6h0M99.6 240.3h0M45.1 219.6h0M90.4 236.1h0M90.4 231.6h0M100.4 237.3h0M75.4 224.1h0M87.2 219.2h0M108.8 243.0h0M70.6 217.5h0M89.1 232.6h0M107.1 243.1h0M52.5 211.6h0M64.5 213.5h0M76.3 236.8h0M69.4 216.5h0M77.1 223.3h0M65.2 221.9h0M82.8 222.7h0M67.5 230.7h0M96.4 238.5h0M67.2 216.1h0M85.6 224.3h0M88.0 229.1h0M67.7 215.6h0M86.5 223.8h0M104.7 231.1h0M64.6 216.4h0M88.2 231.5h0M56.4 218.6h0M62.4 209.3h0M64.7 224.7h0M100.7 238.2h0M57.2 219.5h0M65.4 218.1h0M69.7 225.6h0M74.1 218.6h0M104.3 239.3h0M56.9 215.6h0M77.5 228.2h0M66.1 215.5h0M69.8 222.8h0M90.1 232.5h0M82.4 219.7h0M58.8 217.8h0M61.4 222.7h0M92.1 231.6h0M87.2 222.8h0M52.4 207.5h0M93.2 233.9h0M54.9 218.3h0M55.0 210.6h0M70.3 219.7h0M103.4 240.7h0M71.7 217.1h0M62.8 218.7h0M87.4 233.0h0M85.4 234.9h0M84.7 238.0h0M103.2 240.1h0M49.6 215.7h0M71.3 225.4h0M72.1 217.1h0M68.8 222.8h0M54.4 213.8h0M71.6 226.6h0M64.5 229.9h0M62.0 217.5h0M108.2 234.9h0M103.3 229.1h0M81.9 228.4h0M103.3 234.7h0M104.8 234.9h0M95.2 227.2h0M67.2 221.3h0M61.4 220.4h0M72.3 226.7h0M64.4 218.1h0M105.3 233.6h0M61.8 213.9h0M98.1 238.3h0M56.2 214.0h0M73.2 220.5h0M96.4 233.3h0M53.2 211.4h0M97.3 233.0h0M69.2 215.2h0M76.2 226.9h0M63.7 223.4h0M98.3 231.2h0M79.5 226.8h0M47.9 213.8h0M100.7 240.7h0M60.0 213.9h0M50.7 221.1h0M93.2 230.5h0M82.9 235.6h0M66.7 210.6h0M87.3 233.4h0M73.4 221.7h0M70.2 228.8h0M95.5 233.6h0M48.3 216.4h0M95.2 231.8h0M110.5 240.1h0M83.8 226.8h0M85.8 232.9h0M66.2 223.1h0M94.3 237.7h0M107.0 230.5h0M61.0 218.1h0M62.0 226.6h0M108.2 244.7h0M66.5 220.8h0M101.7 240.2h0M96.8 227.6h0M96.4 238.2h0M92.6 234.7h0M78.6 232.9h0M101.0 235.0h0M80.7 228.8h0M73.8 221.8h0M66.3 227.7h0M63.0 214.9h0M89.5 231.9h0M94.8 237.8h0M85.7 228.4h0M98.7 233.3h0M98.3 228.6h0M82.2 224.4h0M80.2 227.4h0M64.8 224.0h0M75.7 238.4h0M56.4 219.8h0M102.4 240.4h0M98.7 243.4h0M45.5 210.0h0M85.1 232.8h0M95.7 245.3h0M80.8 229.4h0M92.5 232.6h0M61.5 224.2h0M51.7 218.2h0M82.5 231.4h0M76.8 226.2h0M68.5 225.9h0M70.0 227.5h0M90.8 242.9h0M52.5 223.0h0M86.7 234.5h0M85.6 238.3h0M106.6 243.1h0M54.8 216.2h0M89.7 227.6h0M62.4 220.3h0" stroke="#c8c8c8" stroke-width="0.8" stroke-linecap="round" opacity="0.42" fill="none"/>
<path d="M81.5 204.6h0M61.3 211.0h0M55.2 204.1h0M53.8 212.4h0M58.1 204.9h0M102.8 209.4h0M77.9 205.9h0M81.1 214.0h0M71.1 202.5h0M59.8 212.6h0M78.6 216.7h0M62.1 212.8h0M72.9 205.1h0M93.9 205.8h0M62.2 208.1h0M75.2 201.5h0M111.0 207.2h0M71.2 202.3h0M57.4 203.3h0M52.6 209.9h0M89.4 215.3h0M64.7 214.5h0M60.6 203.6h0M103.7 213.4h0M52.0 204.4h0M58.4 211.3h0M75.5 217.0h0M101.6 205.1h0M65.4 209.0h0M74.0 214.3h0M60.3 215.6h0M85.7 207.1h0M109.9 206.3h0M97.4 217.3h0M105.1 217.7h0M76.3 213.9h0M101.4 205.4h0M77.0 216.6h0M98.0 205.5h0M73.2 210.3h0M84.8 211.1h0M90.4 203.0h0M52.5 200.8h0M61.1 209.0h0M72.1 212.3h0M56.6 209.3h0M75.0 203.5h0M106.2 216.8h0M109.7 204.5h0M49.6 212.5h0M105.7 206.3h0M67.0 214.5h0M83.4 210.7h0M93.5 209.4h0M100.5 210.0h0M78.8 216.3h0M79.2 212.5h0M82.0 216.8h0M52.9 205.1h0M58.7 215.7h0M110.4 203.4h0M66.3 204.4h0M86.7 212.8h0M64.4 214.9h0M76.9 208.9h0M71.4 208.2h0M50.1 200.7h0M109.9 205.2h0M70.5 217.6h0M67.8 201.7h0M103.7 207.2h0M89.5 205.4h0M56.1 203.9h0M97.1 209.7h0M90.4 213.1h0M84.6 212.2h0M60.4 203.3h0M76.0 215.1h0M62.3 214.0h0M100.9 213.2h0M54.9 202.3h0M99.7 203.9h0M49.5 210.5h0M92.6 214.8h0M93.7 210.7h0M71.1 216.7h0M65.1 208.1h0M55.1 210.4h0M92.0 209.3h0M96.6 211.1h0M103.2 211.9h0M96.7 205.1h0M108.2 210.5h0M83.1 206.9h0M102.0 211.4h0M83.4 211.0h0M98.3 217.8h0M60.6 217.3h0M66.2 207.8h0M95.0 214.6h0M69.9 205.5h0M82.0 208.6h0M73.7 205.4h0M48.7 216.8h0M70.4 216.5h0M59.4 206.7h0M60.6 201.9h0M97.0 208.9h0M57.7 209.3h0M91.5 215.1h0M75.9 203.8h0M50.4 210.6h0M81.8 217.9h0M63.8 201.0h0M81.9 212.5h0M63.0 205.0h0M60.1 215.2h0M84.8 204.9h0M71.0 204.6h0M49.5 215.0h0M97.2 205.7h0M70.0 216.8h0M64.9 212.6h0M106.6 205.5h0M98.2 205.7h0M59.2 212.5h0M70.1 208.2h0M102.8 202.9h0M62.4 211.1h0M63.0 208.1h0M62.0 211.4h0M98.4 216.9h0M67.2 214.2h0M67.7 216.2h0M109.2 212.7h0M74.3 206.2h0M59.8 215.9h0M107.6 212.7h0M106.7 206.0h0M53.3 208.6h0M111.9 210.7h0M101.6 211.7h0M74.3 208.8h0M63.5 207.0h0M109.4 216.6h0M87.2 212.7h0M68.7 211.6h0M50.9 200.4h0M73.9 213.3h0M63.4 217.0h0M97.0 202.5h0M98.0 203.8h0M99.2 206.3h0M80.0 207.0h0M57.4 207.6h0" stroke="#d6d6d6" stroke-width="0.7" stroke-linecap="round" opacity="0.35" fill="none"/>
<path d="M111.5 271.7h0M107.8 262.3h0M111.2 270.7h0M99.2 254.3h0M99.4 235.0h0M96.3 236.9h0M109.3 258.9h0M110.9 265.4h0M111.8 266.6h0M94.7 237.6h0M108.9 268.9h0M90.5 235.0h0M99.3 244.0h0M95.6 230.0h0M99.1 242.7h0M93.6 242.6h0M102.0 254.5h0M111.2 268.9h0M104.2 252.9h0M105.0 257.3h0M98.1 229.6h0M103.7 255.5h0M114.0 269.5h0M103.7 253.7h0M93.5 239.6h0M96.2 242.2h0M110.6 268.2h0M104.0 252.5h0M97.1 229.1h0M107.8 263.1h0M91.8 235.7h0M108.6 260.1h0M105.1 254.1h0M109.0 255.5h0M94.4 242.5h0M108.1 260.0h0M98.6 241.5h0M106.5 260.1h0M99.2 236.9h0M113.7 270.4h0M104.8 256.0h0M106.1 259.2h0M107.0 253.7h0M109.5 260.0h0M89.0 237.7h0M110.7 266.5h0M100.1 249.7h0M98.4 243.0h0M98.7 239.9h0M97.7 238.4h0M89.6 232.6h0M108.1 254.5h0M93.0 229.6h0M105.2 254.3h0M105.1 251.6h0M105.6 254.8h0M94.1 234.1h0M110.5 268.3h0M92.0 235.5h0M106.7 257.4h0M103.7 250.0h0M95.5 230.5h0M108.3 255.8h0M99.5 246.5h0M104.2 252.1h0M110.3 266.4h0M104.1 254.9h0M95.1 235.1h0M110.5 268.8h0M104.8 254.9h0M94.6 241.8h0M105.9 260.0h0M106.8 256.7h0M99.6 245.2h0M92.3 231.1h0M100.6 233.9h0M103.0 251.0h0M103.2 253.1h0M101.0 252.1h0M98.4 234.5h0M88.9 230.0h0M109.7 265.4h0M95.9 235.0h0M103.7 255.4h0M98.1 244.1h0M96.2 246.0h0M112.6 267.5h0M99.6 243.4h0M112.7 270.6h0M102.3 249.7h0M112.7 271.9h0M110.9 264.8h0M108.3 261.3h0M95.4 233.7h0M96.7 232.1h0M111.1 264.0h0M100.2 246.4h0M100.4 237.5h0M111.0 265.8h0M109.2 265.4h0M109.6 260.9h0M101.7 250.7h0M103.5 248.3h0M107.9 264.8h0M107.1 259.1h0M98.0 246.4h0M94.1 231.5h0M109.4 264.0h0M97.5 240.9h0M92.6 240.6h0M108.6 264.9h0M111.1 265.9h0M109.4 262.9h0M96.4 240.7h0M93.5 241.4h0M113.5 269.8h0M108.6 263.7h0M97.1 240.9h0M95.3 236.9h0M110.9 269.2h0M110.7 264.5h0M104.0 251.0h0M94.8 230.1h0M97.1 233.5h0M102.6 249.2h0M108.6 261.2h0M101.1 253.8h0M113.0 270.7h0M107.5 259.2h0M92.2 236.5h0M90.8 230.6h0M102.6 249.8h0M111.7 267.0h0M92.8 232.4h0M112.1 271.2h0M100.5 245.1h0M94.6 239.0h0M108.5 258.0h0M101.8 242.5h0M101.5 246.3h0M105.8 254.2h0M100.2 246.4h0M111.2 271.1h0M95.1 229.2h0M109.2 265.1h0M100.2 249.6h0M96.3 237.3h0M96.6 238.7h0M105.4 257.0h0M103.4 241.9h0M110.1 268.5h0M95.3 238.8h0M105.5 254.4h0M95.8 241.4h0M97.0 245.4h0M97.8 246.3h0M105.0 253.5h0M92.0 236.6h0M108.8 257.9h0M103.6 253.8h0M103.0 254.6h0M103.3 238.0h0M97.5 242.5h0M109.2 266.9h0M93.0 239.4h0M106.7 253.1h0M100.6 250.6h0M101.8 248.3h0M98.0 241.8h0M107.4 265.3h0M97.7 236.8h0M95.1 242.3h0M110.4 267.2h0M111.3 266.3h0M99.5 247.3h0M88.3 232.7h0M104.0 253.3h0M110.8 267.6h0M96.7 241.3h0M99.5 250.4h0M98.9 242.9h0M93.3 236.9h0M110.4 266.6h0M98.7 242.0h0M101.3 252.7h0M109.7 259.7h0M111.7 269.4h0M110.1 263.7h0M99.7 242.5h0M103.0 250.7h0M107.2 258.5h0M113.2 271.7h0M97.1 242.2h0M94.3 227.9h0M111.9 268.6h0M101.9 244.4h0M104.1 252.3h0M108.5 260.6h0M96.6 245.3h0M102.5 251.8h0M108.6 258.9h0M88.5 235.0h0M94.0 237.5h0M89.6 232.6h0M102.3 246.2h0M106.9 257.1h0M107.1 261.4h0M96.9 235.1h0M101.6 245.1h0M101.6 252.3h0M102.5 247.7h0M114.0 270.9h0M103.7 250.6h0M94.3 232.2h0M99.7 239.7h0M93.2 237.6h0M88.9 231.7h0M98.0 236.8h0M103.0 254.4h0M112.0 271.3h0M95.7 241.2h0M112.5 269.1h0M109.6 260.2h0M111.5 271.8h0M107.9 260.5h0M108.0 259.4h0M91.8 230.7h0M112.6 262.8h0M93.9 235.7h0M107.3 259.3h0M99.2 241.0h0M110.9 265.5h0M101.5 248.7h0M95.8 234.0h0M105.7 253.5h0M102.2 251.0h0M102.6 244.6h0M106.6 260.0h0M109.3 262.4h0M99.8 245.2h0M95.8 241.6h0M107.3 260.4h0M95.9 240.6h0M94.4 237.6h0M99.2 248.4h0M108.7 259.0h0M101.1 251.9h0M100.6 242.1h0M108.4 260.3h0M103.5 254.6h0M102.0 245.3h0M93.5 233.8h0M106.2 256.3h0M99.3 247.6h0M104.5 252.6h0M92.2 232.8h0M92.7 228.5h0M93.0 231.2h0M100.9 245.6h0M98.7 245.8h0M98.1 241.7h0M108.4 261.3h0M99.1 235.8h0M108.3 260.7h0M102.8 247.2h0M93.0 237.0h0M106.9 252.2h0M107.9 259.2h0M106.5 259.0h0M88.3 235.0h0M109.1 258.2h0M88.6 234.4h0M105.7 259.7h0M98.9 247.1h0M100.9 248.8h0M93.1 235.5h0M100.5 249.9h0M112.7 272.7h0M96.6 241.5h0M102.7 247.8h0M98.9 246.9h0M92.1 233.1h0M105.5 247.0h0M108.6 259.0h0M106.7 257.1h0M95.9 240.5h0M99.7 252.9h0M103.1 250.3h0M101.0 250.5h0M101.9 247.1h0M97.6 241.8h0M107.8 259.8h0M111.8 268.7h0M100.2 253.5h0M109.1 264.3h0M102.3 248.1h0M102.4 247.6h0M96.6 230.7h0M108.9 263.4h0M99.4 236.1h0M106.8 256.5h0M97.7 233.4h0M106.8 263.3h0M96.7 246.1h0M106.0 257.6h0M106.9 255.8h0M104.3 255.2h0M113.4 270.6h0M105.8 255.2h0M97.2 242.6h0M104.7 262.2h0M100.3 238.5h0M104.1 252.9h0M104.4 251.9h0M100.2 238.6h0M96.0 230.3h0M93.8 240.5h0M109.5 268.2h0M112.8 268.0h0M110.7 264.7h0M108.8 267.3h0M100.4 243.2h0M103.0 252.2h0M91.9 234.7h0M109.0 255.3h0M94.3 234.5h0M98.6 234.6h0M105.1 258.8h0M106.5 256.7h0M112.4 267.7h0M91.7 232.8h0M96.5 233.7h0M112.9 271.2h0M97.3 243.3h0M101.5 246.2h0M109.8 262.5h0M102.4 256.9h0M93.4 229.4h0M106.2 256.7h0M104.8 254.5h0M104.4 249.9h0M102.0 242.6h0M96.8 242.2h0M104.4 262.9h0M112.0 269.2h0M96.8 233.8h0M102.4 248.3h0M110.1 264.1h0M100.0 233.0h0M107.3 259.2h0M97.5 241.1h0M99.2 243.9h0M106.1 260.2h0M107.3 260.3h0M111.3 268.6h0M93.0 230.4h0M92.0 231.8h0M108.5 262.8h0M109.3 257.4h0M102.2 246.1h0M96.9 239.5h0M109.4 267.9h0M111.3 268.0h0M108.9 261.7h0M108.2 260.6h0M100.0 243.6h0M111.2 270.4h0M99.0 241.8h0M108.7 264.8h0M109.6 264.8h0M110.7 266.5h0M102.5 255.4h0M108.8 262.5h0M107.2 260.3h0M96.1 243.4h0M92.6 233.7h0M111.6 270.9h0M107.7 261.8h0M100.4 231.4h0M111.8 268.3h0M99.5 244.0h0M88.9 232.4h0M101.4 241.2h0M104.9 252.7h0M104.7 255.0h0M112.7 272.3h0M108.0 262.5h0M113.3 269.3h0M100.8 243.3h0M112.6 269.3h0M107.1 257.5h0M112.9 269.4h0M112.9 270.6h0M109.6 261.3h0M101.7 253.1h0M112.3 269.2h0M93.0 239.7h0M108.6 263.5h0M93.9 233.3h0M86.9 231.4h0M112.5 271.6h0M95.6 235.2h0M108.2 260.3h0M109.2 265.5h0M102.8 254.5h0M101.5 240.4h0M100.2 235.1h0M102.1 243.3h0M102.6 255.5h0M104.5 256.4h0M95.6 245.4h0M102.2 251.9h0M89.1 231.0h0M96.9 232.6h0M95.6 230.5h0M109.6 263.8h0M95.7 241.3h0M105.9 260.5h0M101.1 245.0h0M101.7 244.7h0" stroke="#a8a8b0" stroke-width="0.9" stroke-linecap="round" opacity="0.55" fill="none"/>
<path d="M152.7 209.1h0M144.2 214.1h0M132.9 217.7h0M137.2 212.2h0M138.7 218.7h0M135.8 217.3h0M134.9 230.3h0M123.2 230.8h0M147.9 215.8h0M125.9 232.3h0M147.0 217.2h0M126.1 231.6h0M127.5 224.6h0M143.5 212.5h0M127.2 228.3h0M143.8 213.4h0M134.1 217.0h0M147.2 211.5h0M134.4 216.4h0M145.6 210.1h0M146.6 207.3h0M122.0 231.2h0M135.4 222.1h0M146.4 215.0h0M138.4 222.8h0M147.0 215.0h0M139.9 212.7h0M127.7 229.3h0M136.7 222.7h0M120.8 224.4h0M148.0 215.8h0M131.9 226.2h0M148.0 218.4h0M139.9 221.3h0M153.1 208.7h0M125.3 229.7h0M129.8 228.1h0M129.6 221.3h0M146.9 219.9h0M141.8 211.2h0M148.5 216.6h0M138.6 221.9h0M144.7 212.1h0M135.9 221.5h0M139.6 220.0h0M137.5 218.9h0M144.4 214.4h0M154.0 210.5h0M140.6 213.9h0M144.8 218.4h0M141.5 219.5h0M132.8 223.1h0M134.7 224.0h0M125.6 232.1h0M146.9 212.4h0M156.7 206.8h0M136.0 224.7h0M135.0 221.8h0M149.6 213.6h0M139.3 214.6h0M151.5 215.4h0M153.4 204.7h0M143.9 219.1h0M133.0 230.4h0M133.1 229.9h0M140.3 216.9h0M143.8 213.2h0M139.6 218.9h0M126.0 227.2h0M149.2 212.7h0M128.0 222.5h0M123.9 231.3h0M141.1 216.0h0M141.3 212.8h0M136.8 221.7h0M150.2 207.5h0M145.0 213.1h0M144.8 217.0h0M145.0 211.2h0M127.5 223.2h0M137.7 220.6h0M154.0 213.4h0M152.5 210.1h0M135.6 223.2h0M128.3 228.0h0M124.2 232.0h0M142.4 220.7h0M153.1 208.0h0M148.7 217.7h0M128.6 218.0h0M136.2 221.0h0M140.6 211.3h0M125.1 230.2h0M130.0 228.0h0M150.8 208.0h0M130.0 228.6h0M133.3 231.8h0M134.1 223.3h0M124.2 233.2h0M145.2 208.8h0M132.3 226.2h0M138.1 223.8h0M131.6 228.3h0M136.0 216.9h0M132.6 233.2h0M127.0 225.1h0M131.5 226.1h0M134.2 227.5h0M144.8 214.2h0M131.4 221.5h0M143.5 213.5h0M142.3 221.6h0M151.5 210.4h0M140.3 218.7h0M139.9 223.1h0M139.3 225.3h0M140.6 212.9h0M131.6 226.8h0M138.2 217.2h0M136.7 224.8h0M146.7 207.4h0M134.7 223.1h0M124.4 233.4h0M132.2 221.4h0M136.7 220.6h0M159.6 208.4h0M159.8 203.5h0M145.9 208.4h0M129.8 224.4h0M148.6 206.6h0M143.2 217.8h0M146.9 206.2h0M126.7 227.6h0M138.9 216.6h0M118.9 230.3h0M157.1 214.7h0M134.9 223.3h0M142.5 210.5h0M130.2 233.4h0M120.1 223.9h0M137.7 213.8h0M145.7 214.1h0M131.2 221.7h0M131.2 222.8h0M145.6 214.4h0M147.1 218.7h0M148.4 211.5h0M135.7 221.2h0M130.1 223.3h0M140.4 216.0h0M154.6 207.1h0M149.6 206.0h0M128.1 227.4h0M133.5 225.1h0M137.6 222.5h0M118.8 225.7h0M146.4 214.4h0M139.0 217.5h0M129.1 223.8h0M148.5 207.6h0M150.7 207.6h0M137.7 221.5h0M143.7 212.5h0M149.2 208.5h0M142.3 215.2h0M155.0 210.4h0M128.4 223.9h0M141.4 224.7h0M147.9 209.6h0M141.3 224.5h0" stroke="#c8c8c8" stroke-width="0.8" stroke-linecap="round" opacity="0.45" fill="none"/>
<path d="M124.1 226.7h0M126.5 231.4h0M122.9 229.5h0M123.5 228.7h0M124.4 226.8h0M125.9 229.1h0M129.9 228.9h0M123.4 224.3h0M132.0 227.3h0M120.9 227.1h0M123.0 227.7h0M129.8 226.5h0M122.1 226.6h0M125.4 223.1h0M127.0 226.9h0M117.3 232.4h0M117.7 230.1h0M123.1 226.0h0M116.3 225.8h0M126.0 227.7h0M120.7 230.8h0M123.1 228.2h0M119.5 223.8h0M121.1 228.8h0M121.3 228.9h0M122.0 227.2h0M122.8 229.0h0M114.0 227.9h0M122.2 226.6h0M126.9 231.4h0M127.6 230.1h0M124.8 228.3h0M126.0 226.0h0M122.4 228.9h0M122.4 224.2h0M122.6 226.7h0M120.4 229.8h0M127.3 228.2h0M118.4 227.4h0M122.2 224.8h0M120.5 228.3h0M120.6 229.2h0M117.7 229.9h0M120.2 228.3h0M123.0 226.4h0M127.1 222.6h0M123.7 229.8h0M122.0 227.7h0M118.4 227.8h0M123.6 226.1h0M123.0 226.8h0M118.8 227.6h0M119.8 230.5h0M119.8 232.0h0M122.8 227.8h0M120.0 229.1h0M118.8 223.3h0M124.6 221.7h0M127.5 226.3h0M129.2 228.6h0M129.5 223.5h0M121.2 228.6h0M120.7 228.1h0M122.3 229.8h0M128.7 221.5h0M125.4 224.4h0M129.5 223.5h0M119.6 229.4h0M122.2 229.9h0M124.4 225.6h0M116.4 231.3h0M122.1 227.5h0M121.7 227.1h0M120.0 228.0h0M123.9 224.2h0M116.6 229.5h0M126.4 226.2h0M122.3 226.4h0M124.5 227.6h0M120.7 225.6h0M124.7 228.9h0M121.2 229.0h0M110.4 226.5h0M123.6 221.9h0M120.6 228.5h0M128.0 229.0h0M117.9 230.5h0M121.8 230.3h0M117.3 223.0h0M116.5 229.6h0M127.7 228.6h0M123.6 227.5h0M123.7 224.8h0M127.9 230.2h0M126.8 227.6h0M126.3 230.7h0M133.1 231.0h0M119.9 225.5h0M126.5 229.3h0M125.2 228.0h0M119.7 228.3h0M117.0 228.7h0M132.2 230.0h0M119.5 225.3h0M132.7 229.7h0M120.8 229.5h0M121.6 224.7h0M123.5 229.3h0M128.2 224.2h0M128.9 227.1h0M114.9 230.7h0M127.0 229.4h0M126.3 225.2h0M125.0 223.0h0M120.3 235.3h0M129.7 229.0h0M125.0 228.1h0M125.5 228.4h0M119.2 226.8h0M115.2 225.3h0M122.3 229.0h0M132.0 223.1h0M131.5 226.6h0M121.2 227.6h0M131.9 224.7h0M121.4 229.5h0M126.8 229.0h0M123.4 230.7h0M119.0 232.5h0M121.0 229.0h0M119.2 226.1h0M127.0 229.5h0M122.2 230.2h0M136.1 220.7h0M114.6 228.4h0M116.0 230.8h0M119.6 227.8h0M119.6 233.9h0M129.2 222.9h0M125.7 227.0h0M129.0 228.8h0M119.9 226.6h0M123.2 232.8h0M123.4 226.3h0M121.3 230.3h0M121.7 233.0h0M126.6 228.3h0M123.4 226.9h0M113.3 231.3h0M129.2 227.3h0M124.1 223.9h0M122.2 228.4h0M122.7 228.0h0M127.0 230.0h0M126.2 226.2h0M120.9 227.9h0M116.4 223.7h0M124.3 227.9h0M123.3 231.4h0M114.2 229.1h0" stroke="#c0c0c6" stroke-width="0.9" stroke-linecap="round" opacity="0.5" fill="none"/>
<path d="M116 273 L114.6 245 L114.6 234 L117 230.5 L123 229.5 L129.5 230.5 L131.8 233 L127.5 243 Z" fill="#c0c0c6"/>
<path d="M116 272 L114.2 248 L114 238 L119 236 L123.5 240 Z" fill="#b0b0b8" opacity="0.55"/>
<line x1="42.2" y1="200" x2="42.2" y2="277.8" stroke="#222" stroke-width="1.1"/>
<line x1="41.7" y1="277.3" x2="161" y2="277.3" stroke="#222" stroke-width="1.1"/>
<line x1="38.8" y1="210" x2="42.2" y2="210" stroke="#222" stroke-width="0.9"/>
<text x="35.6" y="212.3" font-size="6.6" text-anchor="end" stroke="#2b2b2b" stroke-width="0.22">100</text>
<line x1="38.8" y1="227" x2="42.2" y2="227" stroke="#222" stroke-width="0.9"/>
<text x="35.6" y="229.3" font-size="6.6" text-anchor="end" stroke="#2b2b2b" stroke-width="0.22">30</text>
<line x1="38.8" y1="243.3" x2="42.2" y2="243.3" stroke="#222" stroke-width="0.9"/>
<text x="35.6" y="245.60000000000002" font-size="6.6" text-anchor="end" stroke="#2b2b2b" stroke-width="0.22">10</text>
<line x1="38.8" y1="260.5" x2="42.2" y2="260.5" stroke="#222" stroke-width="0.9"/>
<text x="35.6" y="262.8" font-size="6.6" text-anchor="end" stroke="#2b2b2b" stroke-width="0.22">3</text>
<line x1="38.8" y1="277.3" x2="42.2" y2="277.3" stroke="#222" stroke-width="0.9"/>
<text x="35.6" y="279.6" font-size="6.6" text-anchor="end" stroke="#2b2b2b" stroke-width="0.22">1</text>
<line x1="50.0" y1="277.3" x2="50.0" y2="280.6" stroke="#222" stroke-width="0.9"/>
<text x="48.8" y="288.8" font-size="6.6" text-anchor="middle" stroke="#2b2b2b" stroke-width="0.22">−4</text>
<line x1="65.5" y1="277.3" x2="65.5" y2="280.6" stroke="#222" stroke-width="0.9"/>
<text x="64.3" y="288.8" font-size="6.6" text-anchor="middle" stroke="#2b2b2b" stroke-width="0.22">−3</text>
<line x1="81.0" y1="277.3" x2="81.0" y2="280.6" stroke="#222" stroke-width="0.9"/>
<text x="79.8" y="288.8" font-size="6.6" text-anchor="middle" stroke="#2b2b2b" stroke-width="0.22">−2</text>
<line x1="96.5" y1="277.3" x2="96.5" y2="280.6" stroke="#222" stroke-width="0.9"/>
<text x="95.3" y="288.8" font-size="6.6" text-anchor="middle" stroke="#2b2b2b" stroke-width="0.22">−1</text>
<line x1="112.0" y1="277.3" x2="112.0" y2="280.6" stroke="#222" stroke-width="0.9"/>
<text x="112.0" y="288.8" font-size="6.6" text-anchor="middle" stroke="#2b2b2b" stroke-width="0.22">0</text>
<line x1="127.5" y1="277.3" x2="127.5" y2="280.6" stroke="#222" stroke-width="0.9"/>
<text x="127.5" y="288.8" font-size="6.6" text-anchor="middle" stroke="#2b2b2b" stroke-width="0.22">1</text>
<line x1="143.0" y1="277.3" x2="143.0" y2="280.6" stroke="#222" stroke-width="0.9"/>
<text x="143.0" y="288.8" font-size="6.6" text-anchor="middle" stroke="#2b2b2b" stroke-width="0.22">2</text>
<line x1="158.5" y1="277.3" x2="158.5" y2="280.6" stroke="#222" stroke-width="0.9"/>
<text x="158.5" y="288.8" font-size="6.6" text-anchor="middle" stroke="#2b2b2b" stroke-width="0.22">3</text>
<line x1="44" y1="273.6" x2="158" y2="273.6" stroke="#333" stroke-width="0.7" stroke-dasharray="0.8 1.1"/>
<text x="63.8" y="301.0" font-size="9.0" textLength="76.2" lengthAdjust="spacingAndGlyphs" stroke="#2b2b2b" stroke-width="0.22">Average log2 fold-change</text>
<text x="77.5" y="310.8" font-size="9.0" textLength="48.8" lengthAdjust="spacingAndGlyphs" stroke="#2b2b2b" stroke-width="0.22">in sc-ATAC peaks</text>
<text transform="translate(20.6 238) rotate(-90)" font-size="9.3" text-anchor="middle" textLength="43.5" lengthAdjust="spacingAndGlyphs" fill="#2b2b2b" stroke="#2b2b2b" stroke-width="0.22">-log10 <tspan font-style="italic">P</tspan>-value</text>
<ellipse cx="99" cy="227.8" rx="9" ry="4.2" fill="none" stroke="#2a5585" stroke-width="1.1"/>
<ellipse cx="93.2" cy="254.3" rx="15.2" ry="10.9" fill="none" stroke="#2a5585" stroke-width="1.1"/>
<ellipse cx="103.8" cy="270.2" rx="8.9" ry="3.5" fill="none" stroke="#2a5585" stroke-width="1.1"/>
<text x="72.8" y="228.3" font-size="4.6" textLength="13" lengthAdjust="spacingAndGlyphs" fill="#1a1a1a" stroke="#1a1a1a" stroke-width="0.12">CPXM1</text>
<text x="95.2" y="229.1" font-size="4.6" textLength="7.5" lengthAdjust="spacingAndGlyphs" fill="#1a1a1a" stroke="#1a1a1a" stroke-width="0.12">SPI1</text>
<text x="84.6" y="248.7" font-size="4.6" textLength="11" lengthAdjust="spacingAndGlyphs" fill="#1a1a1a" stroke="#1a1a1a" stroke-width="0.12">CSF1R</text>
<text x="84" y="252.9" font-size="4.6" textLength="11.5" lengthAdjust="spacingAndGlyphs" fill="#1a1a1a" stroke="#1a1a1a" stroke-width="0.12">MEF2C</text>
<text x="89.5" y="257.3" font-size="4.6" textLength="12" lengthAdjust="spacingAndGlyphs" fill="#1a1a1a" stroke="#1a1a1a" stroke-width="0.12">HOXA9</text>
<text x="88" y="261.3" font-size="4.6" textLength="12.5" lengthAdjust="spacingAndGlyphs" fill="#1a1a1a" stroke="#1a1a1a" stroke-width="0.12">RUNX1</text>
<text x="98.6" y="271.5" font-size="4.6" textLength="9.6" lengthAdjust="spacingAndGlyphs" fill="#1a1a1a" stroke="#1a1a1a" stroke-width="0.12">MYC</text>
<text x="109.8" y="234.1" font-size="4.6" textLength="10.2" lengthAdjust="spacingAndGlyphs" fill="#1a1a1a" stroke="#1a1a1a" stroke-width="0.12">CBX5</text>
<text x="134.2" y="231.3" font-size="4.6" textLength="9.8" lengthAdjust="spacingAndGlyphs" fill="#1a1a1a" stroke="#1a1a1a" stroke-width="0.12">CBX1</text>
<circle cx="132.1" cy="230" r="0.7" fill="#c0143c"/>
<text x="125" y="238.8" font-size="4.6" textLength="30.4" lengthAdjust="spacingAndGlyphs" fill="#1a1a1a" stroke="#1a1a1a" stroke-width="0.12">KDM6B/JMJD3</text>
<text x="116.4" y="252.9" font-size="4.6" textLength="7.2" lengthAdjust="spacingAndGlyphs" fill="#1a1a1a" stroke="#1a1a1a" stroke-width="0.12">XBP1</text>
<text x="125.4" y="256.6" font-size="4.6" textLength="9.9" lengthAdjust="spacingAndGlyphs" fill="#1a1a1a" stroke="#1a1a1a" stroke-width="0.12">BBC3</text>
<path d="M88.3 226.8 l2.2 1.2" stroke="#222" stroke-width="0.6"/>
<circle cx="101.3" cy="247.6" r="0.55" fill="#222"/>
<circle cx="100.3" cy="251.8" r="0.55" fill="#222"/>
<circle cx="103.6" cy="256.0" r="0.55" fill="#222"/>
<circle cx="103.0" cy="260.4" r="0.55" fill="#222"/>
<circle cx="96.0" cy="228.8" r="0.55" fill="#222"/>
<text x="177.5" y="170.2" font-size="11.4" font-weight="bold" fill="#000">D</text>
<text x="255.1" y="184.5" font-size="6.3" textLength="84.3" lengthAdjust="spacingAndGlyphs" stroke="#2b2b2b" stroke-width="0.22">PD mtNPM1 + FLT3-ITD AML</text>
<text x="262.2" y="193.0" font-size="6.3" textLength="71.7" lengthAdjust="spacingAndGlyphs" stroke="#2b2b2b" stroke-width="0.22">100 nM FHD-286/control</text>
<text x="222.1" y="202.6" font-size="6.2" textLength="53.9" lengthAdjust="spacingAndGlyphs" stroke="#2b2b2b" stroke-width="0.22">Hallmark pathways</text>
<line x1="222.1" y1="203.3" x2="276" y2="203.3" stroke="#444" stroke-width="0.55"/>
<line x1="276.6" y1="205.6" x2="276.6" y2="278" stroke="#222" stroke-width="1.1"/>
<line x1="319.3" y1="206.2" x2="319.3" y2="278" stroke="#222" stroke-width="1.1"/>
<line x1="276.1" y1="277.5" x2="319.8" y2="277.5" stroke="#222" stroke-width="1.1"/>
<rect x="282.20" y="209.40" width="37.10" height="6.00" fill="#174c7c"/>
<line x1="273.6" y1="212.4" x2="276.6" y2="212.4" stroke="#222" stroke-width="0.9"/>
<text x="270.4" y="214.5" font-size="6.2" text-anchor="end" textLength="48.7" lengthAdjust="spacingAndGlyphs" stroke="#2b2b2b" stroke-width="0.22">MYC_targets_V1</text>
<rect x="282.75" y="219.15" width="36.55" height="6.00" fill="#174c7c"/>
<line x1="273.6" y1="222.15" x2="276.6" y2="222.15" stroke="#222" stroke-width="0.9"/>
<text x="270.4" y="224.25" font-size="6.2" text-anchor="end" textLength="48.7" lengthAdjust="spacingAndGlyphs" stroke="#2b2b2b" stroke-width="0.22">MYC_targets_V2</text>
<rect x="283.10" y="228.90" width="36.20" height="6.00" fill="#174c7c"/>
<line x1="273.6" y1="231.9" x2="276.6" y2="231.9" stroke="#222" stroke-width="0.9"/>
<text x="270.4" y="234.0" font-size="6.2" text-anchor="end" textLength="67.8" lengthAdjust="spacingAndGlyphs" stroke="#2b2b2b" stroke-width="0.22">Inflammatory_response</text>
<rect x="287.25" y="238.65" width="32.05" height="6.00" fill="#174c7c"/>
<line x1="273.6" y1="241.65" x2="276.6" y2="241.65" stroke="#222" stroke-width="0.9"/>
<text x="270.4" y="243.75" font-size="6.2" text-anchor="end" textLength="75.0" lengthAdjust="spacingAndGlyphs" stroke="#2b2b2b" stroke-width="0.22">IL6_JAK_STAT3_signaling</text>
<rect x="289.70" y="248.40" width="29.60" height="6.00" fill="#174c7c"/>
<line x1="273.6" y1="251.4" x2="276.6" y2="251.4" stroke="#222" stroke-width="0.9"/>
<text x="270.4" y="253.5" font-size="6.2" text-anchor="end" textLength="35.0" lengthAdjust="spacingAndGlyphs" stroke="#2b2b2b" stroke-width="0.22">E2F_targets</text>
<rect x="291.20" y="258.15" width="28.10" height="6.00" fill="#174c7c"/>
<line x1="273.6" y1="261.15" x2="276.6" y2="261.15" stroke="#222" stroke-width="0.9"/>
<text x="270.4" y="263.25" font-size="6.2" text-anchor="end" textLength="49.6" lengthAdjust="spacingAndGlyphs" stroke="#2b2b2b" stroke-width="0.22">G2M_checkpoint</text>
<rect x="294.00" y="267.90" width="25.30" height="6.00" fill="#174c7c"/>
<line x1="273.6" y1="270.9" x2="276.6" y2="270.9" stroke="#222" stroke-width="0.9"/>
<text x="270.4" y="273.0" font-size="6.2" text-anchor="end" textLength="35.0" lengthAdjust="spacingAndGlyphs" stroke="#2b2b2b" stroke-width="0.22">DNA_repair</text>
<line x1="276.6" y1="277.5" x2="276.6" y2="281" stroke="#222" stroke-width="0.9"/>
<text x="275.40000000000003" y="289" font-size="6.6" text-anchor="middle" stroke="#2b2b2b" stroke-width="0.22">−3</text>
<line x1="290.83000000000004" y1="277.5" x2="290.83000000000004" y2="281" stroke="#222" stroke-width="0.9"/>
<text x="289.63000000000005" y="289" font-size="6.6" text-anchor="middle" stroke="#2b2b2b" stroke-width="0.22">−2</text>
<line x1="305.06" y1="277.5" x2="305.06" y2="281" stroke="#222" stroke-width="0.9"/>
<text x="303.86" y="289" font-size="6.6" text-anchor="middle" stroke="#2b2b2b" stroke-width="0.22">−1</text>
<line x1="319.29" y1="277.5" x2="319.29" y2="281" stroke="#222" stroke-width="0.9"/>
<text x="319.29" y="289" font-size="6.6" text-anchor="middle" stroke="#2b2b2b" stroke-width="0.22">0</text>
<text x="259.8" y="300.9" font-size="8.8" textLength="76.1" lengthAdjust="spacingAndGlyphs" stroke="#2b2b2b" stroke-width="0.22">N.E.S. (all q-values &lt; 0.1)</text>
<text x="357.0" y="170.2" font-size="11.4" font-weight="bold" fill="#000">E</text>
<text x="393.4" y="170.5" font-size="8.4" textLength="112.9" lengthAdjust="spacingAndGlyphs" stroke="#2b2b2b" stroke-width="0.22">PD mtNPM1 + FLT3-ITD AML</text>
<text x="388.5" y="180.8" font-size="8.4" textLength="123.5" lengthAdjust="spacingAndGlyphs" stroke="#2b2b2b" stroke-width="0.22">100 nM FHD-286, 16 hrs/control</text>
<text x="393.8" y="190.6" font-size="5.2" textLength="43.2" lengthAdjust="spacingAndGlyphs" stroke="#2b2b2b" stroke-width="0.1">704 mRNAs down</text>
<text x="475" y="190.6" font-size="5.2" textLength="36" lengthAdjust="spacingAndGlyphs" stroke="#2b2b2b" stroke-width="0.1">555 mRNAs up</text>
<path d="M441.5 259.8h0M441.3 257.7h0M440.5 249.7h0M439.7 244.3h0M438.4 241.5h0M442.7 262.8h0M440.9 250.9h0M441.8 253.0h0M436.1 227.2h0M440.9 256.3h0M441.6 257.6h0M438.9 241.0h0M437.6 238.8h0M438.2 243.4h0M442.7 262.5h0M440.8 251.6h0M442.8 267.5h0M442.2 270.4h0M439.5 238.7h0M440.8 253.3h0M439.2 235.4h0M442.1 258.9h0M442.0 258.5h0M443.7 270.5h0M442.4 254.1h0M433.8 230.9h0M438.4 227.3h0M437.7 240.9h0M442.2 263.7h0M441.1 258.4h0M441.5 262.7h0M438.5 235.3h0M439.5 228.6h0M443.8 271.6h0M442.8 263.7h0M436.9 230.5h0M442.3 268.3h0M441.6 259.8h0M439.9 236.9h0M440.8 254.8h0M437.4 242.4h0M437.2 233.7h0M438.1 236.2h0M439.2 249.3h0M441.6 261.2h0M439.1 240.6h0M438.9 240.9h0M443.2 267.9h0M439.6 242.3h0M440.7 248.6h0M437.0 228.3h0M440.5 248.6h0M438.2 231.7h0M440.3 227.1h0M441.1 250.1h0M436.5 232.3h0M437.8 240.6h0M442.7 268.5h0M440.9 251.5h0M441.1 253.0h0M442.7 266.5h0M443.0 261.1h0M437.5 224.2h0M439.8 236.6h0M437.5 230.4h0M440.9 255.1h0M443.8 271.8h0M438.0 230.1h0M440.6 248.6h0M437.7 241.0h0M438.2 241.4h0M437.3 228.8h0M443.3 268.1h0M436.0 229.2h0M442.0 252.2h0M440.3 234.3h0M436.5 230.1h0M440.0 247.1h0M441.2 260.1h0M442.6 266.7h0M438.2 235.7h0M442.2 262.8h0M437.1 235.4h0M437.0 229.0h0M436.2 229.4h0M438.5 235.0h0M440.7 242.2h0M437.8 233.9h0M441.2 254.9h0M437.4 224.7h0M442.8 263.3h0M441.8 260.2h0M443.0 261.8h0M444.1 267.2h0M437.5 227.1h0M441.2 244.5h0M440.3 231.7h0M443.4 269.4h0M440.1 247.3h0M442.7 271.7h0M437.9 240.1h0M443.2 269.3h0M443.1 268.4h0M438.3 242.1h0M443.3 271.1h0M436.6 239.4h0M439.4 248.1h0M443.0 266.9h0M440.3 249.2h0M442.3 267.9h0M441.8 264.7h0M444.7 265.8h0M442.0 263.2h0M437.0 232.1h0M436.8 230.0h0M443.4 266.5h0M439.4 244.1h0M442.2 267.7h0M443.9 268.5h0M439.2 239.8h0M443.6 269.5h0M437.8 226.5h0M441.5 255.0h0M441.1 253.4h0M440.4 232.9h0M442.6 264.9h0M441.1 249.7h0M442.1 266.5h0M439.5 230.3h0M439.5 240.2h0M440.9 253.0h0M438.0 240.0h0M442.8 269.8h0M441.2 250.6h0M435.8 226.4h0M437.9 233.7h0M440.1 258.9h0M440.4 244.1h0M438.5 229.2h0M443.0 270.2h0M441.0 257.1h0M442.9 263.3h0M443.1 266.6h0M438.5 229.7h0M440.5 250.4h0M442.0 256.9h0M443.5 270.7h0M441.0 246.3h0M440.7 252.9h0M439.7 239.9h0M441.6 268.4h0M437.3 225.3h0M438.9 234.7h0M440.8 253.5h0M439.2 234.0h0M443.2 266.4h0M441.4 252.5h0M443.5 271.6h0M441.7 262.6h0M439.2 241.0h0M437.6 226.4h0M441.4 243.4h0M443.5 265.6h0M438.8 239.8h0M440.5 246.8h0M440.0 242.6h0M438.2 226.6h0M438.7 242.8h0M440.6 255.5h0M440.0 244.3h0M439.8 247.1h0M441.0 248.1h0M443.1 265.9h0M438.7 248.3h0M444.2 269.9h0M442.0 257.5h0M437.8 225.8h0M440.6 254.7h0M436.5 227.6h0M438.5 242.8h0M440.0 241.9h0M434.5 224.2h0M438.4 240.2h0M439.2 241.6h0M441.7 252.7h0M438.4 244.4h0M443.1 266.4h0M438.3 234.4h0M443.7 270.9h0M443.7 271.9h0M442.6 264.0h0M444.0 271.8h0M439.0 237.9h0M439.3 246.2h0M442.8 269.3h0M442.8 270.4h0M443.5 267.5h0M437.5 231.3h0M439.6 241.1h0M439.0 232.8h0M441.6 257.6h0M442.3 263.9h0M440.6 263.4h0M437.7 230.1h0M437.8 226.4h0M442.4 261.8h0M442.3 255.6h0M442.7 259.5h0M440.9 253.1h0M443.9 271.1h0M441.9 254.6h0M441.2 252.7h0M441.2 258.4h0M441.5 257.9h0M439.3 249.9h0M441.5 268.0h0M439.4 241.1h0M438.9 242.5h0M437.7 227.7h0M442.1 264.6h0M441.6 254.3h0M437.0 234.4h0M442.2 260.4h0M441.6 262.6h0M440.3 241.3h0M438.4 228.5h0M441.2 243.4h0M441.4 261.0h0M440.5 244.9h0M438.8 229.3h0M442.2 261.9h0M438.9 241.1h0M439.7 251.1h0M438.5 226.4h0M441.8 261.3h0M437.0 228.9h0M438.7 231.8h0M439.2 233.0h0M436.9 224.9h0M437.5 225.8h0" stroke="#b4b4bc" stroke-width="0.9" stroke-linecap="round" opacity="0.55" fill="none"/>
<path d="M437.1 217.6h0M433.5 217.9h0M434.2 221.2h0M437.1 216.7h0M433.8 223.6h0M434.2 223.1h0M436.3 215.5h0M433.4 224.0h0M434.4 218.6h0M433.8 215.9h0M439.3 219.6h0M438.8 219.0h0M437.8 218.3h0M434.6 219.0h0M433.2 222.1h0M436.1 215.4h0M436.0 224.2h0M432.8 218.5h0M439.9 217.9h0M439.8 223.4h0M438.8 217.8h0M434.4 220.1h0M434.5 220.8h0M435.3 224.8h0M433.7 219.5h0M434.6 217.6h0M436.5 219.7h0M435.3 221.2h0M437.2 224.5h0M435.9 221.5h0M437.7 216.4h0M436.5 223.8h0M433.7 215.5h0M432.5 219.4h0M436.7 218.4h0M435.1 221.2h0M436.9 217.2h0M435.0 215.4h0M433.4 215.4h0M434.8 216.3h0" stroke="#c8c8cc" stroke-width="0.8" stroke-linecap="round" opacity="0.45" fill="none"/>
<path d="M458.6 245.2h0M454.7 266.6h0M456.8 250.0h0M459.0 239.9h0M456.2 252.3h0M459.1 247.9h0M468.2 213.2h0M454.9 267.0h0M465.0 216.2h0M460.0 242.3h0M471.3 208.4h0M463.4 231.5h0M455.5 264.0h0M458.2 256.9h0M461.2 230.0h0M465.2 224.6h0M455.2 267.6h0M459.3 247.6h0M455.4 264.6h0M457.9 250.6h0M462.1 231.7h0M456.3 261.1h0M458.7 249.0h0M465.9 224.5h0M474.3 201.4h0M459.4 246.5h0M463.8 230.6h0M468.2 219.6h0M458.3 248.5h0M456.0 255.8h0M461.5 233.1h0M454.1 270.3h0M455.2 269.4h0M458.5 244.7h0M457.6 253.6h0M456.6 246.7h0M461.0 237.0h0M456.8 258.0h0M466.6 217.1h0M455.4 261.7h0M460.5 229.3h0M456.3 260.0h0M465.1 220.4h0M453.6 271.5h0M461.6 230.0h0M457.6 247.2h0M455.7 254.5h0M457.6 253.9h0M462.6 231.7h0M458.9 249.9h0M461.6 224.4h0M460.3 242.3h0M461.0 234.6h0M460.1 238.5h0M454.8 268.3h0M460.5 238.2h0M464.3 229.3h0M457.3 253.1h0M470.4 208.4h0M455.9 254.3h0M459.4 230.6h0M453.1 267.2h0M461.0 239.5h0M455.8 260.7h0M458.4 242.0h0M458.2 243.3h0M462.9 229.0h0M457.1 248.4h0M459.1 237.6h0M454.9 264.1h0M454.9 257.9h0M455.3 261.1h0M456.9 261.4h0M460.2 244.3h0M461.8 232.7h0M456.5 253.7h0M467.2 213.4h0M454.9 259.1h0M458.0 249.0h0M458.0 245.7h0M457.3 250.3h0M455.7 268.8h0M458.4 250.5h0M456.1 259.2h0M457.8 248.6h0M454.6 262.4h0M455.6 265.5h0M455.6 260.0h0M455.2 264.0h0M469.8 219.1h0M460.7 244.4h0M456.6 259.7h0M467.3 213.2h0M464.6 229.1h0M463.2 226.5h0M459.1 247.3h0M461.7 230.9h0M472.3 212.5h0M463.7 227.6h0M457.7 254.8h0M459.5 246.3h0M465.6 219.4h0M465.1 220.7h0M455.6 260.8h0M456.2 258.1h0M455.5 270.6h0M461.0 238.7h0M462.5 234.2h0M455.8 263.4h0M460.4 241.8h0M455.0 263.6h0M471.9 207.1h0M458.5 243.0h0M456.5 259.4h0M460.0 238.0h0M472.4 204.8h0M459.1 242.4h0M453.9 269.6h0M468.3 215.9h0M463.7 228.4h0M467.6 220.3h0M463.6 236.1h0M455.3 266.7h0M455.2 261.5h0M455.2 260.1h0M456.4 252.8h0M466.0 216.1h0M454.2 266.6h0M454.7 261.2h0M461.7 233.4h0M463.4 230.4h0M462.6 234.7h0M462.4 229.4h0M462.4 221.4h0M453.8 271.2h0M457.1 256.7h0M455.2 267.8h0M455.8 253.3h0M457.9 254.1h0M468.3 214.1h0M454.5 267.7h0M470.5 213.9h0M455.3 263.6h0M461.6 234.9h0M455.9 256.7h0M459.0 242.1h0M472.9 204.9h0M454.5 270.1h0M462.5 227.0h0M465.4 216.4h0M456.0 261.3h0M464.0 218.7h0M465.8 214.6h0M454.6 258.9h0M470.9 207.3h0M462.8 227.8h0M459.3 241.3h0M461.0 232.1h0M455.5 259.9h0M468.1 217.3h0M461.7 233.4h0M457.9 248.3h0M461.0 234.1h0M458.0 246.0h0M457.1 255.3h0M458.1 247.4h0M457.5 253.5h0M463.0 229.1h0M460.2 242.1h0M459.0 243.9h0M456.8 262.4h0M465.8 218.4h0M465.0 218.0h0M464.8 221.2h0M459.2 247.5h0M458.6 244.0h0M458.7 237.1h0M455.9 251.9h0M460.0 237.9h0M456.2 253.0h0M461.0 241.5h0M462.1 235.6h0M467.2 214.8h0M456.5 258.3h0M472.0 208.2h0M464.6 219.0h0M455.2 259.4h0M462.2 234.6h0M463.7 223.6h0M454.7 271.3h0M455.3 256.0h0M455.8 260.4h0M461.9 240.1h0M465.6 223.2h0M463.5 225.0h0M460.7 242.8h0M460.4 242.2h0M456.9 259.6h0M457.1 254.1h0M455.2 263.6h0M455.0 261.5h0M454.2 271.3h0M455.7 262.2h0M455.8 260.0h0M463.8 233.1h0M455.0 267.0h0M454.7 262.0h0M466.1 218.0h0M456.3 256.0h0M469.9 216.7h0M463.3 227.2h0M462.4 235.6h0M459.4 240.0h0M457.9 249.1h0M469.0 207.6h0M458.5 248.5h0M467.5 207.2h0M459.7 239.6h0M462.9 232.7h0M454.3 262.8h0M458.8 245.2h0M457.3 254.2h0M464.2 223.6h0M458.6 244.0h0M456.3 255.1h0M456.8 252.0h0M454.7 267.3h0M467.6 211.3h0M467.2 216.9h0M456.6 256.6h0M458.9 254.2h0M459.5 244.8h0M455.0 267.4h0M455.2 269.1h0M456.0 257.4h0M463.4 236.4h0M458.9 241.0h0M454.8 266.5h0M459.4 245.4h0M456.2 260.3h0M455.5 267.5h0M455.3 265.7h0M470.1 202.1h0M456.5 254.0h0M454.3 269.1h0M454.6 265.2h0M459.1 246.5h0M472.3 207.5h0M456.0 266.8h0M464.6 224.7h0" stroke="#b8b8c0" stroke-width="0.9" stroke-linecap="round" opacity="0.5" fill="none"/>
<path d="M411.7 218.3h0M455.9 213.6h0M432.2 208.4h0M442.7 226.9h0M454.2 225.5h0M455.2 206.8h0M417.3 212.9h0M465.2 195.8h0M437.6 218.5h0M430.1 229.0h0M455.5 221.4h0M422.2 224.2h0M436.3 199.6h0M445.0 201.6h0M445.8 226.8h0M440.3 202.2h0M470.5 207.3h0M457.8 223.1h0M428.4 202.8h0M415.1 218.0h0M411.3 227.3h0M410.9 224.8h0M475.3 221.4h0M493.2 208.2h0M468.3 215.4h0M405.1 214.1h0M465.1 205.7h0M430.3 198.4h0M407.8 201.0h0M409.8 195.9h0M432.6 212.9h0M469.0 200.1h0M488.1 224.6h0M446.1 198.6h0M455.5 195.6h0M416.4 216.3h0M436.5 227.2h0M460.0 219.1h0M481.3 212.4h0M441.4 217.6h0M414.3 201.3h0M414.0 222.1h0M460.9 201.4h0M484.2 200.3h0M423.3 206.6h0M475.3 216.2h0M494.6 220.9h0M475.6 220.3h0M472.1 213.4h0M491.1 220.9h0M451.1 216.4h0M448.9 207.1h0M465.1 224.1h0M463.9 196.9h0M440.0 209.6h0M493.7 205.4h0M430.8 197.3h0M407.9 207.3h0M442.7 214.5h0M408.7 228.2h0M480.3 201.1h0M445.4 220.3h0M414.4 203.1h0M425.7 214.0h0M471.6 223.0h0M437.1 195.9h0M413.9 207.8h0M413.3 205.2h0M476.3 211.8h0M432.0 209.5h0M480.7 229.6h0M467.6 198.1h0M478.6 225.8h0M445.3 200.6h0M466.0 223.5h0M493.2 223.8h0M426.0 200.8h0M490.1 225.3h0M466.0 197.1h0M416.0 215.2h0M491.3 220.6h0M456.6 215.8h0M447.4 224.5h0M447.1 226.1h0M444.5 211.5h0M494.0 218.2h0M445.2 195.4h0M442.9 202.9h0M441.9 196.6h0M441.9 208.1h0" stroke="#d8d8d8" stroke-width="0.7" stroke-linecap="round" opacity="0.35" fill="none"/>
<line x1="391.3" y1="196.2" x2="391.3" y2="277.5" stroke="#222" stroke-width="1.1"/>
<line x1="390.8" y1="277.1" x2="507.7" y2="277.1" stroke="#222" stroke-width="1.1"/>
<line x1="388.3" y1="199.25" x2="391.3" y2="199.25" stroke="#222" stroke-width="0.9"/>
<text x="385.2" y="201.55" font-size="6.6" text-anchor="end" stroke="#2b2b2b" stroke-width="0.22">300</text>
<line x1="388.3" y1="220.75" x2="391.3" y2="220.75" stroke="#222" stroke-width="0.9"/>
<text x="385.2" y="223.05" font-size="6.6" text-anchor="end" stroke="#2b2b2b" stroke-width="0.22">100</text>
<line x1="388.3" y1="242.5" x2="391.3" y2="242.5" stroke="#222" stroke-width="0.9"/>
<text x="385.2" y="244.8" font-size="6.6" text-anchor="end" stroke="#2b2b2b" stroke-width="0.22">30</text>
<line x1="388.3" y1="263.9" x2="391.3" y2="263.9" stroke="#222" stroke-width="0.9"/>
<text x="385.2" y="266.2" font-size="6.6" text-anchor="end" stroke="#2b2b2b" stroke-width="0.22">10</text>
<line x1="391.4" y1="277.1" x2="391.4" y2="280.5" stroke="#222" stroke-width="0.9"/>
<text x="390.2" y="288.9" font-size="6.6" text-anchor="middle" stroke="#2b2b2b" stroke-width="0.22">−3</text>
<line x1="410.41999999999996" y1="277.1" x2="410.41999999999996" y2="280.5" stroke="#222" stroke-width="0.9"/>
<text x="409.21999999999997" y="288.9" font-size="6.6" text-anchor="middle" stroke="#2b2b2b" stroke-width="0.22">−2</text>
<line x1="429.44" y1="277.1" x2="429.44" y2="280.5" stroke="#222" stroke-width="0.9"/>
<text x="428.24" y="288.9" font-size="6.6" text-anchor="middle" stroke="#2b2b2b" stroke-width="0.22">−1</text>
<line x1="448.46" y1="277.1" x2="448.46" y2="280.5" stroke="#222" stroke-width="0.9"/>
<text x="448.46" y="288.9" font-size="6.6" text-anchor="middle" stroke="#2b2b2b" stroke-width="0.22">0</text>
<line x1="467.47999999999996" y1="277.1" x2="467.47999999999996" y2="280.5" stroke="#222" stroke-width="0.9"/>
<text x="467.47999999999996" y="288.9" font-size="6.6" text-anchor="middle" stroke="#2b2b2b" stroke-width="0.22">1</text>
<line x1="486.5" y1="277.1" x2="486.5" y2="280.5" stroke="#222" stroke-width="0.9"/>
<text x="486.5" y="288.9" font-size="6.6" text-anchor="middle" stroke="#2b2b2b" stroke-width="0.22">2</text>
<line x1="505.52" y1="277.1" x2="505.52" y2="280.5" stroke="#222" stroke-width="0.9"/>
<text x="505.52" y="288.9" font-size="6.6" text-anchor="middle" stroke="#2b2b2b" stroke-width="0.22">3</text>
<text x="398.3" y="301.2" font-size="8.9" textLength="104.2" lengthAdjust="spacingAndGlyphs" stroke="#2b2b2b" stroke-width="0.22">Average log2 fold-change in mRNA</text>
<text x="433.8" y="310.8" font-size="8.9" textLength="32.9" lengthAdjust="spacingAndGlyphs" stroke="#2b2b2b" stroke-width="0.22">expression</text>
<text transform="translate(369.7 236.3) rotate(-90)" font-size="9.3" text-anchor="middle" textLength="44" lengthAdjust="spacingAndGlyphs" fill="#2b2b2b" stroke="#2b2b2b" stroke-width="0.22">-log10 <tspan font-style="italic">P</tspan>-value</text>
<ellipse cx="416.9" cy="199.9" rx="12.6" ry="6.3" fill="none" stroke="#2a5585" stroke-width="1.1"/>
<ellipse cx="432.8" cy="215.75" rx="18.4" ry="6.9" fill="none" stroke="#2a5585" stroke-width="1.1"/>
<text x="415" y="200.8" font-size="4.6" textLength="10" lengthAdjust="spacingAndGlyphs" fill="#1a1a1a" stroke="#1a1a1a" stroke-width="0.12">CD44</text>
<text x="409.5" y="204.5" font-size="4.6" textLength="9.4" lengthAdjust="spacingAndGlyphs" fill="#1a1a1a" stroke="#1a1a1a" stroke-width="0.12">MCL2</text>
<text x="416.8" y="218.0" font-size="4.6" textLength="9.2" lengthAdjust="spacingAndGlyphs" fill="#7a4a2a" stroke="#7a4a2a" stroke-width="0.12">BCL2</text>
<text x="422" y="221.3" font-size="4.6" textLength="5.4" lengthAdjust="spacingAndGlyphs" fill="#1a1a1a" stroke="#1a1a1a" stroke-width="0.12">KIT</text>
<text x="432.3" y="214.8" font-size="4.6" textLength="7.7" lengthAdjust="spacingAndGlyphs" fill="#1a1a1a" stroke="#1a1a1a" stroke-width="0.12">ERG</text>
<text x="433.3" y="218.5" font-size="4.6" textLength="7.4" lengthAdjust="spacingAndGlyphs" fill="#1a1a1a" stroke="#1a1a1a" stroke-width="0.12">SPI1</text>
<path d="M428 216.5 l2.5 -2.5 M428 216.5 l2 0" stroke="#1c4e80" stroke-width="0.8"/>
<text x="418.8" y="234.5" font-size="4.6" textLength="15.6" lengthAdjust="spacingAndGlyphs" fill="#1a1a1a" stroke="#1a1a1a" stroke-width="0.12">STAT5A</text>
<text x="439.8" y="233.5" font-size="4.6" textLength="12.5" lengthAdjust="spacingAndGlyphs" fill="#1a1a1a" stroke="#1a1a1a" stroke-width="0.12">CPXM1</text>
<text x="421" y="240.2" font-size="4.6" textLength="9.5" lengthAdjust="spacingAndGlyphs" fill="#1a1a1a" stroke="#1a1a1a" stroke-width="0.12">MCL1</text>
<text x="444.5" y="241.7" font-size="4.6" textLength="9.5" lengthAdjust="spacingAndGlyphs" fill="#1a1a1a" stroke="#1a1a1a" stroke-width="0.12">PBX3</text>
<text x="429.7" y="253" font-size="4.6" textLength="8.6" lengthAdjust="spacingAndGlyphs" fill="#1a1a1a" stroke="#1a1a1a" stroke-width="0.12">NSD2</text>
<circle cx="477.9" cy="225.3" r="0.75" fill="#b01040"/>
<text x="480.3" y="226.9" font-size="4.6" textLength="10.7" lengthAdjust="spacingAndGlyphs" fill="#1a1a1a" stroke="#1a1a1a" stroke-width="0.12">IRGM</text>
<text x="468.4" y="243.5" font-size="4.6" textLength="13.2" lengthAdjust="spacingAndGlyphs" fill="#1a1a1a" stroke="#1a1a1a" stroke-width="0.12">CFLAR</text>
<text x="457.2" y="248.2" font-size="4.6" textLength="15.8" lengthAdjust="spacingAndGlyphs" fill="#1a1a1a" stroke="#1a1a1a" stroke-width="0.12">CREBBP</text>
<circle cx="453.8" cy="267.5" r="0.7" fill="#c0143c"/>
<text x="455.3" y="268.8" font-size="4.6" textLength="10.3" lengthAdjust="spacingAndGlyphs" fill="#1a1a1a" stroke="#1a1a1a" stroke-width="0.12">XBP1</text>
<path d="M430.8 239.2 L436.5 242.6" stroke="#111" stroke-width="0.7"/><path d="M435.2 241 L439 244 L434.4 243.2 Z" fill="#111"/>
<path d="M444 241 L441.5 244.5" stroke="#111" stroke-width="0.6"/><path d="M441.4 242.6 L441 245 L442.9 243.6 Z" fill="#111"/>
<path d="M468 242.2 L459.5 242.2" stroke="#111" stroke-width="0.7"/><path d="M461.5 241 L459 242.2 L461.5 243.4 Z" fill="#111"/>
<path d="M434.6 233.5 L437 231" stroke="#111" stroke-width="0.5"/>
<rect x="0" y="0" width="520" height="1" fill="#505050"/>
<rect x="0" y="0" width="1.2" height="320" fill="#505050"/>
<rect x="518.7" y="0" width="1.3" height="320" fill="#525252"/>
<rect x="0" y="318.75" width="520" height="1.25" fill="#555555"/>
</svg>
</body></html>
